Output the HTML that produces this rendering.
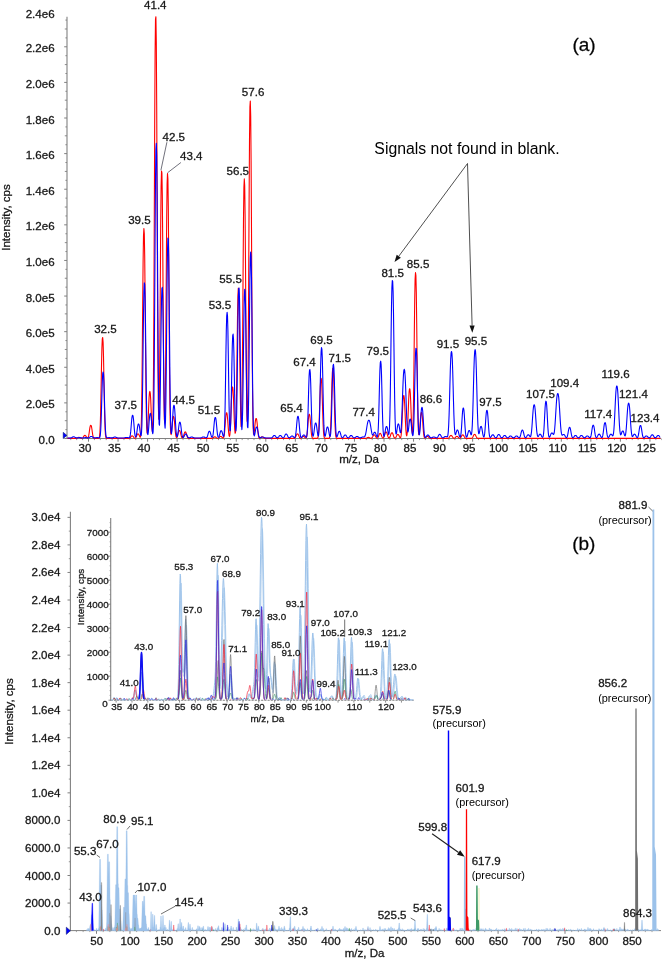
<!DOCTYPE html>
<html><head><meta charset="utf-8"><title>Mass spectra</title>
<style>
html,body{margin:0;padding:0;background:#fff}
svg{display:block;will-change:transform}
text{font-family:"Liberation Sans",sans-serif;stroke:#222;stroke-width:0.3px}
</style></head>
<body>
<svg width="662" height="960" viewBox="0 0 662 960">
<rect width="662" height="960" fill="#ffffff"/>
<line x1="67" y1="16.7" x2="67" y2="439.1" stroke="#808080" stroke-width="1.1" />
<line x1="64.2" y1="438.5" x2="67" y2="438.5" stroke="#808080" stroke-width="1" />
<text x="54.6" y="444" font-size="11.55" text-anchor="end" fill="#111" >0.0</text>
<line x1="65.4" y1="429.6" x2="67" y2="429.6" stroke="#808080" stroke-width="0.9" />
<line x1="64.8" y1="420.69" x2="67" y2="420.69" stroke="#808080" stroke-width="0.9" />
<line x1="65.4" y1="411.79" x2="67" y2="411.79" stroke="#808080" stroke-width="0.9" />
<line x1="64.2" y1="402.89" x2="67" y2="402.89" stroke="#808080" stroke-width="1" />
<text x="54.6" y="408.39" font-size="11.55" text-anchor="end" fill="#111" >2.0e5</text>
<line x1="65.4" y1="393.99" x2="67" y2="393.99" stroke="#808080" stroke-width="0.9" />
<line x1="64.8" y1="385.08" x2="67" y2="385.08" stroke="#808080" stroke-width="0.9" />
<line x1="65.4" y1="376.18" x2="67" y2="376.18" stroke="#808080" stroke-width="0.9" />
<line x1="64.2" y1="367.28" x2="67" y2="367.28" stroke="#808080" stroke-width="1" />
<text x="54.6" y="372.78" font-size="11.55" text-anchor="end" fill="#111" >4.0e5</text>
<line x1="65.4" y1="358.38" x2="67" y2="358.38" stroke="#808080" stroke-width="0.9" />
<line x1="64.8" y1="349.47" x2="67" y2="349.47" stroke="#808080" stroke-width="0.9" />
<line x1="65.4" y1="340.57" x2="67" y2="340.57" stroke="#808080" stroke-width="0.9" />
<line x1="64.2" y1="331.67" x2="67" y2="331.67" stroke="#808080" stroke-width="1" />
<text x="54.6" y="337.17" font-size="11.55" text-anchor="end" fill="#111" >6.0e5</text>
<line x1="65.4" y1="322.77" x2="67" y2="322.77" stroke="#808080" stroke-width="0.9" />
<line x1="64.8" y1="313.87" x2="67" y2="313.87" stroke="#808080" stroke-width="0.9" />
<line x1="65.4" y1="304.96" x2="67" y2="304.96" stroke="#808080" stroke-width="0.9" />
<line x1="64.2" y1="296.06" x2="67" y2="296.06" stroke="#808080" stroke-width="1" />
<text x="54.6" y="301.56" font-size="11.55" text-anchor="end" fill="#111" >8.0e5</text>
<line x1="65.4" y1="287.16" x2="67" y2="287.16" stroke="#808080" stroke-width="0.9" />
<line x1="64.8" y1="278.25" x2="67" y2="278.25" stroke="#808080" stroke-width="0.9" />
<line x1="65.4" y1="269.35" x2="67" y2="269.35" stroke="#808080" stroke-width="0.9" />
<line x1="64.2" y1="260.45" x2="67" y2="260.45" stroke="#808080" stroke-width="1" />
<text x="54.6" y="265.95" font-size="11.55" text-anchor="end" fill="#111" >1.0e6</text>
<line x1="65.4" y1="251.55" x2="67" y2="251.55" stroke="#808080" stroke-width="0.9" />
<line x1="64.8" y1="242.64" x2="67" y2="242.64" stroke="#808080" stroke-width="0.9" />
<line x1="65.4" y1="233.74" x2="67" y2="233.74" stroke="#808080" stroke-width="0.9" />
<line x1="64.2" y1="224.84" x2="67" y2="224.84" stroke="#808080" stroke-width="1" />
<text x="54.6" y="230.34" font-size="11.55" text-anchor="end" fill="#111" >1.2e6</text>
<line x1="65.4" y1="215.94" x2="67" y2="215.94" stroke="#808080" stroke-width="0.9" />
<line x1="64.8" y1="207.03" x2="67" y2="207.03" stroke="#808080" stroke-width="0.9" />
<line x1="65.4" y1="198.13" x2="67" y2="198.13" stroke="#808080" stroke-width="0.9" />
<line x1="64.2" y1="189.23" x2="67" y2="189.23" stroke="#808080" stroke-width="1" />
<text x="54.6" y="194.73" font-size="11.55" text-anchor="end" fill="#111" >1.4e6</text>
<line x1="65.4" y1="180.33" x2="67" y2="180.33" stroke="#808080" stroke-width="0.9" />
<line x1="64.8" y1="171.43" x2="67" y2="171.43" stroke="#808080" stroke-width="0.9" />
<line x1="65.4" y1="162.52" x2="67" y2="162.52" stroke="#808080" stroke-width="0.9" />
<line x1="64.2" y1="153.62" x2="67" y2="153.62" stroke="#808080" stroke-width="1" />
<text x="54.6" y="159.12" font-size="11.55" text-anchor="end" fill="#111" >1.6e6</text>
<line x1="65.4" y1="144.72" x2="67" y2="144.72" stroke="#808080" stroke-width="0.9" />
<line x1="64.8" y1="135.81" x2="67" y2="135.81" stroke="#808080" stroke-width="0.9" />
<line x1="65.4" y1="126.91" x2="67" y2="126.91" stroke="#808080" stroke-width="0.9" />
<line x1="64.2" y1="118.01" x2="67" y2="118.01" stroke="#808080" stroke-width="1" />
<text x="54.6" y="123.51" font-size="11.55" text-anchor="end" fill="#111" >1.8e6</text>
<line x1="65.4" y1="109.11" x2="67" y2="109.11" stroke="#808080" stroke-width="0.9" />
<line x1="64.8" y1="100.2" x2="67" y2="100.2" stroke="#808080" stroke-width="0.9" />
<line x1="65.4" y1="91.3" x2="67" y2="91.3" stroke="#808080" stroke-width="0.9" />
<line x1="64.2" y1="82.4" x2="67" y2="82.4" stroke="#808080" stroke-width="1" />
<text x="54.6" y="87.9" font-size="11.55" text-anchor="end" fill="#111" >2.0e6</text>
<line x1="65.4" y1="73.5" x2="67" y2="73.5" stroke="#808080" stroke-width="0.9" />
<line x1="64.8" y1="64.59" x2="67" y2="64.59" stroke="#808080" stroke-width="0.9" />
<line x1="65.4" y1="55.69" x2="67" y2="55.69" stroke="#808080" stroke-width="0.9" />
<line x1="64.2" y1="46.79" x2="67" y2="46.79" stroke="#808080" stroke-width="1" />
<text x="54.6" y="52.29" font-size="11.55" text-anchor="end" fill="#111" >2.2e6</text>
<line x1="65.4" y1="37.89" x2="67" y2="37.89" stroke="#808080" stroke-width="0.9" />
<line x1="64.8" y1="28.99" x2="67" y2="28.99" stroke="#808080" stroke-width="0.9" />
<line x1="65.4" y1="20.08" x2="67" y2="20.08" stroke="#808080" stroke-width="0.9" />
<text x="54.6" y="18.3" font-size="11.55" text-anchor="end" fill="#111" >2.4e6</text>
<line x1="67" y1="438.5" x2="661" y2="438.5" stroke="#808080" stroke-width="1.0" />
<line x1="70.77" y1="438.5" x2="70.77" y2="440.1" stroke="#808080" stroke-width="0.8" />
<line x1="76.68" y1="438.5" x2="76.68" y2="440.1" stroke="#808080" stroke-width="0.8" />
<line x1="82.59" y1="438.5" x2="82.59" y2="440.1" stroke="#808080" stroke-width="0.8" />
<line x1="88.5" y1="438.5" x2="88.5" y2="441.7" stroke="#808080" stroke-width="1" />
<text x="84.9" y="451.8" font-size="11.55" text-anchor="middle" fill="#111" >30</text>
<line x1="94.41" y1="438.5" x2="94.41" y2="440.1" stroke="#808080" stroke-width="0.8" />
<line x1="100.32" y1="438.5" x2="100.32" y2="440.1" stroke="#808080" stroke-width="0.8" />
<line x1="106.23" y1="438.5" x2="106.23" y2="440.1" stroke="#808080" stroke-width="0.8" />
<line x1="112.14" y1="438.5" x2="112.14" y2="440.1" stroke="#808080" stroke-width="0.8" />
<line x1="118.05" y1="438.5" x2="118.05" y2="441.7" stroke="#808080" stroke-width="1" />
<text x="114.45" y="451.8" font-size="11.55" text-anchor="middle" fill="#111" >35</text>
<line x1="123.96" y1="438.5" x2="123.96" y2="440.1" stroke="#808080" stroke-width="0.8" />
<line x1="129.87" y1="438.5" x2="129.87" y2="440.1" stroke="#808080" stroke-width="0.8" />
<line x1="135.78" y1="438.5" x2="135.78" y2="440.1" stroke="#808080" stroke-width="0.8" />
<line x1="141.69" y1="438.5" x2="141.69" y2="440.1" stroke="#808080" stroke-width="0.8" />
<line x1="147.6" y1="438.5" x2="147.6" y2="441.7" stroke="#808080" stroke-width="1" />
<text x="144" y="451.8" font-size="11.55" text-anchor="middle" fill="#111" >40</text>
<line x1="153.51" y1="438.5" x2="153.51" y2="440.1" stroke="#808080" stroke-width="0.8" />
<line x1="159.42" y1="438.5" x2="159.42" y2="440.1" stroke="#808080" stroke-width="0.8" />
<line x1="165.33" y1="438.5" x2="165.33" y2="440.1" stroke="#808080" stroke-width="0.8" />
<line x1="171.24" y1="438.5" x2="171.24" y2="440.1" stroke="#808080" stroke-width="0.8" />
<line x1="177.15" y1="438.5" x2="177.15" y2="441.7" stroke="#808080" stroke-width="1" />
<text x="173.55" y="451.8" font-size="11.55" text-anchor="middle" fill="#111" >45</text>
<line x1="183.06" y1="438.5" x2="183.06" y2="440.1" stroke="#808080" stroke-width="0.8" />
<line x1="188.97" y1="438.5" x2="188.97" y2="440.1" stroke="#808080" stroke-width="0.8" />
<line x1="194.88" y1="438.5" x2="194.88" y2="440.1" stroke="#808080" stroke-width="0.8" />
<line x1="200.79" y1="438.5" x2="200.79" y2="440.1" stroke="#808080" stroke-width="0.8" />
<line x1="206.7" y1="438.5" x2="206.7" y2="441.7" stroke="#808080" stroke-width="1" />
<text x="203.1" y="451.8" font-size="11.55" text-anchor="middle" fill="#111" >50</text>
<line x1="212.61" y1="438.5" x2="212.61" y2="440.1" stroke="#808080" stroke-width="0.8" />
<line x1="218.52" y1="438.5" x2="218.52" y2="440.1" stroke="#808080" stroke-width="0.8" />
<line x1="224.43" y1="438.5" x2="224.43" y2="440.1" stroke="#808080" stroke-width="0.8" />
<line x1="230.34" y1="438.5" x2="230.34" y2="440.1" stroke="#808080" stroke-width="0.8" />
<line x1="236.25" y1="438.5" x2="236.25" y2="441.7" stroke="#808080" stroke-width="1" />
<text x="232.65" y="451.8" font-size="11.55" text-anchor="middle" fill="#111" >55</text>
<line x1="242.16" y1="438.5" x2="242.16" y2="440.1" stroke="#808080" stroke-width="0.8" />
<line x1="248.07" y1="438.5" x2="248.07" y2="440.1" stroke="#808080" stroke-width="0.8" />
<line x1="253.98" y1="438.5" x2="253.98" y2="440.1" stroke="#808080" stroke-width="0.8" />
<line x1="259.89" y1="438.5" x2="259.89" y2="440.1" stroke="#808080" stroke-width="0.8" />
<line x1="265.8" y1="438.5" x2="265.8" y2="441.7" stroke="#808080" stroke-width="1" />
<text x="262.2" y="451.8" font-size="11.55" text-anchor="middle" fill="#111" >60</text>
<line x1="271.71" y1="438.5" x2="271.71" y2="440.1" stroke="#808080" stroke-width="0.8" />
<line x1="277.62" y1="438.5" x2="277.62" y2="440.1" stroke="#808080" stroke-width="0.8" />
<line x1="283.53" y1="438.5" x2="283.53" y2="440.1" stroke="#808080" stroke-width="0.8" />
<line x1="289.44" y1="438.5" x2="289.44" y2="440.1" stroke="#808080" stroke-width="0.8" />
<line x1="295.35" y1="438.5" x2="295.35" y2="441.7" stroke="#808080" stroke-width="1" />
<text x="291.75" y="451.8" font-size="11.55" text-anchor="middle" fill="#111" >65</text>
<line x1="301.26" y1="438.5" x2="301.26" y2="440.1" stroke="#808080" stroke-width="0.8" />
<line x1="307.17" y1="438.5" x2="307.17" y2="440.1" stroke="#808080" stroke-width="0.8" />
<line x1="313.08" y1="438.5" x2="313.08" y2="440.1" stroke="#808080" stroke-width="0.8" />
<line x1="318.99" y1="438.5" x2="318.99" y2="440.1" stroke="#808080" stroke-width="0.8" />
<line x1="324.9" y1="438.5" x2="324.9" y2="441.7" stroke="#808080" stroke-width="1" />
<text x="321.3" y="451.8" font-size="11.55" text-anchor="middle" fill="#111" >70</text>
<line x1="330.81" y1="438.5" x2="330.81" y2="440.1" stroke="#808080" stroke-width="0.8" />
<line x1="336.72" y1="438.5" x2="336.72" y2="440.1" stroke="#808080" stroke-width="0.8" />
<line x1="342.63" y1="438.5" x2="342.63" y2="440.1" stroke="#808080" stroke-width="0.8" />
<line x1="348.54" y1="438.5" x2="348.54" y2="440.1" stroke="#808080" stroke-width="0.8" />
<line x1="354.45" y1="438.5" x2="354.45" y2="441.7" stroke="#808080" stroke-width="1" />
<text x="350.85" y="451.8" font-size="11.55" text-anchor="middle" fill="#111" >75</text>
<line x1="360.36" y1="438.5" x2="360.36" y2="440.1" stroke="#808080" stroke-width="0.8" />
<line x1="366.27" y1="438.5" x2="366.27" y2="440.1" stroke="#808080" stroke-width="0.8" />
<line x1="372.18" y1="438.5" x2="372.18" y2="440.1" stroke="#808080" stroke-width="0.8" />
<line x1="378.09" y1="438.5" x2="378.09" y2="440.1" stroke="#808080" stroke-width="0.8" />
<line x1="384" y1="438.5" x2="384" y2="441.7" stroke="#808080" stroke-width="1" />
<text x="380.4" y="451.8" font-size="11.55" text-anchor="middle" fill="#111" >80</text>
<line x1="389.91" y1="438.5" x2="389.91" y2="440.1" stroke="#808080" stroke-width="0.8" />
<line x1="395.82" y1="438.5" x2="395.82" y2="440.1" stroke="#808080" stroke-width="0.8" />
<line x1="401.73" y1="438.5" x2="401.73" y2="440.1" stroke="#808080" stroke-width="0.8" />
<line x1="407.64" y1="438.5" x2="407.64" y2="440.1" stroke="#808080" stroke-width="0.8" />
<line x1="413.55" y1="438.5" x2="413.55" y2="441.7" stroke="#808080" stroke-width="1" />
<text x="409.95" y="451.8" font-size="11.55" text-anchor="middle" fill="#111" >85</text>
<line x1="419.46" y1="438.5" x2="419.46" y2="440.1" stroke="#808080" stroke-width="0.8" />
<line x1="425.37" y1="438.5" x2="425.37" y2="440.1" stroke="#808080" stroke-width="0.8" />
<line x1="431.28" y1="438.5" x2="431.28" y2="440.1" stroke="#808080" stroke-width="0.8" />
<line x1="437.19" y1="438.5" x2="437.19" y2="440.1" stroke="#808080" stroke-width="0.8" />
<line x1="443.1" y1="438.5" x2="443.1" y2="441.7" stroke="#808080" stroke-width="1" />
<text x="439.5" y="451.8" font-size="11.55" text-anchor="middle" fill="#111" >90</text>
<line x1="449.01" y1="438.5" x2="449.01" y2="440.1" stroke="#808080" stroke-width="0.8" />
<line x1="454.92" y1="438.5" x2="454.92" y2="440.1" stroke="#808080" stroke-width="0.8" />
<line x1="460.83" y1="438.5" x2="460.83" y2="440.1" stroke="#808080" stroke-width="0.8" />
<line x1="466.74" y1="438.5" x2="466.74" y2="440.1" stroke="#808080" stroke-width="0.8" />
<line x1="472.65" y1="438.5" x2="472.65" y2="441.7" stroke="#808080" stroke-width="1" />
<text x="469.05" y="451.8" font-size="11.55" text-anchor="middle" fill="#111" >95</text>
<line x1="478.56" y1="438.5" x2="478.56" y2="440.1" stroke="#808080" stroke-width="0.8" />
<line x1="484.47" y1="438.5" x2="484.47" y2="440.1" stroke="#808080" stroke-width="0.8" />
<line x1="490.38" y1="438.5" x2="490.38" y2="440.1" stroke="#808080" stroke-width="0.8" />
<line x1="496.29" y1="438.5" x2="496.29" y2="440.1" stroke="#808080" stroke-width="0.8" />
<line x1="502.2" y1="438.5" x2="502.2" y2="441.7" stroke="#808080" stroke-width="1" />
<text x="498.6" y="451.8" font-size="11.55" text-anchor="middle" fill="#111" >100</text>
<line x1="508.11" y1="438.5" x2="508.11" y2="440.1" stroke="#808080" stroke-width="0.8" />
<line x1="514.02" y1="438.5" x2="514.02" y2="440.1" stroke="#808080" stroke-width="0.8" />
<line x1="519.93" y1="438.5" x2="519.93" y2="440.1" stroke="#808080" stroke-width="0.8" />
<line x1="525.84" y1="438.5" x2="525.84" y2="440.1" stroke="#808080" stroke-width="0.8" />
<line x1="531.75" y1="438.5" x2="531.75" y2="441.7" stroke="#808080" stroke-width="1" />
<text x="528.15" y="451.8" font-size="11.55" text-anchor="middle" fill="#111" >105</text>
<line x1="537.66" y1="438.5" x2="537.66" y2="440.1" stroke="#808080" stroke-width="0.8" />
<line x1="543.57" y1="438.5" x2="543.57" y2="440.1" stroke="#808080" stroke-width="0.8" />
<line x1="549.48" y1="438.5" x2="549.48" y2="440.1" stroke="#808080" stroke-width="0.8" />
<line x1="555.39" y1="438.5" x2="555.39" y2="440.1" stroke="#808080" stroke-width="0.8" />
<line x1="561.3" y1="438.5" x2="561.3" y2="441.7" stroke="#808080" stroke-width="1" />
<text x="557.7" y="451.8" font-size="11.55" text-anchor="middle" fill="#111" >110</text>
<line x1="567.21" y1="438.5" x2="567.21" y2="440.1" stroke="#808080" stroke-width="0.8" />
<line x1="573.12" y1="438.5" x2="573.12" y2="440.1" stroke="#808080" stroke-width="0.8" />
<line x1="579.03" y1="438.5" x2="579.03" y2="440.1" stroke="#808080" stroke-width="0.8" />
<line x1="584.94" y1="438.5" x2="584.94" y2="440.1" stroke="#808080" stroke-width="0.8" />
<line x1="590.85" y1="438.5" x2="590.85" y2="441.7" stroke="#808080" stroke-width="1" />
<text x="587.25" y="451.8" font-size="11.55" text-anchor="middle" fill="#111" >115</text>
<line x1="596.76" y1="438.5" x2="596.76" y2="440.1" stroke="#808080" stroke-width="0.8" />
<line x1="602.67" y1="438.5" x2="602.67" y2="440.1" stroke="#808080" stroke-width="0.8" />
<line x1="608.58" y1="438.5" x2="608.58" y2="440.1" stroke="#808080" stroke-width="0.8" />
<line x1="614.49" y1="438.5" x2="614.49" y2="440.1" stroke="#808080" stroke-width="0.8" />
<line x1="620.4" y1="438.5" x2="620.4" y2="441.7" stroke="#808080" stroke-width="1" />
<text x="616.8" y="451.8" font-size="11.55" text-anchor="middle" fill="#111" >120</text>
<line x1="626.31" y1="438.5" x2="626.31" y2="440.1" stroke="#808080" stroke-width="0.8" />
<line x1="632.22" y1="438.5" x2="632.22" y2="440.1" stroke="#808080" stroke-width="0.8" />
<line x1="638.13" y1="438.5" x2="638.13" y2="440.1" stroke="#808080" stroke-width="0.8" />
<line x1="644.04" y1="438.5" x2="644.04" y2="440.1" stroke="#808080" stroke-width="0.8" />
<line x1="649.95" y1="438.5" x2="649.95" y2="441.7" stroke="#808080" stroke-width="1" />
<text x="646.35" y="451.8" font-size="11.55" text-anchor="middle" fill="#111" >125</text>
<line x1="655.86" y1="438.5" x2="655.86" y2="440.1" stroke="#808080" stroke-width="0.8" />
<line x1="661.77" y1="438.5" x2="661.77" y2="440.1" stroke="#808080" stroke-width="0.8" />
<text x="359.1" y="462.6" font-size="11.55" text-anchor="middle" fill="#111" >m/z, Da</text>
<text transform="translate(9.8,217.5) rotate(-90)" font-size="11.55" text-anchor="middle" fill="#111">Intensity, cps</text>
<polyline fill="none" stroke="#ff0000" stroke-width="1.1" stroke-linejoin="round" points="67.5,438.4 67.9,438.4 68.3,438.4 68.7,438.4 69.1,438.4 69.5,438.4 69.9,438.4 70.3,438.4 70.7,438.4 71.1,438.4 71.5,438.4 71.9,438.4 72.3,438.4 72.7,438.4 73.1,438.4 73.5,438.4 73.9,438.4 74.3,438.4 74.7,438.4 75.1,438.4 75.5,438.4 75.9,438.38 76.3,438.34 76.7,438.25 77.1,438.1 77.5,437.89 77.9,437.67 78.3,437.5 78.7,437.41 79.1,437.4 79.5,437.45 79.9,437.6 80.3,437.8 80.7,438.02 81.1,438.2 81.5,438.29 81.9,438.29 82.3,438.17 82.7,437.87 83.1,437.37 83.5,436.72 83.9,436.08 84.3,435.61 84.7,435.41 85.1,435.42 85.5,435.64 85.9,436.12 86.3,436.77 86.7,437.41 87.1,437.87 87.5,438.07 87.9,437.89 88.3,437.16 88.7,435.63 89.1,433.24 89.5,430.32 89.9,427.61 90.3,425.82 90.7,425.21 91.1,425.41 91.5,426.66 91.9,429.03 92.3,431.95 92.7,434.65 93.1,436.59 93.5,437.68 93.9,438.17 94.3,438.34 94.7,438.39 95.1,438.4 95.5,438.4 95.9,438.4 96.3,438.4 96.7,438.4 97.1,438.4 97.5,438.4 97.9,438.4 98.3,438.39 98.7,438.31 99.1,437.94 99.5,436.6 99.9,432.78 100.3,424.26 100.7,409.26 101.1,388.49 101.5,366.14 101.9,348.21 102.3,338.88 102.7,337.51 103.1,342.37 103.5,356.27 103.9,377.14 104.3,399.41 104.7,417.61 105.1,429.26 105.5,435.13 105.9,437.46 106.3,438.19 106.7,438.36 107.1,438.39 107.5,438.4 107.9,438.4 108.3,438.4 108.7,438.4 109.1,438.4 109.5,438.4 109.9,438.4 110.3,438.4 110.7,438.4 111.1,438.4 111.5,438.4 111.9,438.4 112.3,438.4 112.7,438.4 113.1,438.4 113.5,438.4 113.9,438.4 114.3,438.4 114.7,438.4 115.1,438.4 115.5,438.4 115.9,438.4 116.3,438.4 116.7,438.4 117.1,438.4 117.5,438.4 117.9,438.4 118.3,438.4 118.7,438.4 119.1,438.4 119.5,438.4 119.9,438.4 120.3,438.4 120.7,438.4 121.1,438.4 121.5,438.4 121.9,438.4 122.3,438.4 122.7,438.4 123.1,438.4 123.5,438.4 123.9,438.4 124.3,438.4 124.7,438.4 125.1,438.4 125.5,438.4 125.9,438.4 126.3,438.4 126.7,438.4 127.1,438.4 127.5,438.4 127.9,438.4 128.3,438.4 128.7,438.38 129.1,438.34 129.5,438.23 129.9,437.99 130.3,437.59 130.7,437.06 131.1,436.52 131.5,436.11 131.9,435.92 132.3,435.91 132.7,436.07 133.1,436.45 133.5,436.99 133.9,437.53 134.3,437.94 134.7,438.17 135.1,438.2 135.5,438 135.9,437.52 136.3,436.73 136.7,435.75 137.1,434.8 137.5,434.15 137.9,433.91 138.3,433.95 138.7,434.34 139.1,435.11 139.5,436.09 139.9,436.93 140.3,437.15 140.7,435.7 141.1,430.16 141.5,416.37 141.9,389.95 142.3,350.23 142.7,303.56 143.1,261.89 143.5,236.04 143.9,228.62 144.3,233.52 144.7,256.02 145.1,295.54 145.5,342.26 145.9,383.85 146.3,412.58 146.7,427.81 147.1,432.99 147.5,431.59 147.9,425.53 148.3,416.2 148.7,405.76 149.1,397.1 149.5,392.33 149.9,391.41 150.3,393.3 150.7,399.36 151.1,408.83 151.5,419.19 151.9,427.51 152.3,431.37 152.7,427.75 153.1,410.86 153.5,372.13 153.9,305.58 154.3,216.34 154.7,123.8 155.1,52.96 155.5,19.24 155.9,16.68 156.3,41.95 156.7,105.16 157.1,194.9 157.5,286.92 157.9,359.24 158.3,402.63 158.7,419.18 159.1,413.54 159.5,387.32 159.9,341.61 160.3,283.24 160.7,226.48 161.1,186.69 161.5,170.95 161.9,172.75 162.3,194.44 162.7,239.61 163.1,298.34 163.5,354.71 163.9,396.2 164.3,418.6 164.7,423.07 165.1,410.34 165.5,379 165.9,329.8 166.3,271.01 166.7,217.69 167.1,183.85 167.5,173.47 167.9,178.83 168.3,206.04 168.7,255.11 169.1,314.06 169.5,367.24 169.9,404.54 170.3,424.96 170.7,433.25 171.1,434.66 171.5,432.43 171.9,428.23 172.3,423.36 172.7,419.23 173.1,416.9 173.5,416.4 173.9,417.2 174.3,419.94 174.7,424.32 175.1,429.21 175.5,433.36 175.9,436.08 176.3,437.4 176.7,437.66 177.1,437.14 177.5,435.95 177.9,434.29 178.3,432.53 178.7,431.16 179.1,430.49 179.5,430.42 179.9,430.86 180.3,432.02 180.7,433.7 181.1,435.45 181.5,436.84 181.9,437.68 182.3,437.99 182.7,437.83 183.1,437.21 183.5,436.12 183.9,434.71 184.3,433.33 184.7,432.33 185.1,431.92 185.5,431.95 185.9,432.45 186.3,433.52 186.7,434.93 187.1,436.31 187.5,437.35 187.9,437.97 188.3,438.26 188.7,438.36 189.1,438.39 189.5,438.4 189.9,438.4 190.3,438.4 190.7,438.4 191.1,438.4 191.5,438.4 191.9,438.4 192.3,438.4 192.7,438.4 193.1,438.4 193.5,438.4 193.9,438.4 194.3,438.4 194.7,438.4 195.1,438.4 195.5,438.4 195.9,438.4 196.3,438.4 196.7,438.4 197.1,438.4 197.5,438.4 197.9,438.4 198.3,438.4 198.7,438.4 199.1,438.4 199.5,438.4 199.9,438.4 200.3,438.4 200.7,438.4 201.1,438.4 201.5,438.4 201.9,438.4 202.3,438.4 202.7,438.4 203.1,438.4 203.5,438.4 203.9,438.4 204.3,438.4 204.7,438.4 205.1,438.4 205.5,438.4 205.9,438.4 206.3,438.4 206.7,438.4 207.1,438.4 207.5,438.4 207.9,438.4 208.3,438.4 208.7,438.4 209.1,438.4 209.5,438.4 209.9,438.4 210.3,438.4 210.7,438.4 211.1,438.4 211.5,438.39 211.9,438.35 212.3,438.26 212.7,438.09 213.1,437.82 213.5,437.49 213.9,437.18 214.3,436.97 214.7,436.9 215.1,436.92 215.5,437.06 215.9,437.33 216.3,437.66 216.7,437.97 217.1,438.19 217.5,438.29 217.9,438.29 218.3,438.17 218.7,437.91 219.1,437.52 219.5,437.08 219.9,436.69 220.3,436.46 220.7,436.4 221.1,436.46 221.5,436.69 221.9,437.08 222.3,437.52 222.7,437.89 223.1,438.06 223.5,437.86 223.9,436.96 224.3,434.83 224.7,431.04 225.1,425.77 225.5,420.08 225.9,415.49 226.3,413.09 226.7,412.72 227.1,413.94 227.5,417.44 227.9,422.74 228.3,428.4 228.7,432.99 229.1,435.72 229.5,436.34 229.9,434.55 230.3,429.68 230.7,421.29 231.1,410.24 231.5,399.04 231.9,390.74 232.3,387.02 232.7,386.96 233.1,390.44 233.5,398.54 233.9,409.65 234.3,420.74 234.7,429.1 235.1,433.28 235.5,432.44 235.9,424.89 236.3,408.18 236.7,381.46 237.1,348.38 237.5,317.04 237.9,295.84 238.3,288.12 238.7,289.86 239.1,303.23 239.5,329.55 239.9,362.75 240.3,393.81 240.7,415.92 241.1,426.54 241.5,425.08 241.9,409.53 242.3,376.77 242.7,327.23 243.1,269.47 243.5,218.47 243.9,187.38 244.3,178.91 244.7,185.59 245.1,214.32 245.5,263.8 245.9,321.58 246.3,372.34 246.7,406.29 247.1,421.12 247.5,417.21 247.9,392.66 248.3,344.65 248.7,276.29 249.1,201.37 249.5,140 249.9,106.9 250.3,101.08 250.7,115.63 251.1,160.23 251.5,228.98 251.9,303.71 252.3,365.72 252.7,405.92 253.1,426.22 253.5,433.65 253.9,434.39 254.3,431.83 254.7,427.71 255.1,423.37 255.5,420.08 255.9,418.56 256.3,418.48 256.7,419.74 257.1,422.79 257.5,427.06 257.9,431.39 258.3,434.78 258.7,436.85 259.1,437.83 259.5,438.13 259.9,438.08 260.3,437.84 260.7,437.52 261.1,437.2 261.5,436.99 261.9,436.9 262.3,436.92 262.7,437.04 263.1,437.3 263.5,437.63 263.9,437.94 264.3,438.17 264.7,438.31 265.1,438.37 265.5,438.39 265.9,438.4 266.3,438.4 266.7,438.4 267.1,438.4 267.5,438.4 267.9,438.4 268.3,438.4 268.7,438.4 269.1,438.4 269.5,438.4 269.9,438.4 270.3,438.4 270.7,438.4 271.1,438.4 271.5,438.4 271.9,438.4 272.3,438.4 272.7,438.4 273.1,438.4 273.5,438.4 273.9,438.4 274.3,438.4 274.7,438.4 275.1,438.4 275.5,438.4 275.9,438.4 276.3,438.4 276.7,438.4 277.1,438.4 277.5,438.4 277.9,438.4 278.3,438.4 278.7,438.4 279.1,438.4 279.5,438.4 279.9,438.4 280.3,438.4 280.7,438.4 281.1,438.4 281.5,438.4 281.9,438.4 282.3,438.4 282.7,438.4 283.1,438.4 283.5,438.4 283.9,438.4 284.3,438.4 284.7,438.4 285.1,438.4 285.5,438.4 285.9,438.4 286.3,438.4 286.7,438.4 287.1,438.4 287.5,438.4 287.9,438.4 288.3,438.4 288.7,438.4 289.1,438.4 289.5,438.4 289.9,438.4 290.3,438.4 290.7,438.4 291.1,438.4 291.5,438.4 291.9,438.4 292.3,438.4 292.7,438.4 293.1,438.4 293.5,438.4 293.9,438.38 294.3,438.33 294.7,438.19 295.1,437.85 295.5,437.23 295.9,436.34 296.3,435.34 296.7,434.49 297.1,434.01 297.5,433.9 297.9,434.06 298.3,434.61 298.7,435.51 299.1,436.51 299.5,437.36 299.9,437.92 300.3,438.19 300.7,438.23 301.1,438.09 301.5,437.79 301.9,437.38 302.3,436.94 302.7,436.59 303.1,436.42 303.5,436.4 303.9,436.51 304.3,436.8 304.7,437.22 305.1,437.65 305.5,437.97 305.9,438.06 306.3,437.71 306.7,436.55 307.1,434.06 307.5,429.98 307.9,424.74 308.3,419.57 308.7,415.85 309.1,414.3 309.5,414.38 309.9,416.2 310.3,420.16 310.7,425.42 311.1,430.57 311.5,434.46 311.9,436.77 312.3,437.86 312.7,438.25 313.1,438.37 313.5,438.39 313.9,438.4 314.3,438.4 314.7,438.4 315.1,438.4 315.5,438.4 315.9,438.4 316.3,438.4 316.7,438.39 317.1,438.36 317.5,438.2 317.9,437.58 318.3,435.72 318.7,431.35 319.1,423.27 319.5,411.47 319.9,398.06 320.3,386.53 320.7,379.8 321.1,378.2 321.5,380.11 321.9,387.26 322.3,399.05 322.7,412.45 323.1,424.01 323.5,431.8 323.9,435.93 324.3,437.66 324.7,438.22 325.1,438.37 325.5,438.4 325.9,438.4 326.3,438.4 326.7,438.4 327.1,438.4 327.5,438.4 327.9,438.4 328.3,438.4 328.7,438.38 329.1,438.3 329.5,437.93 329.9,436.67 330.3,433.31 330.7,426.26 331.1,414.6 331.5,399.46 331.9,384.29 332.3,373.19 332.7,368.37 333.1,368.42 333.5,373.4 333.9,384.64 334.3,399.86 334.7,414.95 335.1,426.49 335.5,433.43 335.9,436.72 336.3,437.95 336.7,438.3 337.1,438.38 337.5,438.4 337.9,438.4 338.3,438.4 338.7,438.4 339.1,438.4 339.5,438.4 339.9,438.4 340.3,438.4 340.7,438.4 341.1,438.4 341.5,438.4 341.9,438.4 342.3,438.4 342.7,438.4 343.1,438.4 343.5,438.4 343.9,438.4 344.3,438.4 344.7,438.4 345.1,438.4 345.5,438.4 345.9,438.4 346.3,438.4 346.7,438.4 347.1,438.4 347.5,438.4 347.9,438.4 348.3,438.4 348.7,438.4 349.1,438.4 349.5,438.4 349.9,438.4 350.3,438.4 350.7,438.4 351.1,438.4 351.5,438.4 351.9,438.4 352.3,438.4 352.7,438.4 353.1,438.4 353.5,438.4 353.9,438.4 354.3,438.4 354.7,438.4 355.1,438.4 355.5,438.4 355.9,438.4 356.3,438.4 356.7,438.4 357.1,438.4 357.5,438.4 357.9,438.4 358.3,438.4 358.7,438.4 359.1,438.4 359.5,438.4 359.9,438.4 360.3,438.4 360.7,438.4 361.1,438.4 361.5,438.4 361.9,438.4 362.3,438.4 362.7,438.4 363.1,438.4 363.5,438.4 363.9,438.4 364.3,438.4 364.7,438.4 365.1,438.39 365.5,438.36 365.9,438.29 366.3,438.17 366.7,437.97 367.1,437.75 367.5,437.55 367.9,437.43 368.3,437.4 368.7,437.42 369.1,437.53 369.5,437.72 369.9,437.95 370.3,438.14 370.7,438.27 371.1,438.3 371.5,438.21 371.9,437.94 372.3,437.44 372.7,436.73 373.1,435.95 373.5,435.31 373.9,434.96 374.3,434.9 374.7,435.05 375.1,435.51 375.5,436.22 375.9,436.99 376.3,437.63 376.7,438.03 377.1,438.17 377.5,438.04 377.9,437.59 378.3,436.8 378.7,435.75 379.1,434.66 379.5,433.83 379.9,433.44 380.3,433.42 380.7,433.73 381.1,434.48 381.5,435.55 381.9,436.63 382.3,437.48 382.7,437.96 383.1,438.08 383.5,437.83 383.9,437.15 384.3,436.02 384.7,434.6 385.1,433.23 385.5,432.28 385.9,431.92 386.3,431.97 386.7,432.51 387.1,433.62 387.5,435.04 387.9,436.4 388.3,437.4 388.7,437.94 389.1,438.05 389.5,437.78 389.9,437.1 390.3,436.03 390.7,434.77 391.1,433.63 391.5,432.91 391.9,432.7 392.3,432.83 392.7,433.42 393.1,434.49 393.5,435.76 393.9,436.89 394.3,437.67 394.7,438.06 395.1,438.12 395.5,437.87 395.9,437.33 396.3,436.53 396.7,435.64 397.1,434.9 397.5,434.48 397.9,434.4 398.3,434.55 398.7,435.06 399.1,435.86 399.5,436.74 399.9,437.45 400.3,437.76 400.7,437.37 401.1,435.67 401.5,431.8 401.9,425.1 402.3,416.07 402.7,406.64 403.1,399.36 403.5,395.83 403.9,395.51 404.3,397.99 404.7,404.32 405.1,413.4 405.5,422.78 405.9,430.17 406.3,434.52 406.7,435.82 407.1,434.14 407.5,429.15 407.9,420.69 408.3,409.87 408.7,399.29 409.1,391.79 409.5,388.76 409.9,389.03 410.3,392.94 410.7,401.23 411.1,412.11 411.5,422.57 411.9,430.13 412.3,433.44 412.7,431.4 413.1,421.84 413.5,401.97 413.9,371.27 414.3,334.47 414.7,300.86 415.1,279.29 415.5,272.46 415.9,275.57 416.3,292.23 416.7,322.7 417.1,359.59 417.5,393.09 417.9,416.7 418.3,429.6 418.7,434.54 419.1,434.59 419.5,431.57 419.9,426.54 420.3,420.76 420.7,415.85 421.1,413.03 421.5,412.4 421.9,413.3 422.3,416.47 422.7,421.62 423.1,427.4 423.5,432.34 423.9,435.63 424.3,437.34 424.7,437.98 425.1,438.03 425.5,437.79 425.9,437.38 426.3,436.94 426.7,436.6 427.1,436.42 427.5,436.4 427.9,436.51 428.3,436.8 428.7,437.21 429.1,437.65 429.5,438.01 429.9,438.23 430.3,438.34 430.7,438.38 431.1,438.4 431.5,438.4 431.9,438.4 432.3,438.4 432.7,438.4 433.1,438.4 433.5,438.4 433.9,438.4 434.3,438.4 434.7,438.4 435.1,438.4 435.5,438.4 435.9,438.4 436.3,438.4 436.7,438.4 437.1,438.4 437.5,438.4 437.9,438.4 438.3,438.4 438.7,438.4 439.1,438.4 439.5,438.4 439.9,438.4 440.3,438.4 440.7,438.4 441.1,438.4 441.5,438.4 441.9,438.4 442.3,438.4 442.7,438.4 443.1,438.4 443.5,438.4 443.9,438.4 444.3,438.4 444.7,438.4 445.1,438.4 445.5,438.4 445.9,438.4 446.3,438.4 446.7,438.4 447.1,438.4 447.5,438.39 447.9,438.35 448.3,438.23 448.7,437.98 449.1,437.53 449.5,436.91 449.9,436.25 450.3,435.72 450.7,435.44 451.1,435.4 451.5,435.55 451.9,435.97 452.3,436.59 452.7,437.25 453.1,437.79 453.5,438.12 453.9,438.26 454.3,438.23 454.7,438.05 455.1,437.73 455.5,437.3 455.9,436.87 456.3,436.55 456.7,436.41 457.1,436.41 457.5,436.55 457.9,436.87 458.3,437.3 458.7,437.73 459.1,438.05 459.5,438.23 459.9,438.24 460.3,438.07 460.7,437.68 461.1,437.06 461.5,436.29 461.9,435.56 462.3,435.08 462.7,434.9 463.1,434.95 463.5,435.27 463.9,435.89 464.3,436.66 464.7,437.38 465.1,437.91 465.5,438.2 465.9,438.34 466.3,438.38 466.7,438.4 467.1,438.4 467.5,438.4 467.9,438.4 468.3,438.4 468.7,438.4 469.1,438.4 469.5,438.4 469.9,438.4 470.3,438.4 470.7,438.4 471.1,438.38 471.5,438.33 471.9,438.19 472.3,437.86 472.7,437.27 473.1,436.46 473.5,435.57 473.9,434.85 474.3,434.47 474.7,434.4 475.1,434.58 475.5,435.12 475.9,435.94 476.3,436.82 476.7,437.55 477.1,438.03 477.5,438.26 477.9,438.36 478.3,438.39 478.7,438.4 479.1,438.4 479.5,438.4 479.9,438.4 480.3,438.4 480.7,438.4 481.1,438.4 481.5,438.4 481.9,438.4 482.3,438.4 482.7,438.4 483.1,438.4 483.5,438.4 483.9,438.4 484.3,438.4 484.7,438.4 485.1,438.4 485.5,438.4 485.9,438.4 486.3,438.4 486.7,438.4 487.1,438.4 487.5,438.4 487.9,438.4 488.3,438.4 488.7,438.4 489.1,438.4 489.5,438.4 489.9,438.4 490.3,438.4 490.7,438.4 491.1,438.4 491.5,438.4 491.9,438.4 492.3,438.4 492.7,438.4 493.1,438.4 493.5,438.4 493.9,438.4 494.3,438.4 494.7,438.4 495.1,438.4 495.5,438.4 495.9,438.4 496.3,438.4 496.7,438.4 497.1,438.4 497.5,438.4 497.9,438.4 498.3,438.4 498.7,438.4 499.1,438.4 499.5,438.4 499.9,438.4 500.3,438.4 500.7,438.4 501.1,438.4 501.5,438.4 501.9,438.4 502.3,438.4 502.7,438.4 503.1,438.4 503.5,438.4 503.9,438.4 504.3,438.4 504.7,438.4 505.1,438.4 505.5,438.4 505.9,438.4 506.3,438.4 506.7,438.4 507.1,438.4 507.5,438.4 507.9,438.4 508.3,438.4 508.7,438.4 509.1,438.4 509.5,438.4 509.9,438.4 510.3,438.4 510.7,438.4 511.1,438.4 511.5,438.4 511.9,438.4 512.3,438.4 512.7,438.4 513.1,438.4 513.5,438.4 513.9,438.4 514.3,438.4 514.7,438.4 515.1,438.4 515.5,438.4 515.9,438.4 516.3,438.4 516.7,438.4 517.1,438.4 517.5,438.4 517.9,438.4 518.3,438.4 518.7,438.4 519.1,438.4 519.5,438.4 519.9,438.4 520.3,438.4 520.7,438.4 521.1,438.4 521.5,438.4 521.9,438.4 522.3,438.4 522.7,438.4 523.1,438.4 523.5,438.4 523.9,438.4 524.3,438.4 524.7,438.4 525.1,438.4 525.5,438.4 525.9,438.4 526.3,438.4 526.7,438.4 527.1,438.4 527.5,438.4 527.9,438.4 528.3,438.4 528.7,438.4 529.1,438.4 529.5,438.4 529.9,438.4 530.3,438.4 530.7,438.4 531.1,438.4 531.5,438.4 531.9,438.4 532.3,438.4 532.7,438.4 533.1,438.4 533.5,438.4 533.9,438.4 534.3,438.4 534.7,438.4 535.1,438.4 535.5,438.4 535.9,438.4 536.3,438.4 536.7,438.4 537.1,438.4 537.5,438.4 537.9,438.4 538.3,438.4 538.7,438.4 539.1,438.4 539.5,438.4 539.9,438.4 540.3,438.4 540.7,438.4 541.1,438.4 541.5,438.4 541.9,438.4 542.3,438.4 542.7,438.4 543.1,438.4 543.5,438.4 543.9,438.4 544.3,438.4 544.7,438.4 545.1,438.4 545.5,438.4 545.9,438.4 546.3,438.4 546.7,438.4 547.1,438.4 547.5,438.4 547.9,438.4 548.3,438.4 548.7,438.4 549.1,438.4 549.5,438.4 549.9,438.4 550.3,438.4 550.7,438.4 551.1,438.4 551.5,438.4 551.9,438.4 552.3,438.4 552.7,438.4 553.1,438.4 553.5,438.4 553.9,438.4 554.3,438.4 554.7,438.4 555.1,438.4 555.5,438.4 555.9,438.4 556.3,438.4 556.7,438.4 557.1,438.4 557.5,438.4 557.9,438.4 558.3,438.4 558.7,438.4 559.1,438.4 559.5,438.4 559.9,438.4 560.3,438.4 560.7,438.4 561.1,438.4 561.5,438.4 561.9,438.4 562.3,438.4 562.7,438.4 563.1,438.4 563.5,438.4 563.9,438.4 564.3,438.4 564.7,438.4 565.1,438.4 565.5,438.4 565.9,438.4 566.3,438.4 566.7,438.4 567.1,438.4 567.5,438.4 567.9,438.4 568.3,438.4 568.7,438.4 569.1,438.4 569.5,438.4 569.9,438.4 570.3,438.4 570.7,438.4 571.1,438.4 571.5,438.4 571.9,438.4 572.3,438.4 572.7,438.4 573.1,438.4 573.5,438.4 573.9,438.4 574.3,438.4 574.7,438.4 575.1,438.4 575.5,438.4 575.9,438.4 576.3,438.4 576.7,438.4 577.1,438.4 577.5,438.4 577.9,438.4 578.3,438.4 578.7,438.4 579.1,438.4 579.5,438.4 579.9,438.4 580.3,438.4 580.7,438.4 581.1,438.4 581.5,438.4 581.9,438.4 582.3,438.4 582.7,438.4 583.1,438.4 583.5,438.4 583.9,438.4 584.3,438.4 584.7,438.4 585.1,438.4 585.5,438.4 585.9,438.4 586.3,438.4 586.7,438.4 587.1,438.4 587.5,438.4 587.9,438.4 588.3,438.4 588.7,438.4 589.1,438.4 589.5,438.4 589.9,438.4 590.3,438.4 590.7,438.4 591.1,438.4 591.5,438.4 591.9,438.4 592.3,438.4 592.7,438.4 593.1,438.4 593.5,438.4 593.9,438.4 594.3,438.4 594.7,438.4 595.1,438.4 595.5,438.4 595.9,438.4 596.3,438.4 596.7,438.4 597.1,438.4 597.5,438.4 597.9,438.4 598.3,438.4 598.7,438.4 599.1,438.4 599.5,438.4 599.9,438.4 600.3,438.4 600.7,438.4 601.1,438.4 601.5,438.4 601.9,438.4 602.3,438.4 602.7,438.4 603.1,438.4 603.5,438.4 603.9,438.4 604.3,438.4 604.7,438.4 605.1,438.4 605.5,438.4 605.9,438.4 606.3,438.4 606.7,438.4 607.1,438.4 607.5,438.4 607.9,438.4 608.3,438.4 608.7,438.4 609.1,438.4 609.5,438.4 609.9,438.4 610.3,438.4 610.7,438.4 611.1,438.4 611.5,438.4 611.9,438.4 612.3,438.4 612.7,438.4 613.1,438.4 613.5,438.4 613.9,438.4 614.3,438.4 614.7,438.4 615.1,438.4 615.5,438.4 615.9,438.4 616.3,438.4 616.7,438.4 617.1,438.4 617.5,438.4 617.9,438.4 618.3,438.4 618.7,438.4 619.1,438.4 619.5,438.4 619.9,438.4 620.3,438.4 620.7,438.4 621.1,438.4 621.5,438.4 621.9,438.4 622.3,438.4 622.7,438.4 623.1,438.4 623.5,438.4 623.9,438.4 624.3,438.4 624.7,438.4 625.1,438.4 625.5,438.4 625.9,438.4 626.3,438.4 626.7,438.4 627.1,438.4 627.5,438.4 627.9,438.4 628.3,438.4 628.7,438.4 629.1,438.4 629.5,438.4 629.9,438.4 630.3,438.4 630.7,438.4 631.1,438.4 631.5,438.4 631.9,438.4 632.3,438.4 632.7,438.4 633.1,438.4 633.5,438.4 633.9,438.4 634.3,438.4 634.7,438.4 635.1,438.4 635.5,438.4 635.9,438.4 636.3,438.4 636.7,438.4 637.1,438.4 637.5,438.4 637.9,438.4 638.3,438.4 638.7,438.4 639.1,438.4 639.5,438.4 639.9,438.4 640.3,438.4 640.7,438.4 641.1,438.4 641.5,438.4 641.9,438.4 642.3,438.4 642.7,438.4 643.1,438.4 643.5,438.4 643.9,438.4 644.3,438.4 644.7,438.4 645.1,438.4 645.5,438.4 645.9,438.4 646.3,438.4 646.7,438.4 647.1,438.4 647.5,438.4 647.9,438.4 648.3,438.4 648.7,438.4 649.1,438.4 649.5,438.4 649.9,438.4 650.3,438.4 650.7,438.4 651.1,438.4 651.5,438.4 651.9,438.4 652.3,438.4 652.7,438.4 653.1,438.4 653.5,438.4 653.9,438.4 654.3,438.4 654.7,438.4 655.1,438.4 655.5,438.4 655.9,438.4 656.3,438.4 656.7,438.4 657.1,438.4 657.5,438.4 657.9,438.4 658.3,438.4 658.7,438.4 659.1,438.4 659.5,438.4 659.9,438.4 660.3,438.4"/>
<polyline fill="none" stroke="#0000ff" stroke-width="1.1" stroke-linejoin="round" points="67.5,437.95 67.9,437.95 68.3,437.95 68.7,437.95 69.1,437.95 69.5,437.95 69.9,437.95 70.3,437.94 70.7,437.91 71.1,437.83 71.5,437.69 71.9,437.47 72.3,437.21 72.7,436.96 73.1,436.8 73.5,436.75 73.9,436.77 74.3,436.89 74.7,437.11 75.1,437.37 75.5,437.62 75.9,437.79 76.3,437.88 76.7,437.92 77.1,437.91 77.5,437.87 77.9,437.81 78.3,437.75 78.7,437.69 79.1,437.66 79.5,437.65 79.9,437.66 80.3,437.7 80.7,437.75 81.1,437.82 81.5,437.88 81.9,437.92 82.3,437.93 82.7,437.93 83.1,437.91 83.5,437.86 83.9,437.8 84.3,437.73 84.7,437.68 85.1,437.65 85.5,437.65 85.9,437.67 86.3,437.71 86.7,437.77 87.1,437.84 87.5,437.89 87.9,437.91 88.3,437.9 88.7,437.84 89.1,437.69 89.5,437.44 89.9,437.12 90.3,436.79 90.7,436.56 91.1,436.46 91.5,436.46 91.9,436.57 92.3,436.81 92.7,437.13 93.1,437.45 93.5,437.7 93.9,437.84 94.3,437.9 94.7,437.91 95.1,437.89 95.5,437.83 95.9,437.77 96.3,437.71 96.7,437.66 97.1,437.65 97.5,437.65 97.9,437.68 98.3,437.74 98.7,437.8 99.1,437.82 99.5,437.7 99.9,437.08 100.3,435.12 100.7,430.47 101.1,421.77 101.5,408.97 101.9,394.26 102.3,381.48 102.7,373.87 103.1,371.95 103.5,373.87 103.9,381.48 104.3,394.26 104.7,408.97 105.1,421.77 105.5,430.47 105.9,435.12 106.3,437.08 106.7,437.7 107.1,437.82 107.5,437.8 107.9,437.74 108.3,437.68 108.7,437.65 109.1,437.65 109.5,437.66 109.9,437.71 110.3,437.77 110.7,437.83 111.1,437.89 111.5,437.92 111.9,437.92 112.3,437.88 112.7,437.78 113.1,437.62 113.5,437.41 113.9,437.19 114.3,437.03 114.7,436.96 115.1,436.95 115.5,437.02 115.9,437.18 116.3,437.39 116.7,437.61 117.1,437.78 117.5,437.88 117.9,437.93 118.3,437.94 118.7,437.95 119.1,437.95 119.5,437.95 119.9,437.95 120.3,437.95 120.7,437.95 121.1,437.95 121.5,437.95 121.9,437.95 122.3,437.95 122.7,437.95 123.1,437.95 123.5,437.94 123.9,437.93 124.3,437.9 124.7,437.83 125.1,437.74 125.5,437.62 125.9,437.53 126.3,437.47 126.7,437.45 127.1,437.46 127.5,437.52 127.9,437.61 128.3,437.72 128.7,437.8 129.1,437.8 129.5,437.55 129.9,436.76 130.3,434.93 130.7,431.66 131.1,427.05 131.5,422.01 131.9,417.88 132.3,415.65 132.7,415.26 133.1,416.24 133.5,419.24 133.9,423.86 134.3,428.89 134.7,433.05 135.1,435.69 135.5,436.85 135.9,436.79 136.3,435.64 136.7,433.45 137.1,430.48 137.5,427.43 137.9,425.13 138.3,424.06 138.7,424 139.1,424.88 139.5,427.02 139.9,430 140.3,432.99 140.7,435.13 141.1,435.59 141.5,433.02 141.9,424.87 142.3,407.9 142.7,380.72 143.1,346.69 143.5,313.99 143.9,291.41 144.3,282.79 144.7,284.15 145.1,297.26 145.5,323.88 145.9,358.06 146.3,390.58 146.7,414.52 147.1,428.22 147.5,433.91 147.9,434.59 148.3,432.15 148.7,427.65 149.1,422.2 149.5,417.31 149.9,414.25 150.3,413.35 150.7,413.91 151.1,416.52 151.5,421.13 151.9,426.58 152.3,431.28 152.7,433.77 153.1,432.21 153.5,423 153.9,400.3 154.3,358.81 154.7,299.67 155.1,234.12 155.5,179.54 155.9,149.29 156.3,143.32 156.7,154.88 157.1,192.51 157.5,251.81 157.9,317.21 158.3,372.06 158.7,407.56 159.1,423.97 159.5,425.22 159.9,413.82 160.3,390.76 160.7,359.09 161.1,326.03 161.5,300.6 161.9,288.39 162.3,287.37 162.7,296.23 163.1,318.64 163.5,350.6 163.9,383.47 164.3,409.25 164.7,424.24 165.1,428.17 165.5,420.81 165.9,400.39 166.3,366.14 166.7,322.53 167.1,280 167.5,250.04 167.9,238.06 168.3,239.27 168.7,255.25 169.1,288.83 169.5,332.7 169.9,374.99 170.3,406.51 170.7,424.78 171.1,432.52 171.5,433.58 171.9,430.49 172.3,424.6 172.7,417.38 173.1,410.79 173.5,406.57 173.9,405.26 174.3,405.9 174.7,409.22 175.1,415.25 175.5,422.52 175.9,429.09 176.3,433.68 176.7,436.08 177.1,436.69 177.5,435.89 177.9,433.82 178.3,430.71 178.7,427.19 179.1,424.21 179.5,422.52 179.9,422.15 180.3,422.71 180.7,424.66 181.1,427.8 181.5,431.31 181.9,434.3 182.3,436.27 182.7,437.26 183.1,437.53 183.5,437.31 183.9,436.73 184.3,435.91 184.7,435.03 185.1,434.34 185.5,434 185.9,433.96 186.3,434.18 186.7,434.75 187.1,435.59 187.5,436.47 187.9,437.17 188.3,437.61 188.7,437.8 189.1,437.84 189.5,437.76 189.9,437.6 190.3,437.39 190.7,437.17 191.1,437.02 191.5,436.95 191.9,436.96 192.3,437.03 192.7,437.2 193.1,437.41 193.5,437.63 193.9,437.79 194.3,437.88 194.7,437.93 195.1,437.94 195.5,437.95 195.9,437.95 196.3,437.95 196.7,437.95 197.1,437.95 197.5,437.95 197.9,437.95 198.3,437.95 198.7,437.95 199.1,437.95 199.5,437.95 199.9,437.95 200.3,437.94 200.7,437.91 201.1,437.83 201.5,437.7 201.9,437.5 202.3,437.28 202.7,437.09 203.1,436.98 203.5,436.95 203.9,436.98 204.3,437.1 204.7,437.3 205.1,437.52 205.5,437.7 205.9,437.81 206.3,437.79 206.7,437.56 207.1,436.99 207.5,435.99 207.9,434.6 208.3,433.12 208.7,431.94 209.1,431.34 209.5,431.26 209.9,431.6 210.3,432.53 210.7,433.92 211.1,435.39 211.5,436.57 211.9,437.22 212.3,437.23 212.7,436.4 213.1,434.38 213.5,430.98 213.9,426.56 214.3,422.12 214.7,418.87 215.1,417.46 215.5,417.47 215.9,418.93 216.3,422.22 216.7,426.67 217.1,431.08 217.5,434.45 217.9,436.43 218.3,437.22 218.7,437.16 219.1,436.42 219.5,435.13 219.9,433.52 220.3,432.01 220.7,431.01 221.1,430.66 221.5,430.76 221.9,431.43 222.3,432.73 222.7,434.33 223.1,435.77 223.5,436.54 223.9,435.94 224.3,432.52 224.7,423.83 225.1,407.39 225.5,383.09 225.9,355.09 226.3,330.65 226.7,316.02 227.1,312.25 227.5,315.8 227.9,330.15 228.3,354.4 228.7,382.4 229.1,406.78 229.5,423.09 229.9,430.7 230.3,430.65 230.7,423.29 231.1,408.34 231.5,387.12 231.9,364.09 232.3,345.44 232.7,335.6 233.1,334.04 233.5,338.83 233.9,352.92 234.3,374.28 234.7,397.23 235.1,415.95 235.5,427.38 235.9,431 236.3,426.59 236.7,412.75 237.1,388.5 237.5,356.4 237.9,323.76 238.3,299.43 238.7,288.45 239.1,288.15 239.5,298.12 239.9,321.54 240.3,353.85 240.7,386.28 241.1,411.2 241.5,425.51 241.9,429.58 242.3,424.03 242.7,408.15 243.1,381.93 243.5,349.24 243.9,318.14 244.3,296.99 244.7,289.19 245.1,290.81 245.5,303.88 245.9,329.8 246.3,362.64 246.7,393.51 247.1,415.7 247.5,427 247.9,427.69 248.3,417.27 248.7,394.11 249.1,358.76 249.5,317.38 249.9,280.69 250.3,258.2 250.7,251.96 251.1,256.6 251.5,276.97 251.9,312.3 252.3,353.74 252.7,390.4 253.1,415.66 253.5,429.27 253.9,434.76 254.3,435.86 254.7,434.8 255.1,432.68 255.5,430.25 255.9,428.24 256.3,427.15 256.7,426.95 257.1,427.42 257.5,428.86 257.9,431.09 258.3,433.53 258.7,435.56 259.1,436.88 259.5,437.54 259.9,437.77 260.3,437.76 260.7,437.63 261.1,437.42 261.5,437.2 261.9,437.04 262.3,436.96 262.7,436.95 263.1,437.02 263.5,437.17 263.9,437.38 264.3,437.6 264.7,437.77 265.1,437.87 265.5,437.92 265.9,437.94 266.3,437.95 266.7,437.95 267.1,437.95 267.5,437.95 267.9,437.95 268.3,437.95 268.7,437.95 269.1,437.95 269.5,437.95 269.9,437.95 270.3,437.95 270.7,437.94 271.1,437.92 271.5,437.86 271.9,437.69 272.3,437.38 272.7,436.91 273.1,436.36 273.5,435.86 273.9,435.54 274.3,435.45 274.7,435.5 275.1,435.77 275.5,436.23 275.9,436.79 276.3,437.29 276.7,437.63 277.1,437.79 277.5,437.79 277.9,437.63 278.3,437.28 278.7,436.78 279.1,436.23 279.5,435.76 279.9,435.5 280.3,435.45 280.7,435.55 281.1,435.86 281.5,436.36 281.9,436.92 282.3,437.38 282.7,437.67 283.1,437.77 283.5,437.67 283.9,437.33 284.3,436.71 284.7,435.87 285.1,435 285.5,434.32 285.9,433.99 286.3,433.96 286.7,434.19 287.1,434.78 287.5,435.62 287.9,436.5 288.3,437.19 288.7,437.61 289.1,437.78 289.5,437.76 289.9,437.57 290.3,437.24 290.7,436.8 291.1,436.38 291.5,436.08 291.9,435.96 292.3,435.97 292.7,436.12 293.1,436.46 293.5,436.89 293.9,437.31 294.3,437.58 294.7,437.59 295.1,437.13 295.5,435.81 295.9,433.19 296.3,429.18 296.7,424.36 297.1,419.97 297.5,417.15 297.9,416.26 298.3,416.66 298.7,418.84 299.1,422.83 299.5,427.65 299.9,432.03 300.3,435.11 300.7,436.8 301.1,437.46 301.5,437.5 301.9,437.16 302.3,436.58 302.7,435.92 303.1,435.35 303.5,435.02 303.9,434.95 304.3,435.05 304.7,435.42 305.1,436.01 305.5,436.67 305.9,437.18 306.3,437.29 306.7,436.51 307.1,433.85 307.5,427.84 307.9,417.37 308.3,403.09 308.7,387.98 309.1,376.11 309.5,370.17 309.9,369.47 310.3,373.13 310.7,382.95 311.1,397.3 311.5,412.35 311.9,424.43 312.3,431.98 312.7,435.5 313.1,436.24 313.5,435.16 313.9,432.75 314.3,429.52 314.7,426.31 315.1,423.99 315.5,423.02 315.9,423.06 316.3,424.17 316.7,426.61 317.1,429.86 317.5,433.02 317.9,435.28 318.3,436.04 318.7,434.55 319.1,429.39 319.5,418.81 319.9,402.35 320.3,382.36 320.7,363.84 321.1,351.69 321.5,347.61 321.9,349.04 322.3,357.7 322.7,373.99 323.1,394.03 323.5,412.47 323.9,425.65 324.3,432.97 324.7,435.93 325.1,436.28 325.5,435.13 325.9,433.05 326.3,430.61 326.7,428.49 327.1,427.25 327.5,426.95 327.9,427.29 328.3,428.58 328.7,430.73 329.1,433.17 329.5,435.23 329.9,436.39 330.3,436.16 330.7,433.66 331.1,427.49 331.5,416.52 331.9,401.32 332.3,385.03 332.7,372.01 333.1,365.29 333.5,364.34 333.9,367.96 334.3,378.19 334.7,393.45 335.1,409.69 335.5,422.91 335.9,431.31 336.3,435.43 336.7,436.8 337.1,436.65 337.5,435.67 337.9,434.26 338.3,432.82 338.7,431.75 339.1,431.29 339.5,431.29 339.9,431.75 340.3,432.82 340.7,434.26 341.1,435.7 341.5,436.8 341.9,437.44 342.3,437.69 342.7,437.64 343.1,437.33 343.5,436.8 343.9,436.14 344.3,435.52 344.7,435.1 345.1,434.95 345.5,434.99 345.9,435.27 346.3,435.8 346.7,436.46 347.1,437.08 347.5,437.52 347.9,437.75 348.3,437.79 348.7,437.66 349.1,437.34 349.5,436.87 349.9,436.31 350.3,435.82 350.7,435.53 351.1,435.45 351.5,435.52 351.9,435.8 352.3,436.28 352.7,436.84 353.1,437.33 353.5,437.65 353.9,437.81 354.3,437.84 354.7,437.74 355.1,437.53 355.5,437.22 355.9,436.89 356.3,436.62 356.7,436.47 357.1,436.45 357.5,436.52 357.9,436.72 358.3,437.03 358.7,437.36 359.1,437.63 359.5,437.8 359.9,437.88 360.3,437.87 360.7,437.78 361.1,437.62 361.5,437.41 361.9,437.19 362.3,437.03 362.7,436.95 363.1,436.92 363.5,436.93 363.9,436.95 364.3,436.88 364.7,436.57 365.1,435.86 365.5,434.62 365.9,432.83 366.3,430.56 366.7,428.02 367.1,425.48 367.5,423.26 367.9,421.59 368.3,420.6 368.7,420.26 369.1,420.33 369.5,420.89 369.9,422.14 370.3,424.04 370.7,426.41 371.1,428.98 371.5,431.4 371.9,433.38 372.3,434.65 372.7,435.09 373.1,434.74 373.5,433.89 373.9,432.98 374.3,432.38 374.7,432.23 375.1,432.38 375.5,433 375.9,434.08 376.3,435.34 376.7,436.42 377.1,436.95 377.5,436.46 377.9,433.97 378.3,427.93 378.7,416.99 379.1,401.49 379.5,384.42 379.9,370.33 380.3,362.62 380.7,361.18 381.1,364.34 381.5,374.32 381.9,389.87 382.3,406.9 382.7,421.11 383.1,430.35 383.5,434.96 383.9,436.4 384.3,435.94 384.7,434.26 385.1,431.85 385.5,429.33 385.9,427.41 386.3,426.5 386.7,426.44 387.1,427.14 387.5,428.87 387.9,431.27 388.3,433.53 388.7,434.62 389.1,433.21 389.5,427.44 389.9,414.95 390.3,394.07 390.7,365.64 391.1,334.07 391.5,306.09 391.9,287.6 392.3,280.56 392.7,281.46 393.1,291.53 393.5,313.04 393.9,342.7 394.3,374.02 394.7,400.66 395.1,419.15 395.5,429.5 395.9,433.69 396.3,433.95 396.7,431.97 397.1,429.03 397.5,426.25 397.9,424.49 398.3,423.95 398.7,424.23 399.1,425.65 399.5,428.12 399.9,430.84 400.3,432.68 400.7,432.55 401.1,429.71 401.5,423.79 401.9,414.9 402.3,403.85 402.7,392.13 403.1,381.66 403.5,374.07 403.9,370.14 404.3,369.36 404.7,370.71 405.1,375.47 405.5,383.81 405.9,394.73 406.3,406.45 406.7,417.11 407.1,425.29 407.5,430.3 407.9,432.03 408.3,430.87 408.7,427.68 409.1,423.82 409.5,420.69 409.9,419.14 410.3,418.99 410.7,420.07 411.1,422.85 411.5,426.85 411.9,430.98 412.3,434.17 412.7,435.71 413.1,434.98 413.5,430.8 413.9,421.48 414.3,406.18 414.7,386.65 415.1,367.47 415.5,353.84 415.9,348.27 416.3,348.69 416.7,355.66 417.1,370.56 417.5,390.2 417.9,409.25 418.3,423.52 418.7,431.74 419.1,434.91 419.5,434.46 419.9,431.19 420.3,425.64 420.7,418.88 421.1,412.66 421.5,408.65 421.9,407.36 422.3,407.91 422.7,410.95 423.1,416.54 423.5,423.34 423.9,429.53 424.3,433.91 424.7,436.33 425.1,437.32 425.5,437.47 425.9,437.16 426.3,436.59 426.7,435.92 427.1,435.35 427.5,435.02 427.9,434.95 428.3,435.05 428.7,435.41 429.1,436.01 429.5,436.67 429.9,437.24 430.3,437.62 430.7,437.81 431.1,437.86 431.5,437.8 431.9,437.65 432.3,437.44 432.7,437.22 433.1,437.05 433.5,436.96 433.9,436.95 434.3,437 434.7,437.15 435.1,437.35 435.5,437.57 435.9,437.75 436.3,437.84 436.7,437.83 437.1,437.67 437.5,437.32 437.9,436.71 438.3,435.94 438.7,435.17 439.1,434.61 439.5,434.37 439.9,434.37 440.3,434.64 440.7,435.22 441.1,436 441.5,436.77 441.9,437.35 442.3,437.69 442.7,437.82 443.1,437.79 443.5,437.63 443.9,437.36 444.3,437.03 444.7,436.72 445.1,436.52 445.5,436.45 445.9,436.47 446.3,436.6 446.7,436.8 447.1,436.91 447.5,436.56 447.9,435.1 448.3,431.63 448.7,425.08 449.1,414.75 449.5,400.94 449.9,385.29 450.3,370.46 450.7,359.16 451.1,352.94 451.5,351.45 451.9,353.03 452.3,359.38 452.7,370.8 453.1,385.68 453.5,401.31 453.9,415.03 454.3,425.17 454.7,431.39 455.1,434.25 455.5,434.7 455.9,433.7 456.3,432.15 456.7,430.79 457.1,430.06 457.5,429.96 457.9,430.34 458.3,431.44 458.7,433.1 459.1,434.85 459.5,436.26 459.9,437.03 460.3,436.97 460.7,435.76 461.1,432.86 461.5,427.95 461.9,421.53 462.3,415.04 462.7,410.25 463.1,408.13 463.5,408.11 463.9,410.16 464.3,414.89 464.7,421.36 465.1,427.81 465.5,432.76 465.9,435.71 466.3,436.98 466.7,437.09 467.1,436.39 467.5,435.09 467.9,433.44 468.3,431.89 468.7,430.84 469.1,430.46 469.5,430.55 469.9,431.21 470.3,432.47 470.7,433.91 471.1,434.82 471.5,434.31 471.9,431.4 472.3,425.12 472.7,414.86 473.1,400.94 473.5,385 473.9,369.75 474.3,357.98 474.7,351.36 475.1,349.65 475.5,351.08 475.9,357.29 476.3,368.71 476.7,383.79 477.1,399.78 477.5,413.92 477.9,424.43 478.3,430.84 478.7,433.64 479.1,433.71 479.5,432.05 479.9,429.72 480.3,427.7 480.7,426.59 481.1,426.41 481.5,426.92 481.9,428.46 482.3,430.81 482.7,433.37 483.1,435.45 483.5,436.69 483.9,436.93 484.3,435.97 484.7,433.42 485.1,428.98 485.5,423.1 485.9,417.07 486.3,412.54 486.7,410.45 487.1,410.36 487.5,412.14 487.9,416.39 488.3,422.32 488.7,428.31 489.1,432.98 489.5,435.82 489.9,437.13 490.3,437.48 490.7,437.28 491.1,436.76 491.5,436.06 491.9,435.39 492.3,434.93 492.7,434.76 493.1,434.79 493.5,435.06 493.9,435.61 494.3,436.31 494.7,436.98 495.1,437.46 495.5,437.72 495.9,437.75 496.3,437.57 496.7,437.14 497.1,436.48 497.5,435.7 497.9,435.01 498.3,434.57 498.7,434.45 499.1,434.53 499.5,434.91 499.9,435.57 500.3,436.35 500.7,437.04 501.1,437.51 501.5,437.75 501.9,437.77 502.3,437.62 502.7,437.27 503.1,436.77 503.5,436.21 503.9,435.75 504.3,435.5 504.7,435.45 505.1,435.55 505.5,435.87 505.9,436.38 506.3,436.93 506.7,437.4 507.1,437.69 507.5,437.82 507.9,437.8 508.3,437.63 508.7,437.32 509.1,436.9 509.5,436.46 509.9,436.13 510.3,435.97 510.7,435.96 511.1,436.08 511.5,436.37 511.9,436.8 512.3,437.23 512.7,437.57 513.1,437.78 513.5,437.84 513.9,437.77 514.3,437.57 514.7,437.23 515.1,436.79 515.5,436.37 515.9,436.07 516.3,435.96 516.7,435.97 517.1,436.13 517.5,436.47 517.9,436.91 518.3,437.32 518.7,437.62 519.1,437.74 519.5,437.62 519.9,437.15 520.3,436.19 520.7,434.71 521.1,432.96 521.5,431.37 521.9,430.36 522.3,430.05 522.7,430.21 523.1,431.02 523.5,432.49 523.9,434.24 524.3,435.83 524.7,436.93 525.1,437.51 525.5,437.68 525.9,437.52 526.3,437.11 526.7,436.47 527.1,435.76 527.5,435.16 527.9,434.82 528.3,434.75 528.7,434.86 529.1,435.25 529.5,435.85 529.9,436.44 530.3,436.7 530.7,436.26 531.1,434.75 531.5,431.86 531.9,427.44 532.3,421.83 532.7,415.8 533.1,410.45 533.5,406.71 533.9,404.97 534.3,404.79 534.7,405.93 535.1,409.02 535.5,413.93 535.9,419.86 536.3,425.72 536.7,430.58 537.1,433.96 537.5,435.86 537.9,436.54 538.3,436.37 538.7,435.72 539.1,434.96 539.5,434.4 539.9,434.16 540.3,434.18 540.7,434.47 541.1,435.09 541.5,435.92 541.9,436.71 542.3,437.25 542.7,437.33 543.1,436.59 543.5,434.4 543.9,430.02 544.3,423.26 544.7,415.12 545.1,407.62 545.5,402.76 545.9,401.17 546.3,401.8 546.7,405.41 547.1,412.11 547.5,420.28 547.9,427.74 548.3,433.04 548.7,435.96 549.1,437.12 549.5,437.2 549.9,436.65 550.3,435.7 550.7,434.59 551.1,433.63 551.5,433.07 551.9,432.93 552.3,433.04 552.7,433.49 553.1,434.13 553.5,434.49 553.9,434.01 554.3,432.19 554.7,428.77 555.1,423.75 555.5,417.51 555.9,410.7 556.3,404.21 556.7,398.89 557.1,395.33 557.5,393.68 557.9,393.48 558.3,394.41 558.7,397.14 559.1,401.76 559.5,407.85 559.9,414.64 560.3,421.23 560.7,426.85 561.1,431.05 561.5,433.69 561.9,434.93 562.3,435.18 562.7,434.92 563.1,434.58 563.5,434.43 563.9,434.46 564.3,434.72 564.7,435.28 565.1,436.04 565.5,436.79 565.9,437.34 566.3,437.61 566.7,437.52 567.1,436.96 567.5,435.74 567.9,433.83 568.3,431.49 568.7,429.31 569.1,427.86 569.5,427.36 569.9,427.51 570.3,428.5 570.7,430.39 571.1,432.74 571.5,434.91 571.9,436.47 572.3,437.34 572.7,437.66 573.1,437.62 573.5,437.33 573.9,436.85 574.3,436.3 574.7,435.81 575.1,435.52 575.5,435.45 575.9,435.52 576.3,435.81 576.7,436.3 577.1,436.85 577.5,437.33 577.9,437.66 578.3,437.8 578.7,437.78 579.1,437.6 579.5,437.23 579.9,436.72 580.3,436.17 580.7,435.72 581.1,435.49 581.5,435.45 581.9,435.57 582.3,435.91 582.7,436.43 583.1,436.98 583.5,437.43 583.9,437.71 584.3,437.82 584.7,437.79 585.1,437.61 585.5,437.29 585.9,436.86 586.3,436.43 586.7,436.11 587.1,435.96 587.5,435.96 587.9,436.09 588.3,436.41 588.7,436.84 589.1,437.26 589.5,437.58 589.9,437.69 590.3,437.5 590.7,436.82 591.1,435.38 591.5,433.11 591.9,430.29 592.3,427.63 592.7,425.83 593.1,425.17 593.5,425.32 593.9,426.45 594.3,428.69 594.7,431.52 595.1,434.17 595.5,436.09 595.9,437.16 596.3,437.56 596.7,437.48 597.1,437.04 597.5,436.32 597.9,435.48 598.3,434.73 598.7,434.27 599.1,434.15 599.5,434.25 599.9,434.67 600.3,435.39 600.7,436.24 601.1,436.97 601.5,437.44 601.9,437.53 602.3,437.1 602.7,435.9 603.1,433.71 603.5,430.6 603.9,427.2 604.3,424.42 604.7,422.92 605.1,422.66 605.5,423.32 605.9,425.34 606.3,428.46 606.7,431.84 607.1,434.65 607.5,436.46 607.9,437.33 608.3,437.54 608.7,437.3 609.1,436.72 609.5,435.92 609.9,435.09 610.3,434.47 610.7,434.18 611.1,434.16 611.5,434.38 611.9,434.9 612.3,435.53 612.7,435.86 613.1,435.36 613.5,433.47 613.9,429.71 614.3,423.81 614.7,416.02 615.1,407.19 615.5,398.65 615.9,391.79 616.3,387.55 616.7,386.01 617.1,386.25 617.5,388.61 617.9,393.76 618.3,401.3 618.7,410.1 619.1,418.72 619.5,425.92 619.9,431.04 620.3,433.94 620.7,434.91 621.1,434.48 621.5,433.29 621.9,432.02 622.3,431.19 622.7,430.95 623.1,431.11 623.5,431.84 623.9,433.13 624.3,434.58 624.7,435.67 625.1,435.89 625.5,434.85 625.9,432.24 626.3,427.97 626.7,422.29 627.1,415.97 627.5,410.13 627.9,405.82 628.3,403.59 628.7,403.16 629.1,403.99 629.5,406.81 629.9,411.63 630.3,417.72 630.7,423.96 631.1,429.32 631.5,433.19 631.9,435.48 632.3,436.44 632.7,436.44 633.1,435.86 633.5,435.11 633.9,434.49 634.3,434.19 634.7,434.16 635.1,434.38 635.5,434.95 635.9,435.75 636.3,436.58 636.7,437.22 637.1,437.55 637.5,437.5 637.9,436.93 638.3,435.62 638.7,433.47 639.1,430.75 639.5,428.1 639.9,426.23 640.3,425.49 640.7,425.56 641.1,426.56 641.5,428.65 641.9,431.39 642.3,434.02 642.7,435.99 643.1,437.13 643.5,437.61 643.9,437.68 644.3,437.49 644.7,437.13 645.1,436.69 645.5,436.29 645.9,436.03 646.3,435.95 646.7,435.99 647.1,436.19 647.5,436.56 647.9,437.01 648.3,437.41 648.7,437.68 649.1,437.8 649.5,437.77 649.9,437.55 650.3,437.12 650.7,436.48 651.1,435.77 651.5,435.17 651.9,434.82 652.3,434.75 652.7,434.86 653.1,435.26 653.5,435.89 653.9,436.6 654.3,437.21 654.7,437.6 655.1,437.78 655.5,437.76 655.9,437.57 656.3,437.19 656.7,436.67 657.1,436.12 657.5,435.69 657.9,435.48 658.3,435.45 658.7,435.59 659.1,435.95 659.5,436.48 659.9,437.02 660.3,437.46"/>
<path d="M63.2 432.3 L66.9 435.4 L63.2 438.6 Z" fill="#0000ff" stroke="#001060" stroke-width="0.5"/>
<text x="155.3" y="9.2" font-size="11.55" text-anchor="middle" fill="#111" >41.4</text>
<text x="173.8" y="140.6" font-size="11.55" text-anchor="middle" fill="#111" >42.5</text>
<text x="191.3" y="160" font-size="11.55" text-anchor="middle" fill="#111" >43.4</text>
<text x="253.1" y="95.6" font-size="11.55" text-anchor="middle" fill="#111" >57.6</text>
<text x="237.8" y="175" font-size="11.55" text-anchor="middle" fill="#111" >56.5</text>
<text x="139.4" y="223.8" font-size="11.55" text-anchor="middle" fill="#111" >39.5</text>
<text x="230.6" y="282.8" font-size="11.55" text-anchor="middle" fill="#111" >55.5</text>
<text x="105.4" y="333.2" font-size="11.55" text-anchor="middle" fill="#111" >32.5</text>
<text x="220" y="308.6" font-size="11.55" text-anchor="middle" fill="#111" >53.5</text>
<text x="125.8" y="409" font-size="11.55" text-anchor="middle" fill="#111" >37.5</text>
<text x="183.6" y="403.5" font-size="11.55" text-anchor="middle" fill="#111" >44.5</text>
<text x="209" y="413.5" font-size="11.55" text-anchor="middle" fill="#111" >51.5</text>
<text x="291.5" y="412" font-size="11.55" text-anchor="middle" fill="#111" >65.4</text>
<text x="304.5" y="366" font-size="11.55" text-anchor="middle" fill="#111" >67.4</text>
<text x="321.5" y="343.5" font-size="11.55" text-anchor="middle" fill="#111" >69.5</text>
<text x="339.8" y="361.7" font-size="11.55" text-anchor="middle" fill="#111" >71.5</text>
<text x="363.7" y="415.6" font-size="11.55" text-anchor="middle" fill="#111" >77.4</text>
<text x="377.8" y="355.3" font-size="11.55" text-anchor="middle" fill="#111" >79.5</text>
<text x="392.7" y="277.2" font-size="11.55" text-anchor="middle" fill="#111" >81.5</text>
<text x="418.1" y="268" font-size="11.55" text-anchor="middle" fill="#111" >85.5</text>
<text x="431" y="402.8" font-size="11.55" text-anchor="middle" fill="#111" >86.6</text>
<text x="447.9" y="347.6" font-size="11.55" text-anchor="middle" fill="#111" >91.5</text>
<text x="475.9" y="345" font-size="11.55" text-anchor="middle" fill="#111" >95.5</text>
<text x="490.4" y="406.4" font-size="11.55" text-anchor="middle" fill="#111" >97.5</text>
<text x="540.5" y="397.6" font-size="11.55" text-anchor="middle" fill="#111" >107.5</text>
<text x="564.7" y="387.4" font-size="11.55" text-anchor="middle" fill="#111" >109.4</text>
<text x="598.2" y="418.2" font-size="11.55" text-anchor="middle" fill="#111" >117.4</text>
<text x="615.6" y="378.4" font-size="11.55" text-anchor="middle" fill="#111" >119.6</text>
<text x="633.4" y="397.6" font-size="11.55" text-anchor="middle" fill="#111" >121.4</text>
<text x="645" y="422.4" font-size="11.55" text-anchor="middle" fill="#111" >123.4</text>
<line x1="166.9" y1="142.2" x2="160.9" y2="170.3" stroke="#334" stroke-width="0.7" />
<line x1="180.9" y1="162.5" x2="167.5" y2="172.8" stroke="#334" stroke-width="0.7" />
<text x="467" y="154.2" font-size="15.8" text-anchor="middle" fill="#000" style="stroke:none">Signals not found in blank.</text>
<line x1="467.5" y1="163.5" x2="398.79" y2="256.22" stroke="#222" stroke-width="0.8" />
<path d="M394.5 262 L396.7 254.67 L400.88 257.76 Z" fill="#111"/>
<line x1="467.5" y1="163.5" x2="472.1" y2="325.5" stroke="#222" stroke-width="0.8" />
<path d="M472.3 332.7 L469.5 325.58 L474.69 325.43 Z" fill="#111"/>
<text x="584" y="50.5" font-size="19" text-anchor="middle" fill="#000" >(a)</text>
<line x1="70.4" y1="511.8" x2="70.4" y2="931.2" stroke="#808080" stroke-width="1.1" />
<line x1="67.5" y1="930.6" x2="70.4" y2="930.6" stroke="#808080" stroke-width="1" />
<text x="60.4" y="934.6" font-size="11.55" text-anchor="end" fill="#111" >0.0</text>
<line x1="68.8" y1="916.83" x2="70.4" y2="916.83" stroke="#808080" stroke-width="0.8" />
<line x1="67.5" y1="903.05" x2="70.4" y2="903.05" stroke="#808080" stroke-width="1" />
<text x="60.4" y="907.05" font-size="11.55" text-anchor="end" fill="#111" >2000.0</text>
<line x1="68.8" y1="889.28" x2="70.4" y2="889.28" stroke="#808080" stroke-width="0.8" />
<line x1="67.5" y1="875.5" x2="70.4" y2="875.5" stroke="#808080" stroke-width="1" />
<text x="60.4" y="879.5" font-size="11.55" text-anchor="end" fill="#111" >4000.0</text>
<line x1="68.8" y1="861.73" x2="70.4" y2="861.73" stroke="#808080" stroke-width="0.8" />
<line x1="67.5" y1="847.95" x2="70.4" y2="847.95" stroke="#808080" stroke-width="1" />
<text x="60.4" y="851.95" font-size="11.55" text-anchor="end" fill="#111" >6000.0</text>
<line x1="68.8" y1="834.18" x2="70.4" y2="834.18" stroke="#808080" stroke-width="0.8" />
<line x1="67.5" y1="820.4" x2="70.4" y2="820.4" stroke="#808080" stroke-width="1" />
<text x="60.4" y="824.4" font-size="11.55" text-anchor="end" fill="#111" >8000.0</text>
<line x1="68.8" y1="806.62" x2="70.4" y2="806.62" stroke="#808080" stroke-width="0.8" />
<line x1="67.5" y1="792.85" x2="70.4" y2="792.85" stroke="#808080" stroke-width="1" />
<text x="60.4" y="796.85" font-size="11.55" text-anchor="end" fill="#111" >1.0e4</text>
<line x1="68.8" y1="779.08" x2="70.4" y2="779.08" stroke="#808080" stroke-width="0.8" />
<line x1="67.5" y1="765.3" x2="70.4" y2="765.3" stroke="#808080" stroke-width="1" />
<text x="60.4" y="769.3" font-size="11.55" text-anchor="end" fill="#111" >1.2e4</text>
<line x1="68.8" y1="751.52" x2="70.4" y2="751.52" stroke="#808080" stroke-width="0.8" />
<line x1="67.5" y1="737.75" x2="70.4" y2="737.75" stroke="#808080" stroke-width="1" />
<text x="60.4" y="741.75" font-size="11.55" text-anchor="end" fill="#111" >1.4e4</text>
<line x1="68.8" y1="723.98" x2="70.4" y2="723.98" stroke="#808080" stroke-width="0.8" />
<line x1="67.5" y1="710.2" x2="70.4" y2="710.2" stroke="#808080" stroke-width="1" />
<text x="60.4" y="714.2" font-size="11.55" text-anchor="end" fill="#111" >1.6e4</text>
<line x1="68.8" y1="696.43" x2="70.4" y2="696.43" stroke="#808080" stroke-width="0.8" />
<line x1="67.5" y1="682.65" x2="70.4" y2="682.65" stroke="#808080" stroke-width="1" />
<text x="60.4" y="686.65" font-size="11.55" text-anchor="end" fill="#111" >1.8e4</text>
<line x1="68.8" y1="668.88" x2="70.4" y2="668.88" stroke="#808080" stroke-width="0.8" />
<line x1="67.5" y1="655.1" x2="70.4" y2="655.1" stroke="#808080" stroke-width="1" />
<text x="60.4" y="659.1" font-size="11.55" text-anchor="end" fill="#111" >2.0e4</text>
<line x1="68.8" y1="641.33" x2="70.4" y2="641.33" stroke="#808080" stroke-width="0.8" />
<line x1="67.5" y1="627.55" x2="70.4" y2="627.55" stroke="#808080" stroke-width="1" />
<text x="60.4" y="631.55" font-size="11.55" text-anchor="end" fill="#111" >2.2e4</text>
<line x1="68.8" y1="613.77" x2="70.4" y2="613.77" stroke="#808080" stroke-width="0.8" />
<line x1="67.5" y1="600" x2="70.4" y2="600" stroke="#808080" stroke-width="1" />
<text x="60.4" y="604" font-size="11.55" text-anchor="end" fill="#111" >2.4e4</text>
<line x1="68.8" y1="586.23" x2="70.4" y2="586.23" stroke="#808080" stroke-width="0.8" />
<line x1="67.5" y1="572.45" x2="70.4" y2="572.45" stroke="#808080" stroke-width="1" />
<text x="60.4" y="576.45" font-size="11.55" text-anchor="end" fill="#111" >2.6e4</text>
<line x1="68.8" y1="558.68" x2="70.4" y2="558.68" stroke="#808080" stroke-width="0.8" />
<line x1="67.5" y1="544.9" x2="70.4" y2="544.9" stroke="#808080" stroke-width="1" />
<text x="60.4" y="548.9" font-size="11.55" text-anchor="end" fill="#111" >2.8e4</text>
<line x1="68.8" y1="531.13" x2="70.4" y2="531.13" stroke="#808080" stroke-width="0.8" />
<line x1="67.5" y1="517.35" x2="70.4" y2="517.35" stroke="#808080" stroke-width="1" />
<text x="60.4" y="521.35" font-size="11.55" text-anchor="end" fill="#111" >3.0e4</text>
<line x1="70.4" y1="930.6" x2="661" y2="930.6" stroke="#808080" stroke-width="1.0" />
<line x1="76.42" y1="930.6" x2="76.42" y2="932.1" stroke="#808080" stroke-width="0.7" />
<line x1="83.11" y1="930.6" x2="83.11" y2="932.1" stroke="#808080" stroke-width="0.7" />
<line x1="89.81" y1="930.6" x2="89.81" y2="932.1" stroke="#808080" stroke-width="0.7" />
<line x1="96.5" y1="930.6" x2="96.5" y2="933.8" stroke="#808080" stroke-width="1" />
<text x="96.7" y="944.6" font-size="11.55" text-anchor="middle" fill="#111" >50</text>
<line x1="103.19" y1="930.6" x2="103.19" y2="932.1" stroke="#808080" stroke-width="0.7" />
<line x1="109.89" y1="930.6" x2="109.89" y2="932.1" stroke="#808080" stroke-width="0.7" />
<line x1="116.58" y1="930.6" x2="116.58" y2="932.1" stroke="#808080" stroke-width="0.7" />
<line x1="123.27" y1="930.6" x2="123.27" y2="932.1" stroke="#808080" stroke-width="0.7" />
<line x1="129.97" y1="930.6" x2="129.97" y2="933.8" stroke="#808080" stroke-width="1" />
<text x="130.16" y="944.6" font-size="11.55" text-anchor="middle" fill="#111" >100</text>
<line x1="136.66" y1="930.6" x2="136.66" y2="932.1" stroke="#808080" stroke-width="0.7" />
<line x1="143.35" y1="930.6" x2="143.35" y2="932.1" stroke="#808080" stroke-width="0.7" />
<line x1="150.04" y1="930.6" x2="150.04" y2="932.1" stroke="#808080" stroke-width="0.7" />
<line x1="156.74" y1="930.6" x2="156.74" y2="932.1" stroke="#808080" stroke-width="0.7" />
<line x1="163.43" y1="930.6" x2="163.43" y2="933.8" stroke="#808080" stroke-width="1" />
<text x="163.63" y="944.6" font-size="11.55" text-anchor="middle" fill="#111" >150</text>
<line x1="170.12" y1="930.6" x2="170.12" y2="932.1" stroke="#808080" stroke-width="0.7" />
<line x1="176.82" y1="930.6" x2="176.82" y2="932.1" stroke="#808080" stroke-width="0.7" />
<line x1="183.51" y1="930.6" x2="183.51" y2="932.1" stroke="#808080" stroke-width="0.7" />
<line x1="190.2" y1="930.6" x2="190.2" y2="932.1" stroke="#808080" stroke-width="0.7" />
<line x1="196.89" y1="930.6" x2="196.89" y2="933.8" stroke="#808080" stroke-width="1" />
<text x="197.09" y="944.6" font-size="11.55" text-anchor="middle" fill="#111" >200</text>
<line x1="203.59" y1="930.6" x2="203.59" y2="932.1" stroke="#808080" stroke-width="0.7" />
<line x1="210.28" y1="930.6" x2="210.28" y2="932.1" stroke="#808080" stroke-width="0.7" />
<line x1="216.97" y1="930.6" x2="216.97" y2="932.1" stroke="#808080" stroke-width="0.7" />
<line x1="223.67" y1="930.6" x2="223.67" y2="932.1" stroke="#808080" stroke-width="0.7" />
<line x1="230.36" y1="930.6" x2="230.36" y2="933.8" stroke="#808080" stroke-width="1" />
<text x="230.56" y="944.6" font-size="11.55" text-anchor="middle" fill="#111" >250</text>
<line x1="237.05" y1="930.6" x2="237.05" y2="932.1" stroke="#808080" stroke-width="0.7" />
<line x1="243.75" y1="930.6" x2="243.75" y2="932.1" stroke="#808080" stroke-width="0.7" />
<line x1="250.44" y1="930.6" x2="250.44" y2="932.1" stroke="#808080" stroke-width="0.7" />
<line x1="257.13" y1="930.6" x2="257.13" y2="932.1" stroke="#808080" stroke-width="0.7" />
<line x1="263.82" y1="930.6" x2="263.82" y2="933.8" stroke="#808080" stroke-width="1" />
<text x="264.02" y="944.6" font-size="11.55" text-anchor="middle" fill="#111" >300</text>
<line x1="270.52" y1="930.6" x2="270.52" y2="932.1" stroke="#808080" stroke-width="0.7" />
<line x1="277.21" y1="930.6" x2="277.21" y2="932.1" stroke="#808080" stroke-width="0.7" />
<line x1="283.9" y1="930.6" x2="283.9" y2="932.1" stroke="#808080" stroke-width="0.7" />
<line x1="290.6" y1="930.6" x2="290.6" y2="932.1" stroke="#808080" stroke-width="0.7" />
<line x1="297.29" y1="930.6" x2="297.29" y2="933.8" stroke="#808080" stroke-width="1" />
<text x="297.49" y="944.6" font-size="11.55" text-anchor="middle" fill="#111" >350</text>
<line x1="303.98" y1="930.6" x2="303.98" y2="932.1" stroke="#808080" stroke-width="0.7" />
<line x1="310.68" y1="930.6" x2="310.68" y2="932.1" stroke="#808080" stroke-width="0.7" />
<line x1="317.37" y1="930.6" x2="317.37" y2="932.1" stroke="#808080" stroke-width="0.7" />
<line x1="324.06" y1="930.6" x2="324.06" y2="932.1" stroke="#808080" stroke-width="0.7" />
<line x1="330.75" y1="930.6" x2="330.75" y2="933.8" stroke="#808080" stroke-width="1" />
<text x="330.95" y="944.6" font-size="11.55" text-anchor="middle" fill="#111" >400</text>
<line x1="337.45" y1="930.6" x2="337.45" y2="932.1" stroke="#808080" stroke-width="0.7" />
<line x1="344.14" y1="930.6" x2="344.14" y2="932.1" stroke="#808080" stroke-width="0.7" />
<line x1="350.83" y1="930.6" x2="350.83" y2="932.1" stroke="#808080" stroke-width="0.7" />
<line x1="357.53" y1="930.6" x2="357.53" y2="932.1" stroke="#808080" stroke-width="0.7" />
<line x1="364.22" y1="930.6" x2="364.22" y2="933.8" stroke="#808080" stroke-width="1" />
<text x="364.42" y="944.6" font-size="11.55" text-anchor="middle" fill="#111" >450</text>
<line x1="370.91" y1="930.6" x2="370.91" y2="932.1" stroke="#808080" stroke-width="0.7" />
<line x1="377.61" y1="930.6" x2="377.61" y2="932.1" stroke="#808080" stroke-width="0.7" />
<line x1="384.3" y1="930.6" x2="384.3" y2="932.1" stroke="#808080" stroke-width="0.7" />
<line x1="390.99" y1="930.6" x2="390.99" y2="932.1" stroke="#808080" stroke-width="0.7" />
<line x1="397.69" y1="930.6" x2="397.69" y2="933.8" stroke="#808080" stroke-width="1" />
<text x="397.88" y="944.6" font-size="11.55" text-anchor="middle" fill="#111" >500</text>
<line x1="404.38" y1="930.6" x2="404.38" y2="932.1" stroke="#808080" stroke-width="0.7" />
<line x1="411.07" y1="930.6" x2="411.07" y2="932.1" stroke="#808080" stroke-width="0.7" />
<line x1="417.76" y1="930.6" x2="417.76" y2="932.1" stroke="#808080" stroke-width="0.7" />
<line x1="424.46" y1="930.6" x2="424.46" y2="932.1" stroke="#808080" stroke-width="0.7" />
<line x1="431.15" y1="930.6" x2="431.15" y2="933.8" stroke="#808080" stroke-width="1" />
<text x="431.35" y="944.6" font-size="11.55" text-anchor="middle" fill="#111" >550</text>
<line x1="437.84" y1="930.6" x2="437.84" y2="932.1" stroke="#808080" stroke-width="0.7" />
<line x1="444.54" y1="930.6" x2="444.54" y2="932.1" stroke="#808080" stroke-width="0.7" />
<line x1="451.23" y1="930.6" x2="451.23" y2="932.1" stroke="#808080" stroke-width="0.7" />
<line x1="457.92" y1="930.6" x2="457.92" y2="932.1" stroke="#808080" stroke-width="0.7" />
<line x1="464.62" y1="930.6" x2="464.62" y2="933.8" stroke="#808080" stroke-width="1" />
<text x="464.81" y="944.6" font-size="11.55" text-anchor="middle" fill="#111" >600</text>
<line x1="471.31" y1="930.6" x2="471.31" y2="932.1" stroke="#808080" stroke-width="0.7" />
<line x1="478" y1="930.6" x2="478" y2="932.1" stroke="#808080" stroke-width="0.7" />
<line x1="484.69" y1="930.6" x2="484.69" y2="932.1" stroke="#808080" stroke-width="0.7" />
<line x1="491.39" y1="930.6" x2="491.39" y2="932.1" stroke="#808080" stroke-width="0.7" />
<line x1="498.08" y1="930.6" x2="498.08" y2="933.8" stroke="#808080" stroke-width="1" />
<text x="498.28" y="944.6" font-size="11.55" text-anchor="middle" fill="#111" >650</text>
<line x1="504.77" y1="930.6" x2="504.77" y2="932.1" stroke="#808080" stroke-width="0.7" />
<line x1="511.47" y1="930.6" x2="511.47" y2="932.1" stroke="#808080" stroke-width="0.7" />
<line x1="518.16" y1="930.6" x2="518.16" y2="932.1" stroke="#808080" stroke-width="0.7" />
<line x1="524.85" y1="930.6" x2="524.85" y2="932.1" stroke="#808080" stroke-width="0.7" />
<line x1="531.55" y1="930.6" x2="531.55" y2="933.8" stroke="#808080" stroke-width="1" />
<text x="531.75" y="944.6" font-size="11.55" text-anchor="middle" fill="#111" >700</text>
<line x1="538.24" y1="930.6" x2="538.24" y2="932.1" stroke="#808080" stroke-width="0.7" />
<line x1="544.93" y1="930.6" x2="544.93" y2="932.1" stroke="#808080" stroke-width="0.7" />
<line x1="551.62" y1="930.6" x2="551.62" y2="932.1" stroke="#808080" stroke-width="0.7" />
<line x1="558.32" y1="930.6" x2="558.32" y2="932.1" stroke="#808080" stroke-width="0.7" />
<line x1="565.01" y1="930.6" x2="565.01" y2="933.8" stroke="#808080" stroke-width="1" />
<text x="565.21" y="944.6" font-size="11.55" text-anchor="middle" fill="#111" >750</text>
<line x1="571.7" y1="930.6" x2="571.7" y2="932.1" stroke="#808080" stroke-width="0.7" />
<line x1="578.4" y1="930.6" x2="578.4" y2="932.1" stroke="#808080" stroke-width="0.7" />
<line x1="585.09" y1="930.6" x2="585.09" y2="932.1" stroke="#808080" stroke-width="0.7" />
<line x1="591.78" y1="930.6" x2="591.78" y2="932.1" stroke="#808080" stroke-width="0.7" />
<line x1="598.48" y1="930.6" x2="598.48" y2="933.8" stroke="#808080" stroke-width="1" />
<text x="598.68" y="944.6" font-size="11.55" text-anchor="middle" fill="#111" >800</text>
<line x1="605.17" y1="930.6" x2="605.17" y2="932.1" stroke="#808080" stroke-width="0.7" />
<line x1="611.86" y1="930.6" x2="611.86" y2="932.1" stroke="#808080" stroke-width="0.7" />
<line x1="618.55" y1="930.6" x2="618.55" y2="932.1" stroke="#808080" stroke-width="0.7" />
<line x1="625.25" y1="930.6" x2="625.25" y2="932.1" stroke="#808080" stroke-width="0.7" />
<line x1="631.94" y1="930.6" x2="631.94" y2="933.8" stroke="#808080" stroke-width="1" />
<text x="632.14" y="944.6" font-size="11.55" text-anchor="middle" fill="#111" >850</text>
<line x1="638.63" y1="930.6" x2="638.63" y2="932.1" stroke="#808080" stroke-width="0.7" />
<line x1="645.33" y1="930.6" x2="645.33" y2="932.1" stroke="#808080" stroke-width="0.7" />
<line x1="652.02" y1="930.6" x2="652.02" y2="932.1" stroke="#808080" stroke-width="0.7" />
<text x="364.6" y="957.1" font-size="11.55" text-anchor="middle" fill="#111" >m/z, Da</text>
<text transform="translate(13.2,711.5) rotate(-90)" font-size="11.55" text-anchor="middle" fill="#111">Intensity, cps</text>
<line x1="110.7" y1="518" x2="110.7" y2="700.7" stroke="#808080" stroke-width="1.1" />
<line x1="108.5" y1="700.2" x2="110.7" y2="700.2" stroke="#808080" stroke-width="0.9" />
<line x1="109.5" y1="695.4" x2="110.7" y2="695.4" stroke="#808080" stroke-width="0.6" />
<line x1="109.5" y1="690.6" x2="110.7" y2="690.6" stroke="#808080" stroke-width="0.6" />
<line x1="109.5" y1="685.8" x2="110.7" y2="685.8" stroke="#808080" stroke-width="0.6" />
<line x1="109.5" y1="681" x2="110.7" y2="681" stroke="#808080" stroke-width="0.6" />
<line x1="108.5" y1="676.2" x2="110.7" y2="676.2" stroke="#808080" stroke-width="0.9" />
<text x="108.6" y="680.4" font-size="9.8" text-anchor="end" fill="#111" >1000</text>
<line x1="109.5" y1="671.4" x2="110.7" y2="671.4" stroke="#808080" stroke-width="0.6" />
<line x1="109.5" y1="666.6" x2="110.7" y2="666.6" stroke="#808080" stroke-width="0.6" />
<line x1="109.5" y1="661.8" x2="110.7" y2="661.8" stroke="#808080" stroke-width="0.6" />
<line x1="109.5" y1="657" x2="110.7" y2="657" stroke="#808080" stroke-width="0.6" />
<line x1="108.5" y1="652.2" x2="110.7" y2="652.2" stroke="#808080" stroke-width="0.9" />
<text x="108.6" y="656.4" font-size="9.8" text-anchor="end" fill="#111" >2000</text>
<line x1="109.5" y1="647.4" x2="110.7" y2="647.4" stroke="#808080" stroke-width="0.6" />
<line x1="109.5" y1="642.6" x2="110.7" y2="642.6" stroke="#808080" stroke-width="0.6" />
<line x1="109.5" y1="637.8" x2="110.7" y2="637.8" stroke="#808080" stroke-width="0.6" />
<line x1="109.5" y1="633" x2="110.7" y2="633" stroke="#808080" stroke-width="0.6" />
<line x1="108.5" y1="628.2" x2="110.7" y2="628.2" stroke="#808080" stroke-width="0.9" />
<text x="108.6" y="632.4" font-size="9.8" text-anchor="end" fill="#111" >3000</text>
<line x1="109.5" y1="623.4" x2="110.7" y2="623.4" stroke="#808080" stroke-width="0.6" />
<line x1="109.5" y1="618.6" x2="110.7" y2="618.6" stroke="#808080" stroke-width="0.6" />
<line x1="109.5" y1="613.8" x2="110.7" y2="613.8" stroke="#808080" stroke-width="0.6" />
<line x1="109.5" y1="609" x2="110.7" y2="609" stroke="#808080" stroke-width="0.6" />
<line x1="108.5" y1="604.2" x2="110.7" y2="604.2" stroke="#808080" stroke-width="0.9" />
<text x="108.6" y="608.4" font-size="9.8" text-anchor="end" fill="#111" >4000</text>
<line x1="109.5" y1="599.4" x2="110.7" y2="599.4" stroke="#808080" stroke-width="0.6" />
<line x1="109.5" y1="594.6" x2="110.7" y2="594.6" stroke="#808080" stroke-width="0.6" />
<line x1="109.5" y1="589.8" x2="110.7" y2="589.8" stroke="#808080" stroke-width="0.6" />
<line x1="109.5" y1="585" x2="110.7" y2="585" stroke="#808080" stroke-width="0.6" />
<line x1="108.5" y1="580.2" x2="110.7" y2="580.2" stroke="#808080" stroke-width="0.9" />
<text x="108.6" y="584.4" font-size="9.8" text-anchor="end" fill="#111" >5000</text>
<line x1="109.5" y1="575.4" x2="110.7" y2="575.4" stroke="#808080" stroke-width="0.6" />
<line x1="109.5" y1="570.6" x2="110.7" y2="570.6" stroke="#808080" stroke-width="0.6" />
<line x1="109.5" y1="565.8" x2="110.7" y2="565.8" stroke="#808080" stroke-width="0.6" />
<line x1="109.5" y1="561" x2="110.7" y2="561" stroke="#808080" stroke-width="0.6" />
<line x1="108.5" y1="556.2" x2="110.7" y2="556.2" stroke="#808080" stroke-width="0.9" />
<text x="108.6" y="560.4" font-size="9.8" text-anchor="end" fill="#111" >6000</text>
<line x1="109.5" y1="551.4" x2="110.7" y2="551.4" stroke="#808080" stroke-width="0.6" />
<line x1="109.5" y1="546.6" x2="110.7" y2="546.6" stroke="#808080" stroke-width="0.6" />
<line x1="109.5" y1="541.8" x2="110.7" y2="541.8" stroke="#808080" stroke-width="0.6" />
<line x1="109.5" y1="537" x2="110.7" y2="537" stroke="#808080" stroke-width="0.6" />
<line x1="108.5" y1="532.2" x2="110.7" y2="532.2" stroke="#808080" stroke-width="0.9" />
<text x="108.6" y="536.4" font-size="9.8" text-anchor="end" fill="#111" >7000</text>
<line x1="109.5" y1="527.4" x2="110.7" y2="527.4" stroke="#808080" stroke-width="0.6" />
<line x1="109.5" y1="522.6" x2="110.7" y2="522.6" stroke="#808080" stroke-width="0.6" />
<text x="107.8" y="706.6" font-size="9.8" text-anchor="end" fill="#111" >0</text>
<line x1="110.7" y1="700.2" x2="414" y2="700.2" stroke="#808080" stroke-width="1.1" stroke-dasharray="2.2 1"/>
<line x1="116.14" y1="700.2" x2="116.14" y2="702.6" stroke="#808080" stroke-width="0.9" />
<line x1="131.99" y1="700.2" x2="131.99" y2="702.6" stroke="#808080" stroke-width="0.9" />
<line x1="147.84" y1="700.2" x2="147.84" y2="702.6" stroke="#808080" stroke-width="0.9" />
<line x1="163.69" y1="700.2" x2="163.69" y2="702.6" stroke="#808080" stroke-width="0.9" />
<line x1="179.54" y1="700.2" x2="179.54" y2="702.6" stroke="#808080" stroke-width="0.9" />
<line x1="195.39" y1="700.2" x2="195.39" y2="702.6" stroke="#808080" stroke-width="0.9" />
<line x1="211.24" y1="700.2" x2="211.24" y2="702.6" stroke="#808080" stroke-width="0.9" />
<line x1="227.09" y1="700.2" x2="227.09" y2="702.6" stroke="#808080" stroke-width="0.9" />
<line x1="242.94" y1="700.2" x2="242.94" y2="702.6" stroke="#808080" stroke-width="0.9" />
<line x1="258.79" y1="700.2" x2="258.79" y2="702.6" stroke="#808080" stroke-width="0.9" />
<line x1="274.64" y1="700.2" x2="274.64" y2="702.6" stroke="#808080" stroke-width="0.9" />
<line x1="290.49" y1="700.2" x2="290.49" y2="702.6" stroke="#808080" stroke-width="0.9" />
<line x1="306.34" y1="700.2" x2="306.34" y2="702.6" stroke="#808080" stroke-width="0.9" />
<line x1="322.19" y1="700.2" x2="322.19" y2="702.6" stroke="#808080" stroke-width="0.9" />
<line x1="338.04" y1="700.2" x2="338.04" y2="702.6" stroke="#808080" stroke-width="0.9" />
<line x1="353.89" y1="700.2" x2="353.89" y2="702.6" stroke="#808080" stroke-width="0.9" />
<line x1="369.74" y1="700.2" x2="369.74" y2="702.6" stroke="#808080" stroke-width="0.9" />
<line x1="385.59" y1="700.2" x2="385.59" y2="702.6" stroke="#808080" stroke-width="0.9" />
<line x1="401.44" y1="700.2" x2="401.44" y2="702.6" stroke="#808080" stroke-width="0.9" />
<text x="116.74" y="710.2" font-size="9.8" text-anchor="middle" fill="#111" >35</text>
<text x="132.59" y="710.2" font-size="9.8" text-anchor="middle" fill="#111" >40</text>
<text x="148.44" y="710.2" font-size="9.8" text-anchor="middle" fill="#111" >45</text>
<text x="164.29" y="710.2" font-size="9.8" text-anchor="middle" fill="#111" >50</text>
<text x="180.14" y="710.2" font-size="9.8" text-anchor="middle" fill="#111" >55</text>
<text x="195.99" y="710.2" font-size="9.8" text-anchor="middle" fill="#111" >60</text>
<text x="211.84" y="710.2" font-size="9.8" text-anchor="middle" fill="#111" >65</text>
<text x="227.69" y="710.2" font-size="9.8" text-anchor="middle" fill="#111" >70</text>
<text x="243.54" y="710.2" font-size="9.8" text-anchor="middle" fill="#111" >75</text>
<text x="259.39" y="710.2" font-size="9.8" text-anchor="middle" fill="#111" >80</text>
<text x="275.24" y="710.2" font-size="9.8" text-anchor="middle" fill="#111" >85</text>
<text x="291.09" y="710.2" font-size="9.8" text-anchor="middle" fill="#111" >90</text>
<text x="306.94" y="710.2" font-size="9.8" text-anchor="middle" fill="#111" >95</text>
<text x="322.79" y="710.2" font-size="9.8" text-anchor="middle" fill="#111" >100</text>
<text x="354.49" y="710.2" font-size="9.8" text-anchor="middle" fill="#111" >110</text>
<text x="386.19" y="710.2" font-size="9.8" text-anchor="middle" fill="#111" >120</text>
<text x="267.3" y="721.8" font-size="9.8" text-anchor="middle" fill="#111" >m/z, Da</text>
<text transform="translate(84,597) rotate(-90)" font-size="9.8" text-anchor="middle" fill="#111">Intensity, cps</text>
<polyline fill="none" stroke="#b4d2f0" stroke-width="1.0" stroke-linejoin="round" points="111.2,699.8 111.5,699.8 111.8,699.8 112.1,699.8 112.4,699.79 112.7,699.77 113,699.68 113.3,699.42 113.6,698.93 113.9,698.33 114.2,697.95 114.5,698.07 114.8,698.59 115.1,699.11 115.4,699.32 115.7,699.07 116,698.46 116.3,697.83 116.6,697.62 116.9,698.01 117.2,698.71 117.5,699.31 117.8,699.63 118.1,699.76 118.4,699.79 118.7,699.8 119,699.8 119.3,699.8 119.6,699.8 119.9,699.8 120.2,699.8 120.5,699.8 120.8,699.8 121.1,699.8 121.4,699.8 121.7,699.8 122,699.8 122.3,699.8 122.6,699.8 122.9,699.8 123.2,699.8 123.5,699.8 123.8,699.8 124.1,699.8 124.4,699.8 124.7,699.8 125,699.8 125.3,699.8 125.6,699.8 125.9,699.8 126.2,699.8 126.5,699.8 126.8,699.8 127.1,699.79 127.4,699.75 127.7,699.63 128,699.37 128.3,698.95 128.6,698.57 128.9,698.47 129.2,698.73 129.5,699.17 129.8,699.52 130.1,699.71 130.4,699.78 130.7,699.8 131,699.8 131.3,699.8 131.6,699.8 131.9,699.8 132.2,699.79 132.5,699.77 132.8,699.71 133.1,699.59 133.4,699.32 133.7,698.81 134,697.96 134.3,696.71 134.6,695.1 134.9,693.33 135.2,691.72 135.5,690.61 135.8,690.24 136.1,690.63 136.4,691.71 136.7,693.31 137,695.12 137.3,696.62 137.6,697.38 137.9,697.37 138.2,697.06 138.5,697.09 138.8,697.66 139.1,698.39 139.4,698.75 139.7,698.41 140,697.22 140.3,695.02 140.6,691.68 140.9,687.28 141.2,682.35 141.5,677.78 141.8,674.65 142.1,673.8 142.4,675.47 142.7,679.19 143,684.01 143.3,688.84 143.6,692.92 143.9,695.89 144.2,697.79 144.5,698.86 144.8,699.41 145.1,699.65 145.4,699.75 145.7,699.78 146,699.8 146.3,699.8 146.6,699.8 146.9,699.8 147.2,699.8 147.5,699.8 147.8,699.8 148.1,699.8 148.4,699.8 148.7,699.8 149,699.8 149.3,699.8 149.6,699.8 149.9,699.79 150.2,699.75 150.5,699.61 150.8,699.3 151.1,698.81 151.4,698.34 151.7,698.22 152,698.52 152.3,699.03 152.6,699.46 152.9,699.69 153.2,699.77 153.5,699.79 153.8,699.8 154.1,699.8 154.4,699.78 154.7,699.71 155,699.54 155.3,699.19 155.6,698.76 155.9,698.48 156.2,698.56 156.5,698.93 156.8,699.35 157.1,699.62 157.4,699.73 157.7,699.71 158,699.58 158.3,699.34 158.6,699.07 158.9,698.95 159.2,699.06 159.5,699.33 159.8,699.57 160.1,699.72 160.4,699.78 160.7,699.8 161,699.8 161.3,699.8 161.6,699.8 161.9,699.8 162.2,699.8 162.5,699.8 162.8,699.8 163.1,699.78 163.4,699.73 163.7,699.58 164,699.28 164.3,698.87 164.6,698.56 164.9,698.57 165.2,698.89 165.5,699.3 165.8,699.57 166.1,699.65 166.4,699.56 166.7,699.36 167,699.18 167.3,699.13 167.6,699.27 167.9,699.49 168.2,699.66 168.5,699.76 168.8,699.79 169.1,699.8 169.4,699.8 169.7,699.8 170,699.8 170.3,699.8 170.6,699.8 170.9,699.8 171.2,699.8 171.5,699.8 171.8,699.8 172.1,699.8 172.4,699.8 172.7,699.8 173,699.79 173.3,699.76 173.6,699.65 173.9,699.43 174.2,699.11 174.5,698.84 174.8,698.81 175.1,699.04 175.4,699.36 175.7,699.62 176,699.74 176.3,699.79 176.6,699.8 176.9,699.79 177.2,699.77 177.5,699.69 177.8,699.45 178.1,698.83 178.4,697.35 178.7,694.2 179,688.2 179.3,678.05 179.6,662.89 179.9,643.1 180.2,620.98 180.5,600.6 180.8,586.77 181.1,583.13 181.4,590.56 181.7,606.7 182,626.93 182.3,646.33 182.6,661.35 182.9,670.7 183.2,675.09 183.5,676.29 183.8,676.11 184.1,675.49 184.4,674.23 184.7,671.28 185,665.43 185.3,656.28 185.6,644.92 185.9,633.92 186.2,626.47 186.5,625.13 186.8,630.64 187.1,641.71 187.4,655.6 187.7,669.35 188,680.81 188.3,689.08 188.6,694.32 188.9,697.27 189.2,698.74 189.5,699.4 189.8,699.66 190.1,699.76 190.4,699.79 190.7,699.8 191,699.8 191.3,699.8 191.6,699.8 191.9,699.8 192.2,699.8 192.5,699.8 192.8,699.8 193.1,699.8 193.4,699.8 193.7,699.8 194,699.8 194.3,699.8 194.6,699.78 194.9,699.71 195.2,699.49 195.5,699.01 195.8,698.3 196.1,697.68 196.4,697.59 196.7,698.08 197,698.81 197.3,699.37 197.6,699.66 197.9,699.77 198.2,699.79 198.5,699.79 198.8,699.75 199.1,699.59 199.4,699.21 199.7,698.53 200,697.79 200.3,697.43 200.6,697.72 200.9,698.42 201.2,699.02 201.5,699.2 201.8,698.95 202.1,698.53 202.4,698.3 202.7,698.47 203,698.93 203.3,699.38 203.6,699.65 203.9,699.76 204.2,699.79 204.5,699.8 204.8,699.8 205.1,699.79 205.4,699.74 205.7,699.61 206,699.31 206.3,698.88 206.6,698.49 206.9,698.35 207.2,698.42 207.5,698.39 207.8,698.08 208.1,697.75 208.4,697.82 208.7,698.35 209,699 209.3,699.47 209.6,699.7 209.9,699.78 210.2,699.8 210.5,699.8 210.8,699.8 211.1,699.8 211.4,699.8 211.7,699.8 212,699.79 212.3,699.77 212.6,699.71 212.9,699.57 213.2,699.26 213.5,698.65 213.8,697.57 214.1,695.87 214.4,693.44 214.7,690.4 215,687.14 215.3,684.21 215.6,681.64 215.9,678.45 216.2,672.77 216.5,662.62 216.8,646.95 217.1,626.54 217.4,604.48 217.7,585.68 218,575.24 218.3,576.33 218.6,588.84 218.9,609.39 219.2,632.92 219.5,654.63 219.8,671.43 220.1,682.29 220.4,687.63 220.7,688.47 221,685.7 221.3,679.95 221.6,671.74 221.9,661.62 222.2,650.09 222.5,637.52 222.8,624.42 223.1,611.68 223.4,600.55 223.7,592.28 224,587.85 224.3,587.81 224.6,592.16 224.9,600.39 225.2,611.6 225.5,624.61 225.8,638.2 226.1,651.26 226.4,662.92 226.7,672.62 227,680.24 227.3,686.06 227.6,690.52 227.9,693.88 228.2,696.17 228.5,697.4 228.8,697.61 229.1,696.82 229.4,694.92 229.7,691.85 230,687.78 230.3,683.22 230.6,679.06 230.9,676.3 231.2,675.69 231.5,677.41 231.8,680.99 232.1,685.49 232.4,689.95 232.7,693.66 233,696.32 233.3,697.95 233.6,698.72 233.9,698.88 234.2,698.7 234.5,698.55 234.8,698.67 235.1,699.01 235.4,699.29 235.7,699.26 236,698.82 236.3,698.14 236.6,697.63 236.9,697.68 237.2,698.27 237.5,698.97 237.8,699.47 238.1,699.7 238.4,699.78 238.7,699.8 239,699.8 239.3,699.8 239.6,699.8 239.9,699.8 240.2,699.8 240.5,699.8 240.8,699.8 241.1,699.8 241.4,699.8 241.7,699.8 242,699.8 242.3,699.8 242.6,699.78 242.9,699.7 243.2,699.47 243.5,699.01 243.8,698.38 244.1,697.91 244.4,697.93 244.7,698.42 245,699.05 245.3,699.5 245.6,699.71 245.9,699.78 246.2,699.79 246.5,699.79 246.8,699.77 247.1,699.71 247.4,699.59 247.7,699.35 248,698.93 248.3,698.27 248.6,697.39 248.9,696.34 249.2,695.32 249.5,694.55 249.8,694.22 250.1,694.44 250.4,695.13 250.7,696.1 251,697.11 251.3,697.93 251.6,698.38 251.9,698.38 252.2,697.85 252.5,696.78 252.8,695.23 253.1,693.32 253.4,691.21 253.7,689.15 254,687.44 254.3,686.26 254.6,685.11 254.9,682.6 255.2,677.11 255.5,667.81 255.8,655.38 256.1,642.01 256.4,630.84 256.7,624.92 257,625.98 257.3,633.71 257.6,645.83 257.9,659.14 258.2,670.61 258.5,678.25 258.8,681.22 259.1,679.51 259.4,673.45 259.7,663.4 260,649.73 260.3,632.92 260.6,613.7 260.9,593.23 261.2,573.01 261.5,554.82 261.8,540.42 262.1,531.35 262.4,528.73 262.7,533.05 263,543.88 263.3,559.88 263.6,579.17 263.9,599.82 264.2,620.13 264.5,638.78 264.8,654.88 265.1,668.01 265.4,678.12 265.7,685.43 266,690.19 266.3,692.56 266.6,692.46 266.9,689.51 267.2,683.19 267.5,673.25 267.8,660.34 268.1,646.45 268.4,634.73 268.7,628.22 269,628.45 269.3,634.81 269.6,645.04 269.9,656.19 270.2,665.71 270.5,672.24 270.8,675.89 271.1,677.78 271.4,679.28 271.7,681.37 272,684.29 272.3,687.65 272.6,690.69 272.9,692.63 273.2,692.85 273.5,690.97 273.8,686.95 274.1,681.19 274.4,674.67 274.7,668.8 275,665.09 275.3,664.52 275.6,667.24 275.9,672.48 276.2,679.01 276.5,685.51 276.8,690.96 277.1,694.81 277.4,697.05 277.7,698 278,698.19 278.3,698.2 278.6,698.43 278.9,698.89 279.2,699.34 279.5,699.61 279.8,699.68 280.1,699.56 280.4,699.25 280.7,698.84 281,698.55 281.3,698.6 281.6,698.94 281.9,699.34 282.2,699.62 282.5,699.75 282.8,699.79 283.1,699.8 283.4,699.8 283.7,699.8 284,699.8 284.3,699.8 284.6,699.8 284.9,699.8 285.2,699.8 285.5,699.8 285.8,699.8 286.1,699.8 286.4,699.8 286.7,699.8 287,699.8 287.3,699.8 287.6,699.8 287.9,699.8 288.2,699.8 288.5,699.8 288.8,699.8 289.1,699.8 289.4,699.8 289.7,699.8 290,699.8 290.3,699.79 290.6,699.77 290.9,699.71 291.2,699.55 291.5,699.15 291.8,698.27 292.1,696.56 292.4,693.57 292.7,688.94 293,682.56 293.3,674.91 293.6,667.22 293.9,661.36 294.2,659.17 294.5,661.36 294.8,667.1 295.1,674.56 295.4,681.96 295.7,688.04 296,692.15 296.3,694.22 296.6,694.5 296.9,693.48 297.2,691.75 297.5,689.91 297.8,688.43 298.1,687.46 298.4,686.62 298.7,684.92 299,681.02 299.3,673.62 299.6,662.25 299.9,647.83 300.2,632.87 300.5,620.89 300.8,615.23 301.1,617.62 301.4,627.47 301.7,642.16 302,658.17 302.3,672.44 302.6,683.11 302.9,689.72 303.2,692.88 303.5,693.71 303.8,693 304.1,690.66 304.4,685.84 304.7,677.62 305,665.31 305.3,648.72 305.6,628.25 305.9,605.15 306.2,581.61 306.5,560.47 306.8,544.75 307.1,536.9 307.4,538.24 307.7,548.54 308,566.11 308.3,588.24 308.6,611.92 308.9,634.43 309.2,653.85 309.5,669.19 309.8,680.31 310.1,687.57 310.4,691.54 310.7,692.78 311,691.63 311.3,688.27 311.6,682.8 311.9,675.44 312.2,666.66 312.5,657.32 312.8,648.61 313.1,641.84 313.4,638.14 313.7,638.18 314,641.95 314.3,648.78 314.6,657.53 314.9,666.9 315.2,675.73 315.5,683.21 315.8,688.89 316.1,692.65 316.4,694.74 316.7,695.77 317,696.52 317.3,697.44 317.6,698.42 317.9,699.15 318.2,699.49 318.5,699.49 318.8,699.23 319.1,698.65 319.4,697.73 319.7,696.58 320,695.5 320.3,694.81 320.6,694.61 320.9,694.82 321.2,695.35 321.5,696.12 321.8,697.01 322.1,697.87 322.4,698.6 322.7,699.12 323,699.45 323.3,699.64 323.6,699.73 323.9,699.77 324.2,699.79 324.5,699.8 324.8,699.79 325.1,699.76 325.4,699.62 325.7,699.26 326,698.59 326.3,697.78 326.6,697.31 326.9,697.51 327.2,698.24 327.5,699.01 327.8,699.5 328.1,699.68 328.4,699.64 328.7,699.38 329,698.87 329.3,698.24 329.6,697.85 329.9,697.91 330.2,698.27 330.5,698.53 330.8,698.42 331.1,697.95 331.4,697.29 331.7,696.65 332,696.21 332.3,696.09 332.6,696.32 332.9,696.86 333.2,697.54 333.5,698.23 333.8,698.82 334.1,699.24 334.4,699.51 334.7,699.67 335,699.74 335.3,699.77 335.6,699.75 335.9,699.67 336.2,699.43 336.5,698.85 336.8,697.55 337.1,695.01 337.4,690.5 337.7,683.42 338,673.61 338.3,661.95 338.6,650.62 338.9,642.47 339.2,639.73 339.5,642.93 339.8,650.93 340.1,661.64 340.4,672.75 340.7,682.4 341,689.66 341.3,694.42 341.6,697.13 341.9,698.34 342.2,698.43 342.5,697.44 342.8,695.04 343.1,690.67 343.4,683.82 343.7,674.43 344,663.33 344.3,652.44 344.6,644.29 344.9,641.05 345.2,643.58 345.5,651.07 345.8,661.52 346.1,672.56 346.4,682.24 346.7,689.55 347,694.35 347.3,697.09 347.6,698.37 347.9,698.78 348.2,698.81 348.5,698.86 348.8,699.02 349.1,699.14 349.4,698.92 349.7,698.03 350,696.01 350.3,692.27 350.6,686.24 350.9,677.69 351.2,667.18 351.5,656.22 351.8,647.11 352.1,642.14 352.4,642.7 352.7,648.61 353,658.27 353.3,669.3 353.6,679.53 353.9,687.61 354.2,693.16 354.5,696.53 354.8,698.33 355.1,699.18 355.4,699.51 355.7,699.51 356,699.24 356.3,698.6 356.6,697.37 356.9,695.3 357.2,692.23 357.5,688.27 357.8,684.07 358.1,680.61 358.4,678.85 358.7,679.16 359,681.34 359.3,684.73 359.6,688.52 359.9,691.95 360.2,694.57 360.5,696.38 360.8,697.64 361.1,698.54 361.4,699.13 361.7,699.4 362,699.39 362.3,699.16 362.6,698.73 362.9,698.11 363.2,697.26 363.5,696.23 363.8,695.34 364.1,695.03 364.4,695.53 364.7,696.6 365,697.73 365.3,698.58 365.6,699.13 365.9,699.45 366.2,699.63 366.5,699.72 366.8,699.76 367.1,699.78 367.4,699.76 367.7,699.71 368,699.6 368.3,699.39 368.6,699.04 368.9,698.52 369.2,697.87 369.5,697.13 369.8,696.39 370.1,695.69 370.4,695.04 370.7,694.59 371,694.67 371.3,695.5 371.6,696.83 371.9,698.12 372.2,699 372.5,699.46 372.8,699.67 373.1,699.75 373.4,699.77 373.7,699.75 374,699.7 374.3,699.57 374.6,699.33 374.9,698.91 375.2,698.3 375.5,697.51 375.8,696.63 376.1,695.82 376.4,695.28 376.7,695.16 377,695.49 377.3,696.17 377.6,697.04 377.9,697.9 378.2,698.61 378.5,699.12 378.8,699.42 379.1,699.51 379.4,699.42 379.7,699.2 380,698.96 380.3,698.76 380.6,698.41 380.9,697.48 381.2,695.39 381.5,691.59 381.8,685.7 382.1,677.81 382.4,668.77 382.7,660.15 383,653.95 383.3,651.82 383.6,654.35 383.9,660.83 384.2,669.56 384.5,678.56 384.8,686.3 385.1,692.03 385.4,695.73 385.7,697.81 386,698.72 386.3,698.89 386.6,698.67 386.9,698.33 387.2,697.93 387.5,697.08 387.8,695.06 388.1,691.13 388.4,684.75 388.7,675.92 389,665.46 389.3,655.09 389.6,647.11 389.9,643.59 390.2,645.53 390.5,652.36 390.8,662.18 391.1,672.6 391.4,681.62 391.7,688.32 392,692.78 392.3,695.52 392.6,696.95 392.9,697.25 393.2,696.54 393.5,694.91 393.8,692.5 394.1,689.42 394.4,685.91 394.7,682.33 395,679.16 395.3,676.87 395.6,675.82 395.9,676.11 396.2,677.64 396.5,680.19 396.8,683.51 397.1,687.24 397.4,690.87 397.7,693.92 398,696.17 398.3,697.68 398.6,698.62 398.9,699.17 399.2,699.46 399.5,699.57 399.8,699.54 400.1,699.39 400.4,699.1 400.7,698.69 401,698.18 401.3,697.66 401.6,697.24 401.9,697.02 402.2,697.08 402.5,697.38 402.8,697.86 403.1,698.39 403.4,698.87 403.7,699.25 404,699.5 404.3,699.65 404.6,699.74 404.9,699.77 405.2,699.79 405.5,699.8 405.8,699.8 406.1,699.8 406.4,699.8 406.7,699.8 407,699.8 407.3,699.78 407.6,699.71 407.9,699.51 408.2,699.12 408.5,698.6 408.8,698.22 409.1,698.26 409.4,698.69 409.7,699.2 410,699.56 410.3,699.73 410.6,699.78 410.9,699.8 411.2,699.8 411.5,699.8 411.8,699.8 412.1,699.8 412.4,699.8 412.7,699.8 413,699.8 413.3,699.8"/>
<polyline fill="none" stroke="#9cc2ea" stroke-width="1.0" stroke-linejoin="round" points="111.2,699.8 111.5,699.8 111.8,699.8 112.1,699.79 112.4,699.77 112.7,699.67 113,699.38 113.3,698.8 113.6,698.01 113.9,697.42 114.2,697.46 114.5,698.09 114.8,698.87 115.1,699.42 115.4,699.67 115.7,699.71 116,699.56 116.3,699.19 116.6,698.64 116.9,698.15 117.2,698.05 117.5,698.43 117.8,699 118.1,699.45 118.4,699.68 118.7,699.74 119,699.67 119.3,699.42 119.6,698.94 119.9,698.34 120.2,697.96 120.5,698.08 120.8,698.6 121.1,699.18 121.4,699.56 121.7,699.73 122,699.79 122.3,699.8 122.6,699.8 122.9,699.8 123.2,699.8 123.5,699.8 123.8,699.8 124.1,699.8 124.4,699.8 124.7,699.78 125,699.74 125.3,699.61 125.6,699.39 125.9,699.15 126.2,699.02 126.5,699.11 126.8,699.35 127.1,699.58 127.4,699.72 127.7,699.78 128,699.8 128.3,699.8 128.6,699.8 128.9,699.8 129.2,699.8 129.5,699.8 129.8,699.8 130.1,699.8 130.4,699.8 130.7,699.8 131,699.8 131.3,699.79 131.6,699.76 131.9,699.71 132.2,699.58 132.5,699.31 132.8,698.83 133.1,698.03 133.4,696.84 133.7,695.28 134,693.49 134.3,691.76 134.6,690.43 134.9,689.82 135.2,690.07 135.5,691.1 135.8,692.56 136.1,693.97 136.4,694.94 136.7,695.48 137,696.02 137.3,696.9 137.6,697.99 137.9,698.86 138.2,699.26 138.5,699.15 138.8,698.55 139.1,697.31 139.4,695.19 139.7,692.01 140,687.77 140.3,682.82 140.6,677.88 140.9,673.95 141.2,671.94 141.5,672.35 141.8,675.09 142.1,679.47 142.4,684.51 142.7,689.29 143,693.19 143.3,695.95 143.6,697.59 143.9,698.27 144.2,698.28 144.5,698.08 144.8,698.11 145.1,698.51 145.4,699.06 145.7,699.48 146,699.7 146.3,699.77 146.6,699.78 146.9,699.73 147.2,699.59 147.5,699.32 147.8,698.97 148.1,698.73 148.4,698.78 148.7,699.08 149,699.42 149.3,699.65 149.6,699.76 149.9,699.79 150.2,699.79 150.5,699.74 150.8,699.59 151.1,699.28 151.4,698.81 151.7,698.41 152,698.35 152.3,698.67 152.6,699.15 152.9,699.52 153.2,699.71 153.5,699.78 153.8,699.8 154.1,699.8 154.4,699.8 154.7,699.8 155,699.8 155.3,699.8 155.6,699.8 155.9,699.8 156.2,699.8 156.5,699.8 156.8,699.8 157.1,699.8 157.4,699.8 157.7,699.8 158,699.8 158.3,699.8 158.6,699.8 158.9,699.8 159.2,699.8 159.5,699.8 159.8,699.8 160.1,699.8 160.4,699.8 160.7,699.8 161,699.8 161.3,699.8 161.6,699.8 161.9,699.8 162.2,699.8 162.5,699.8 162.8,699.8 163.1,699.79 163.4,699.77 163.7,699.69 164,699.46 164.3,699.05 164.6,698.56 164.9,698.29 165.2,698.43 165.5,698.88 165.8,699.34 166.1,699.63 166.4,699.75 166.7,699.79 167,699.78 167.3,699.72 167.6,699.52 167.9,699.03 168.2,698.25 168.5,697.48 168.8,697.22 169.1,697.67 169.4,698.49 169.7,699.2 170,699.6 170.3,699.75 170.6,699.79 170.9,699.8 171.2,699.8 171.5,699.8 171.8,699.8 172.1,699.8 172.4,699.8 172.7,699.8 173,699.8 173.3,699.8 173.6,699.8 173.9,699.8 174.2,699.8 174.5,699.8 174.8,699.8 175.1,699.79 175.4,699.75 175.7,699.64 176,699.39 176.3,698.99 176.6,698.56 176.9,698.24 177.2,697.83 177.5,696.72 177.8,693.93 178.1,688.35 178.4,678.8 178.7,664.43 179,645.3 179.3,623.03 179.6,600.94 179.9,583.32 180.2,574.14 180.5,575.51 180.8,586.91 181.1,605.3 181.4,626.11 181.7,644.92 182,658.89 182.3,667.38 182.6,671.39 182.9,672.59 183.2,672.32 183.5,670.99 183.8,668.13 184.1,662.82 184.4,654.51 184.7,643.74 185,632.38 185.3,623.22 185.6,618.98 185.9,621.21 186.2,629.66 186.5,642.35 186.8,656.45 187.1,669.34 187.4,679.6 187.7,687.09 188,692.32 188.3,695.67 188.6,697.33 188.9,697.67 189.2,697.4 189.5,697.32 189.8,697.81 190.1,698.59 190.4,699.26 190.7,699.62 191,699.75 191.3,699.79 191.6,699.8 191.9,699.8 192.2,699.8 192.5,699.78 192.8,699.71 193.1,699.52 193.4,699.16 193.7,698.71 194,698.42 194.3,698.51 194.6,698.9 194.9,699.32 195.2,699.53 195.5,699.44 195.8,699.01 196.1,698.34 196.4,697.76 196.7,697.69 197,698.16 197.3,698.82 197.6,699.25 197.9,699.27 198.2,698.97 198.5,698.63 198.8,698.55 199.1,698.8 199.4,699.2 199.7,699.54 200,699.71 200.3,699.78 200.6,699.8 200.9,699.8 201.2,699.8 201.5,699.8 201.8,699.8 202.1,699.8 202.4,699.8 202.7,699.8 203,699.8 203.3,699.8 203.6,699.8 203.9,699.8 204.2,699.8 204.5,699.8 204.8,699.8 205.1,699.8 205.4,699.8 205.7,699.8 206,699.8 206.3,699.8 206.6,699.8 206.9,699.79 207.2,699.76 207.5,699.67 207.8,699.47 208.1,699.22 208.4,699.02 208.7,699.03 209,699.24 209.3,699.49 209.6,699.68 209.9,699.76 210.2,699.79 210.5,699.8 210.8,699.79 211.1,699.78 211.4,699.72 211.7,699.55 212,699.18 212.3,698.57 212.6,697.75 212.9,696.76 213.2,695.46 213.5,693.67 213.8,691.3 214.1,688.52 214.4,685.52 214.7,682.23 215,678.04 215.3,671.71 215.6,661.67 215.9,646.76 216.2,627.11 216.5,604.79 216.8,583.73 217.1,568.62 217.4,563.38 217.7,569.72 218,586.4 218.3,609.57 218.6,634.11 218.9,655.61 219.2,671.57 219.5,681.44 219.8,685.83 220.1,685.75 220.4,682.07 220.7,675.34 221,665.9 221.3,654.06 221.6,640.37 221.9,625.73 222.2,611.31 222.5,598.32 222.8,587.9 223.1,581.05 223.4,578.49 223.7,580.55 224,587.06 224.3,597.47 224.6,610.79 224.9,625.6 225.2,640.44 225.5,654.14 225.8,666.02 226.1,675.76 226.4,683.35 226.7,688.96 227,692.89 227.3,695.43 227.6,696.84 227.9,697.24 228.2,696.64 228.5,694.96 228.8,692.12 229.1,688.21 229.4,683.63 229.7,679.11 230,675.58 230.3,673.87 230.6,674.44 230.9,677.12 231.2,681.27 231.5,685.96 231.8,690.35 232.1,693.91 232.4,696.44 232.7,698.05 233,698.97 233.3,699.43 233.6,699.63 233.9,699.66 234.2,699.53 234.5,699.25 234.8,698.93 235.1,698.78 235.4,698.91 235.7,699.22 236,699.52 236.3,699.7 236.6,699.75 236.9,699.69 237.2,699.47 237.5,699.01 237.8,698.4 238.1,697.96 238.4,698.01 238.7,698.5 239,699.1 239.3,699.52 239.6,699.72 239.9,699.78 240.2,699.77 240.5,699.69 240.8,699.49 241.1,699.18 241.4,698.88 241.7,698.78 242,698.96 242.3,699.29 242.6,699.56 242.9,699.69 243.2,699.67 243.5,699.48 243.8,699.12 244.1,698.73 244.4,698.54 244.7,698.69 245,699.03 245.3,699.28 245.6,699.28 245.9,699.09 246.2,698.92 246.5,698.88 246.8,698.88 247.1,698.72 247.4,698.25 247.7,697.46 248,696.45 248.3,695.37 248.6,694.45 248.9,693.9 249.2,693.84 249.5,694.3 249.8,695.14 250.1,696.15 250.4,697.09 250.7,697.75 251,697.96 251.3,697.65 251.6,696.77 251.9,695.37 252.2,693.59 252.5,691.63 252.8,689.69 253.1,687.92 253.4,686.35 253.7,684.6 254,681.72 254.3,676.41 254.6,667.74 254.9,655.88 255.2,642.36 255.5,629.82 255.8,621.2 256.1,618.74 256.4,623.02 256.7,632.77 257,645.42 257.3,658.15 257.6,668.65 257.9,675.29 258.2,677.13 258.5,673.92 258.8,665.88 259.1,653.45 259.4,637.17 259.7,617.75 260,596.27 260.3,574.2 260.6,553.36 260.9,535.76 261.2,523.24 261.5,517.22 261.8,518.4 262.1,526.63 262.4,540.98 262.7,559.84 263,581.31 263.3,603.41 263.6,624.45 263.9,643.17 264.2,658.75 264.5,670.8 264.8,679.36 265.1,684.87 265.4,688 265.7,689.06 266,687.61 266.3,682.84 266.6,674.36 266.9,662.66 267.2,649.27 267.5,636.59 267.8,627.32 268.1,623.58 268.4,626.07 268.7,633.75 269,644.26 269.3,654.91 269.6,663.63 269.9,669.62 270.2,673.27 270.5,675.62 270.8,677.69 271.1,680 271.4,682.63 271.7,685.42 272,687.95 272.3,689.49 272.6,689.12 272.9,686.33 273.2,681.34 273.5,675.02 273.8,668.7 274.1,663.88 274.4,661.81 274.7,663.06 275,667.31 275.3,673.55 275.6,680.41 275.9,686.71 276.2,691.72 276.5,695.25 276.8,697.45 277.1,698.69 277.4,699.32 277.7,699.61 278,699.7 278.3,699.64 278.6,699.37 278.9,698.79 279.2,698.03 279.5,697.49 279.8,697.56 280.1,698.19 280.4,698.94 280.7,699.46 281,699.7 281.3,699.78 281.6,699.8 281.9,699.8 282.2,699.8 282.5,699.8 282.8,699.79 283.1,699.75 283.4,699.65 283.7,699.46 284,699.25 284.3,699.13 284.6,699.19 284.9,699.39 285.2,699.6 285.5,699.72 285.8,699.78 286.1,699.8 286.4,699.8 286.7,699.8 287,699.8 287.3,699.8 287.6,699.8 287.9,699.8 288.2,699.8 288.5,699.8 288.8,699.8 289.1,699.8 289.4,699.79 289.7,699.76 290,699.69 290.3,699.5 290.6,699.02 290.9,697.99 291.2,696.03 291.5,692.86 291.8,688.35 292.1,682.55 292.4,675.77 292.7,668.77 293,662.8 293.3,659.29 293.6,659.18 293.9,662.54 294.2,668.51 294.5,675.66 294.8,682.52 295.1,687.96 295.4,691.44 295.7,692.93 296,692.75 296.3,691.47 296.6,689.69 296.9,687.94 297.2,686.49 297.5,685.15 297.8,683.19 298.1,679.44 298.4,672.66 298.7,662.15 299,648.27 299.3,632.76 299.6,618.56 299.9,609.05 300.2,606.97 300.5,613.22 300.8,626.28 301.1,642.87 301.4,659.48 301.7,673.58 302,683.99 302.3,690.6 302.6,693.8 302.9,694.08 303.2,691.8 303.5,687.1 303.8,679.72 304.1,668.91 304.4,653.79 304.7,634.1 305,610.61 305.3,585.24 305.6,560.82 305.9,540.61 306.2,527.68 306.5,524.1 306.8,530.5 307.1,545.79 307.4,567.53 307.7,592.57 308,617.72 308.3,640.45 308.6,659.21 308.9,673.42 309.2,683.23 309.5,689.19 309.8,691.93 310.1,691.94 310.4,689.5 310.7,684.74 311,677.79 311.3,669.02 311.6,659.15 311.9,649.27 312.2,640.77 312.5,635.01 312.8,632.99 313.1,635.04 313.4,640.75 313.7,649.05 314,658.64 314.3,668.33 314.6,677.23 314.9,684.68 315.2,690.27 315.5,693.93 315.8,695.95 316.1,696.94 316.4,697.57 316.7,698.21 317,698.85 317.3,699.29 317.6,699.42 317.9,699.27 318.2,698.8 318.5,697.98 318.8,696.81 319.1,695.53 319.4,694.52 319.7,694.06 320,694.15 320.3,694.61 320.6,695.31 320.9,696.18 321.2,697.1 321.5,697.95 321.8,698.65 322.1,699.14 322.4,699.45 322.7,699.64 323,699.73 323.3,699.77 323.6,699.79 323.9,699.8 324.2,699.79 324.5,699.75 324.8,699.62 325.1,699.26 325.4,698.61 325.7,697.85 326,697.43 326.3,697.65 326.6,698.36 326.9,699.08 327.2,699.53 327.5,699.73 327.8,699.78 328.1,699.79 328.4,699.77 328.7,699.72 329,699.62 329.3,699.44 329.6,699.14 329.9,698.69 330.2,698.08 330.5,697.37 330.8,696.67 331.1,696.11 331.4,695.82 331.7,695.88 332,696.27 332.3,696.9 332.6,697.62 332.9,698.3 333.2,698.86 333.5,699.26 333.8,699.51 334.1,699.66 334.4,699.72 334.7,699.73 335,699.64 335.3,699.39 335.6,698.79 335.9,697.52 336.2,695.09 336.5,690.89 336.8,684.41 337.1,675.48 337.4,664.69 337.7,653.48 338,643.94 338.3,638.24 338.6,637.79 338.9,642.72 339.2,651.78 339.5,662.87 339.8,673.83 340.1,683.06 340.4,689.79 340.7,694.04 341,696.27 341.3,697.02 341.6,696.55 341.9,694.64 342.2,690.78 342.5,684.49 342.8,675.66 343.1,664.91 343.4,653.69 343.7,644.1 344,638.3 344.3,637.75 344.6,642.58 344.9,651.57 345.2,662.65 345.5,673.65 345.8,682.97 346.1,689.91 346.4,694.48 346.7,697.19 347,698.62 347.3,699.31 347.6,699.58 347.9,699.63 348.2,699.48 348.5,699.04 348.8,698.03 349.1,696.04 349.4,692.48 349.7,686.77 350,678.62 350.3,668.31 350.6,657.03 350.9,646.7 351.2,639.55 351.5,637.33 351.8,640.59 352.1,648.52 352.4,659.2 352.7,670.43 353,680.38 353.3,688.06 353.6,693.28 353.9,696.37 354.2,697.85 354.5,698.21 354.8,697.97 355.1,697.6 355.4,697.24 355.7,696.59 356,695.18 356.3,692.73 356.6,689.34 356.9,685.46 357.2,681.79 357.5,679.12 357.8,678.1 358.1,678.99 358.4,681.56 358.7,685.18 359,689.1 359.3,692.64 359.6,695.42 359.9,697.34 360.2,698.51 360.5,699.13 360.8,699.34 361.1,699.24 361.4,698.86 361.7,698.26 362,697.61 362.3,697.08 362.6,696.77 362.9,696.65 363.2,696.69 363.5,696.9 363.8,697.29 364.1,697.8 364.4,698.34 364.7,698.83 365,699.21 365.3,699.47 365.6,699.63 365.9,699.72 366.2,699.75 366.5,699.75 366.8,699.7 367.1,699.59 367.4,699.39 367.7,699.06 368,698.58 368.3,697.95 368.6,697.23 368.9,696.54 369.2,696.02 369.5,695.8 369.8,695.93 370.1,696.38 370.4,697.04 370.7,697.76 371,698.42 371.3,698.95 371.6,699.32 371.9,699.55 372.2,699.68 372.5,699.73 372.8,699.74 373.1,699.69 373.4,699.57 373.7,699.33 374,698.95 374.3,698.36 374.6,697.6 374.9,696.71 375.2,695.83 375.5,695.15 375.8,694.82 376.1,694.92 376.4,695.43 376.7,696.23 377,697.13 377.3,697.98 377.6,698.66 377.9,699.15 378.2,699.46 378.5,699.62 378.8,699.68 379.1,699.63 379.4,699.41 379.7,698.87 380,697.73 380.3,695.57 380.6,691.89 380.9,686.29 381.2,678.69 381.5,669.66 381.8,660.47 382.1,652.9 382.4,648.68 382.7,648.88 383,653.44 383.3,661.23 383.6,670.47 383.9,679.42 384.2,686.85 384.5,692.28 384.8,695.81 385.1,697.84 385.4,698.84 385.7,699.09 386,698.66 386.3,697.5 386.6,695.61 386.9,693.04 387.2,689.46 387.5,684.08 387.8,676.29 388.1,666.33 388.4,655.6 388.7,646.24 389,640.43 389.3,639.64 389.6,644.08 389.9,652.64 390.2,663.31 390.5,673.98 390.8,683.06 391.1,689.79 391.4,694.12 391.7,696.43 392,697.16 392.3,696.58 392.6,694.78 392.9,691.88 393.2,688.23 393.5,684.47 393.8,681.05 394.1,678.1 394.4,675.74 394.7,674.29 395,674.15 395.3,675.48 395.6,678.12 395.9,681.64 396.2,685.51 396.5,689.23 396.8,692.46 397.1,695.01 397.4,696.86 397.7,698.11 398,698.87 398.3,699.3 398.6,699.49 398.9,699.51 399.2,699.38 399.5,699.12 399.8,698.73 400.1,698.23 400.4,697.69 400.7,697.2 401,696.85 401.3,696.67 401.6,696.58 401.9,696.48 402.2,696.42 402.5,696.63 402.8,697.27 403.1,698.17 403.4,698.96 403.7,699.45 404,699.67 404.3,699.71 404.6,699.57 404.9,699.17 405.2,698.45 405.5,697.63 405.8,697.22 406.1,697.51 406.4,698.3 406.7,699.07 407,699.53 407.3,699.73 407.6,699.79 407.9,699.8 408.2,699.8 408.5,699.8 408.8,699.8 409.1,699.8 409.4,699.8 409.7,699.8 410,699.8 410.3,699.8 410.6,699.8 410.9,699.8 411.2,699.8 411.5,699.8 411.8,699.8 412.1,699.8 412.4,699.8 412.7,699.8 413,699.8 413.3,699.8"/>
<polyline fill="none" stroke="#6a6a6a" stroke-width="0.65" stroke-linejoin="round" points="113.6,699.18 113.9,698.57 114.2,698.27 114.5,698.49 114.8,699.03 115.1,699.45 115.4,699.49 115.7,699.2 116,698.9 116.3,698.89 116.6,699.22 116.9,699.65"/>
<polyline fill="none" stroke="#6a6a6a" stroke-width="0.65" stroke-linejoin="round" points="120.2,699.22 120.5,698.58 120.8,698.23 121.1,698.41 121.4,699 121.7,699.6"/>
<polyline fill="none" stroke="#6a6a6a" stroke-width="0.65" stroke-linejoin="round" points="132.5,699.43 132.8,699.28 133.1,699.38 133.4,699.66"/>
<polyline fill="none" stroke="#6a6a6a" stroke-width="0.65" stroke-linejoin="round" points="139.4,699.69 139.7,699.49 140,699.47 140.3,699.63"/>
<polyline fill="none" stroke="#6a6a6a" stroke-width="0.65" stroke-linejoin="round" points="144.5,699.67 144.8,699.04 145.1,698.31 145.4,697.92 145.7,698.16 146,698.84 146.3,699.5"/>
<polyline fill="none" stroke="#6a6a6a" stroke-width="0.65" stroke-linejoin="round" points="147.2,699.24 147.5,698.47 147.8,697.87 148.1,697.85 148.4,698.45 148.7,699.23"/>
<polyline fill="none" stroke="#6a6a6a" stroke-width="0.65" stroke-linejoin="round" points="155.3,699.23 155.6,698.44 155.9,697.81 156.2,697.79 156.5,698.39 156.8,699.16 157.1,699.65"/>
<polyline fill="none" stroke="#6a6a6a" stroke-width="0.65" stroke-linejoin="round" points="157.7,699.55 158,699.36 158.3,699.36 158.6,699.57"/>
<polyline fill="none" stroke="#6a6a6a" stroke-width="0.65" stroke-linejoin="round" points="161.3,699.49 161.6,699.29 161.9,699.33 162.2,699.58"/>
<polyline fill="none" stroke="#6a6a6a" stroke-width="0.65" stroke-linejoin="round" points="166.4,699.4 166.7,698.69 167,698.09 167.3,698.02 167.6,698.52 167.9,699.24"/>
<polyline fill="none" stroke="#6a6a6a" stroke-width="0.65" stroke-linejoin="round" points="170,699.62 170.3,699.07 170.6,698.55 170.9,698.42 171.2,698.78 171.5,699.35"/>
<polyline fill="none" stroke="#6a6a6a" stroke-width="0.65" stroke-linejoin="round" points="173.6,699.65 173.9,699.54 174.2,699.61"/>
<polyline fill="none" stroke="#6a6a6a" stroke-width="0.65" stroke-linejoin="round" points="177.8,699.59 178.1,698.67 178.4,696.8 178.7,693.53 179,688.64 179.3,682.52 179.6,676.32 179.9,671.72 180.2,670.21 180.5,672.33 180.8,677.33 181.1,683.63 181.4,689.6 181.7,694.21 182,697.21 182.3,698.87 182.6,699.64"/>
<polyline fill="none" stroke="#6a6a6a" stroke-width="0.65" stroke-linejoin="round" points="183.2,699.56 183.5,698.51 183.8,695.96 184.1,690.76 184.4,681.62 184.7,667.92 185,650.7 185.3,633.17 185.6,620.07 185.9,615.62 186.2,621.39 186.5,635.36 186.8,653.1 187.1,670 187.4,683.1 187.7,691.65 188,696.41 188.3,698.67 188.6,699.46 188.9,699.43 189.2,698.94 189.5,698.39 189.8,698.23 190.1,698.6 190.4,699.23"/>
<polyline fill="none" stroke="#6a6a6a" stroke-width="0.65" stroke-linejoin="round" points="195.2,699.52 195.5,699.1 195.8,698.88 196.1,699.02 196.4,699.41"/>
<polyline fill="none" stroke="#6a6a6a" stroke-width="0.65" stroke-linejoin="round" points="209,699.45 209.3,698.99 209.6,698.74 209.9,698.9 210.2,699.34"/>
<polyline fill="none" stroke="#6a6a6a" stroke-width="0.65" stroke-linejoin="round" points="214.7,699.32 215,698.9 215.3,698.72 215.6,698.76 215.9,698.57 216.2,697.5 216.5,694.87 216.8,690.15 217.1,683.25 217.4,674.91 217.7,666.88 218,661.45 218.3,660.4 218.6,664.12 218.9,671.32 219.2,679.79 219.5,687.46 219.8,693.18 220.1,696.78 220.4,698.69 220.7,699.47 221,699.51 221.3,698.98 221.6,697.82 221.9,695.64 222.2,691.6 222.5,684.67 222.8,674.41 223.1,661.84 223.4,649.6 223.7,641.21 224,639.47 224.3,645 224.6,655.9 224.9,668.82 225.2,680.57 225.5,689.36 225.8,694.91 226.1,697.9 226.4,699.22 226.7,699.59 227,699.42 227.3,699.06 227.6,698.81 227.9,698.75 228.2,698.55 228.5,697.54 228.8,694.93 229.1,690.07 229.4,682.67 229.7,673.36 230,663.9 230.3,656.86 230.6,654.52 230.9,657.68 231.2,665.26 231.5,674.86 231.8,683.97 232.1,691.02 232.4,695.62 232.7,698.17 233,699.35"/>
<polyline fill="none" stroke="#6a6a6a" stroke-width="0.65" stroke-linejoin="round" points="233.6,699.67 233.9,699.4 234.2,699.2 234.5,699.24 234.8,699.52"/>
<polyline fill="none" stroke="#6a6a6a" stroke-width="0.65" stroke-linejoin="round" points="236.6,699.55 236.9,698.83 237.2,698.04 237.5,697.68 237.8,698.02 238.1,698.8 238.4,699.53"/>
<polyline fill="none" stroke="#6a6a6a" stroke-width="0.65" stroke-linejoin="round" points="241.1,699.57 241.4,699.32 241.7,699.28 242,699.49"/>
<polyline fill="none" stroke="#6a6a6a" stroke-width="0.65" stroke-linejoin="round" points="245.6,699.6 245.9,698.97 246.2,698.34 246.5,698.11 246.8,698.45 247.1,699.11 247.4,699.7"/>
<polyline fill="none" stroke="#6a6a6a" stroke-width="0.65" stroke-linejoin="round" points="252.2,699.38 252.5,698.69 252.8,698.15 253.1,698.13 253.4,698.64 253.7,699.33"/>
<polyline fill="none" stroke="#6a6a6a" stroke-width="0.65" stroke-linejoin="round" points="255.8,699.66 256.1,699.58 256.4,699.68"/>
<polyline fill="none" stroke="#6a6a6a" stroke-width="0.65" stroke-linejoin="round" points="259.1,699.29 259.4,698.16 259.7,696.46 260,694.13 260.3,690.63 260.6,684.97 260.9,676.61 261.2,666.47 261.5,656.96 261.8,651.07 262.1,650.87 262.4,656.47 262.7,665.97 263,676.55 263.3,685.77 263.6,692.43 263.9,696.5 264.2,698.65 264.5,699.62"/>
<polyline fill="none" stroke="#6a6a6a" stroke-width="0.65" stroke-linejoin="round" points="266.9,699.06 267.2,697.69 267.5,695.3 267.8,691.71 268.1,687.11 268.4,682.37 268.7,678.93 269,678.11 269.3,680.27 269.6,684.49 269.9,689.28 270.2,693.46 270.5,696.5 270.8,698.4 271.1,699.41"/>
<polyline fill="none" stroke="#6a6a6a" stroke-width="0.65" stroke-linejoin="round" points="272.3,699.19 272.6,697.71 272.9,694.74 273.2,689.63 273.5,682.14 273.8,672.95 274.1,663.91 274.4,657.54 274.7,655.91 275,659.61 275.3,667.36 275.6,676.74 275.9,685.4 276.2,691.96 276.5,696.15 276.8,698.44 277.1,699.51"/>
<polyline fill="none" stroke="#6a6a6a" stroke-width="0.65" stroke-linejoin="round" points="278,699.66 278.3,699.19 278.6,698.76 278.9,698.66 279.2,698.99 279.5,699.49"/>
<polyline fill="none" stroke="#6a6a6a" stroke-width="0.65" stroke-linejoin="round" points="285.2,699.26 285.5,698.49 285.8,697.9 286.1,697.88 286.4,698.42 286.7,699.02 287,699.15 287.3,698.72 287.6,698.1 287.9,697.85 288.2,698.23 288.5,698.97 288.8,699.63"/>
<polyline fill="none" stroke="#6a6a6a" stroke-width="0.65" stroke-linejoin="round" points="291.5,699.61 291.8,699.1 292.1,698.66 292.4,698.6 292.7,698.97 293,699.5"/>
<polyline fill="none" stroke="#6a6a6a" stroke-width="0.65" stroke-linejoin="round" points="297.8,699.4 298.1,698.07 298.4,695.17 298.7,689.72 299,680.91 299.3,668.83 299.6,655.1 299.9,642.89 300.2,635.89 300.5,636.56 300.8,644.75 301.1,657.67 301.4,671.45 301.7,683.04 302,691.15 302.3,695.98 302.6,698.46 302.9,699.56"/>
<polyline fill="none" stroke="#6a6a6a" stroke-width="0.65" stroke-linejoin="round" points="304.1,699.27 304.4,697.98 304.7,695.54 305,691.54 305.3,686.01 305.6,679.66 305.9,673.96 306.2,670.6 306.5,670.73 306.8,674.29 307.1,680.08 307.4,686.41 307.7,691.86 308,695.74 308.3,698.1 308.6,699.32"/>
<polyline fill="none" stroke="#6a6a6a" stroke-width="0.65" stroke-linejoin="round" points="310.4,699.69 310.7,699.24 311,698.85 311.3,698.78 311.6,699.09 311.9,699.53"/>
<polyline fill="none" stroke="#6a6a6a" stroke-width="0.65" stroke-linejoin="round" points="312.5,699.64 312.8,699.06 313.1,698.25 313.4,697.69 313.7,697.79 314,698.49 314.3,699.29"/>
<polyline fill="none" stroke="#6a6a6a" stroke-width="0.65" stroke-linejoin="round" points="332,699.41 332.3,698.66 332.6,697.98 332.9,697.82 333.2,698.31 333.5,699.08"/>
<polyline fill="none" stroke="#6a6a6a" stroke-width="0.65" stroke-linejoin="round" points="335.9,699.36 336.2,698.28 336.5,696.33 336.8,693.3 337.1,689.35 337.4,685.14 337.7,681.74 338,680.22 338.3,681.11 338.6,684.1 338.9,688.21 339.2,692.32 339.5,695.62 339.8,697.85 340.1,699.13"/>
<polyline fill="none" stroke="#6a6a6a" stroke-width="0.65" stroke-linejoin="round" points="341,699.61 341.3,699.01 341.6,698.22 341.9,697.5 342.2,696.75 342.5,695.22 342.8,691.82 343.1,685.84 343.4,677.51 343.7,668.24 344,660.38 344.3,656.39 344.6,657.65 344.9,663.71 345.2,672.57 345.5,681.73 345.8,689.3 346.1,694.52 346.4,697.59 346.7,699.14"/>
<polyline fill="none" stroke="#6a6a6a" stroke-width="0.65" stroke-linejoin="round" points="348.2,699.13 348.5,698.35 348.8,697.83 349.1,697.95 349.4,698.61 349.7,699.36"/>
<polyline fill="none" stroke="#6a6a6a" stroke-width="0.65" stroke-linejoin="round" points="366.2,699.42 366.5,699.03 366.8,698.9 367.1,699.12 367.4,699.54"/>
<polyline fill="none" stroke="#6a6a6a" stroke-width="0.65" stroke-linejoin="round" points="370.7,699.54 371,698.93 371.3,698.37 371.6,698.24 371.9,698.65 372.2,699.29"/>
<polyline fill="none" stroke="#6a6a6a" stroke-width="0.65" stroke-linejoin="round" points="374,699.45 374.3,698.53 374.6,696.91 374.9,694.48 375.2,691.42 375.5,688.32 375.8,685.99 376.1,685.2 376.4,686.23 376.7,688.7 377,691.85 377.3,694.85 377.6,697.17 377.9,698.68 378.2,699.53"/>
<polyline fill="none" stroke="#6a6a6a" stroke-width="0.65" stroke-linejoin="round" points="379.4,699.61 379.7,699.02 380,698.42 380.3,698.2 380.6,698.54 380.9,699.17"/>
<polyline fill="none" stroke="#6a6a6a" stroke-width="0.65" stroke-linejoin="round" points="382.1,699.68 382.4,699.24 382.7,698.87 383,698.82 383.3,699.13 383.6,699.59"/>
<polyline fill="none" stroke="#6a6a6a" stroke-width="0.65" stroke-linejoin="round" points="386.3,699.68 386.6,699.34 386.9,699.03 387.2,698.69 387.5,697.96 387.8,696.32 388.1,693.38 388.4,689.14 388.7,684.17 389,679.72 389.3,677.35 389.6,678.01 389.9,681.39 390.2,686.19 390.5,690.97 390.8,694.79 391.1,697.38 391.4,698.9 391.7,699.67"/>
<polyline fill="none" stroke="#6a6a6a" stroke-width="0.65" stroke-linejoin="round" points="400.7,699.65 401,699.15 401.3,698.72 401.6,698.65 401.9,699 402.2,699.5"/>
<polyline fill="none" stroke="#6a6a6a" stroke-width="0.65" stroke-linejoin="round" points="404.3,699.24 404.6,698.62 404.9,698.27 405.2,698.45 405.5,699.02 405.8,699.61"/>
<polyline fill="none" stroke="#6a6a6a" stroke-width="0.65" stroke-linejoin="round" points="407.6,699.55 407.9,699.16 408.2,698.95 408.5,699.08 408.8,699.46"/>
<polyline fill="none" stroke="#3a9468" stroke-width="0.65" stroke-linejoin="round" points="113.6,699.27 113.9,698.64 114.2,698.25 114.5,698.39 114.8,698.96 115.1,699.56"/>
<polyline fill="none" stroke="#3a9468" stroke-width="0.65" stroke-linejoin="round" points="119.3,699.56 119.6,699.34 119.9,699.34 120.2,699.56"/>
<polyline fill="none" stroke="#3a9468" stroke-width="0.65" stroke-linejoin="round" points="123.5,699.52 123.8,699.35 124.1,699.41 124.4,699.65"/>
<polyline fill="none" stroke="#3a9468" stroke-width="0.65" stroke-linejoin="round" points="128.6,699.67 128.9,699.2 129.2,698.81 129.5,698.77 129.8,699.11 130.1,699.58"/>
<polyline fill="none" stroke="#3a9468" stroke-width="0.65" stroke-linejoin="round" points="135.2,699.43 135.5,698.83 135.8,698.04 136.1,697.2 136.4,696.52 136.7,696.21 137,696.37 137.3,696.95 137.6,697.72 137.9,698.41 138.2,698.84 138.5,699 138.8,699.09 139.1,699.29 139.4,699.59"/>
<polyline fill="none" stroke="#3a9468" stroke-width="0.65" stroke-linejoin="round" points="140.3,699.59 140.6,699.02 140.9,698.11 141.2,696.92 141.5,695.66 141.8,694.65 142.1,694.2 142.4,694.49 142.7,695.39 143,696.63 143.3,697.86 143.6,698.84 143.9,699.51"/>
<polyline fill="none" stroke="#3a9468" stroke-width="0.65" stroke-linejoin="round" points="164.6,699.51 164.9,699 165.2,698.66 165.5,698.72 165.8,699.15 166.1,699.64"/>
<polyline fill="none" stroke="#3a9468" stroke-width="0.65" stroke-linejoin="round" points="173.3,699.38 173.6,698.93 173.9,698.74 174.2,698.95 174.5,699.4"/>
<polyline fill="none" stroke="#3a9468" stroke-width="0.65" stroke-linejoin="round" points="175.7,699.59 176,698.95 176.3,698.26 176.6,697.96 176.9,698.28 177.2,698.97 177.5,699.58"/>
<polyline fill="none" stroke="#3a9468" stroke-width="0.65" stroke-linejoin="round" points="178.4,699.12 178.7,697.81 179,695.48 179.3,691.96 179.6,687.5 179.9,682.92 180.2,679.45 180.5,678.2 180.8,679.61 181.1,683.18 181.4,687.78 181.7,692.2 182,695.65 182.3,697.91 182.6,699.18"/>
<polyline fill="none" stroke="#3a9468" stroke-width="0.65" stroke-linejoin="round" points="183.8,699.69 184.1,699.08 184.4,698 184.7,696.38 185,694.35 185.3,692.28 185.6,690.73 185.9,690.2 186.2,690.88 186.5,692.54 186.8,694.63 187.1,696.63 187.4,698.18 187.7,699.19"/>
<polyline fill="none" stroke="#3a9468" stroke-width="0.65" stroke-linejoin="round" points="196.1,699.34 196.4,698.89 196.7,698.71 197,698.95 197.3,699.4"/>
<polyline fill="none" stroke="#3a9468" stroke-width="0.65" stroke-linejoin="round" points="198.2,699.51 198.5,699.01 198.8,698.61 199.1,698.62 199.4,699.03 199.7,699.56"/>
<polyline fill="none" stroke="#3a9468" stroke-width="0.65" stroke-linejoin="round" points="201.8,699.58 202.1,699.01 202.4,698.51 202.7,698.42 203,698.8 203.3,699.38"/>
<polyline fill="none" stroke="#3a9468" stroke-width="0.65" stroke-linejoin="round" points="204.5,699.41 204.8,698.91 205.1,698.62 205.4,698.78 205.7,699.24"/>
<polyline fill="none" stroke="#3a9468" stroke-width="0.65" stroke-linejoin="round" points="208.1,699.46 208.4,699.23 208.7,699.26 209,699.53"/>
<polyline fill="none" stroke="#3a9468" stroke-width="0.65" stroke-linejoin="round" points="210.5,699.67 210.8,699.11 211.1,698.53 211.4,698.3 211.7,698.59 212,699.19"/>
<polyline fill="none" stroke="#3a9468" stroke-width="0.65" stroke-linejoin="round" points="215.3,699.56 215.6,698.65 215.9,696.88 216.2,693.94 216.5,689.76 216.8,684.84 217.1,680.24 217.4,677.27 217.7,676.84 218,678.93 218.3,682.62 218.6,686.79 218.9,690.73 219.2,694.17 219.5,696.84 219.8,698.5 220.1,699.09 220.4,698.85 220.7,698.27 221,697.92 221.3,698.07 221.6,698.43 221.9,698.34 222.2,697.27 222.5,694.94 222.8,691.37 223.1,687.01 223.4,682.78 223.7,679.89 224,679.29 224.3,681.2 224.6,684.95 224.9,689.4 225.2,693.44 225.5,696.47 225.8,698.38 226.1,699.42"/>
<polyline fill="none" stroke="#3a9468" stroke-width="0.65" stroke-linejoin="round" points="228.5,699.5 228.8,698.83 229.1,697.83 229.4,696.58 229.7,695.25 230,694.09 230.3,693.28 230.6,692.98 230.9,693.43 231.2,694.7 231.5,696.47 231.8,698.12 232.1,699.25"/>
<polyline fill="none" stroke="#3a9468" stroke-width="0.65" stroke-linejoin="round" points="240.8,699.45 241.1,699.03 241.4,698.85 241.7,699.04 242,699.47"/>
<polyline fill="none" stroke="#3a9468" stroke-width="0.65" stroke-linejoin="round" points="247.1,699.66 247.4,699.12 247.7,698.58 248,698.4 248.3,698.71 248.6,699.29"/>
<polyline fill="none" stroke="#3a9468" stroke-width="0.65" stroke-linejoin="round" points="252.8,699.62 253.1,699.06 253.4,698.5 253.7,698.22 254,698.18 254.3,697.88 254.6,696.67 254.9,694.18 255.2,690.44 255.5,686.03 255.8,681.99 256.1,679.54 256.4,679.51 256.7,681.9 257,685.91 257.3,690.35 257.6,694.21 257.9,696.98 258.2,698.66 258.5,699.5"/>
<polyline fill="none" stroke="#3a9468" stroke-width="0.65" stroke-linejoin="round" points="259.1,699.42 259.4,698.32 259.7,696.01 260,692.03 260.3,686.03 260.6,678.02 260.9,668.8 261.2,660.17 261.5,654.4 261.8,653 262.1,655.88 262.4,661.18 262.7,666.19 263,668.86 263.3,669.02 263.6,668.31 263.9,668.87 264.2,671.95 264.5,677.29 264.8,683.55 265.1,689.27 265.4,693.62 265.7,696.48 266,698.09 266.3,698.66 266.6,698.29 266.9,697.02 267.2,694.98 267.5,692.49 267.8,690.11 268.1,688.53 268.4,688.28 268.7,689.46 269,691.65 269.3,694.19 269.6,696.47 269.9,698.16 270.2,699.21"/>
<polyline fill="none" stroke="#3a9468" stroke-width="0.65" stroke-linejoin="round" points="272.9,699.46 273.2,698.77 273.5,697.76 273.8,696.52 274.1,695.3 274.4,694.43 274.7,694.21 275,694.71 275.3,695.76 275.6,697.03 275.9,698.2 276.2,699.09 276.5,699.65"/>
<polyline fill="none" stroke="#3a9468" stroke-width="0.65" stroke-linejoin="round" points="278,699.55 278.3,699.14 278.6,698.92 278.9,699.04 279.2,699.41"/>
<polyline fill="none" stroke="#3a9468" stroke-width="0.65" stroke-linejoin="round" points="280.1,699.45 280.4,698.72 280.7,697.93 281,697.6 281.3,698 281.6,698.81 281.9,699.55"/>
<polyline fill="none" stroke="#3a9468" stroke-width="0.65" stroke-linejoin="round" points="284.3,699.35 284.6,699.09 284.9,699.12 285.2,699.42"/>
<polyline fill="none" stroke="#3a9468" stroke-width="0.65" stroke-linejoin="round" points="290.9,699.25 291.2,698.82 291.5,698.58 291.8,698.47 292.1,698.14 292.4,697.29 292.7,695.9 293,694.26 293.3,692.88 293.6,692.22 293.9,692.51 294.2,693.66 294.5,695.29 294.8,696.95 295.1,698.29 295.4,699.21"/>
<polyline fill="none" stroke="#3a9468" stroke-width="0.65" stroke-linejoin="round" points="296.9,699.23 297.2,698.7 297.5,698.37 297.8,698.24 298.1,697.9 298.4,696.76 298.7,694.48 299,691.16 299.3,687.37 299.6,684.09 299.9,682.32 300.2,682.69 300.5,685.06 300.8,688.64 301.1,692.41 301.4,695.56 301.7,697.76 302,699.07"/>
<polyline fill="none" stroke="#3a9468" stroke-width="0.65" stroke-linejoin="round" points="304.4,699.5 304.7,698.53 305,696.66 305.3,693.57 305.6,689.26 305.9,684.25 306.2,679.65 306.5,676.75 306.8,676.43 307.1,678.74 307.4,682.92 307.7,687.86 308,692.47 308.3,695.99 308.6,698.22 308.9,699.35"/>
<polyline fill="none" stroke="#3a9468" stroke-width="0.65" stroke-linejoin="round" points="309.5,699.58 309.8,698.97 310.1,698.15 310.4,697.52 310.7,697.33 311,697.28 311.3,696.76 311.6,695.45 311.9,693.56 312.2,691.66 312.5,690.42 312.8,690.3 313.1,691.35 313.4,693.21 313.7,695.33 314,697.21 314.3,698.57 314.6,699.42"/>
<polyline fill="none" stroke="#3a9468" stroke-width="0.65" stroke-linejoin="round" points="316.4,699.29 316.7,698.56 317,697.99 317.3,697.98 317.6,698.55 317.9,699.29"/>
<polyline fill="none" stroke="#3a9468" stroke-width="0.65" stroke-linejoin="round" points="319.4,699.67 319.7,699.25 320,698.93 320.3,698.94 320.6,699.28 320.9,699.69"/>
<polyline fill="none" stroke="#3a9468" stroke-width="0.65" stroke-linejoin="round" points="322.1,699.68 322.4,699.36 322.7,699.19 323,699.3 323.3,699.6"/>
<polyline fill="none" stroke="#3a9468" stroke-width="0.65" stroke-linejoin="round" points="324.8,699.48 325.1,699.04 325.4,698.81 325.7,698.96 326,699.38"/>
<polyline fill="none" stroke="#3a9468" stroke-width="0.65" stroke-linejoin="round" points="329.3,699.35 329.6,698.77 329.9,698.42 330.2,698.55 330.5,699.06 330.8,699.62"/>
<polyline fill="none" stroke="#3a9468" stroke-width="0.65" stroke-linejoin="round" points="332.6,699.63 332.9,699.33 333.2,699.22 333.5,699.38 333.8,699.69"/>
<polyline fill="none" stroke="#3a9468" stroke-width="0.65" stroke-linejoin="round" points="335.3,699.53 335.6,699.12 335.9,698.86 336.2,698.87 336.5,698.9 336.8,698.52 337.1,697.37 337.4,695.26 337.7,692.32 338,688.99 338.3,686.07 338.6,684.48 338.9,684.85 339.2,687.09 339.5,690.39 339.8,693.75 340.1,696.46 340.4,698.27 340.7,699.32"/>
<polyline fill="none" stroke="#3a9468" stroke-width="0.65" stroke-linejoin="round" points="342.2,699.41 342.5,698.38 342.8,696.47 343.1,693.44 343.4,689.4 343.7,684.95 344,681.2 344.3,679.28 344.6,679.84 344.9,682.61 345.2,686.6 345.5,690.64 345.8,694 346.1,696.49 346.4,698.21 346.7,699.28"/>
<polyline fill="none" stroke="#3a9468" stroke-width="0.65" stroke-linejoin="round" points="347.9,699.63 348.2,699.42 348.5,699.25 348.8,698.99 349.1,698.35 349.4,697.12 349.7,695.3 350,693.15 350.3,691.15 350.6,689.79 350.9,689.45 351.2,690.29 351.5,692.17 351.8,694.59 352.1,696.85 352.4,698.49 352.7,699.44"/>
<polyline fill="none" stroke="#3a9468" stroke-width="0.65" stroke-linejoin="round" points="360.8,699.58 361.1,699.37 361.4,699.37 361.7,699.59"/>
<polyline fill="none" stroke="#3a9468" stroke-width="0.65" stroke-linejoin="round" points="367.7,699.21 368,698.69 368.3,698.48 368.6,698.67 368.9,698.99 369.2,699.13 369.5,699.07 369.8,699.07 370.1,699.3 370.4,699.65"/>
<polyline fill="none" stroke="#3a9468" stroke-width="0.65" stroke-linejoin="round" points="374.6,699.32 374.9,698.67 375.2,697.85 375.5,697 375.8,696.28 376.1,695.84 376.4,695.72 376.7,695.97 377,696.63 377.3,697.62 377.6,698.66 377.9,699.45"/>
<polyline fill="none" stroke="#3a9468" stroke-width="0.65" stroke-linejoin="round" points="380.3,699.22 380.6,698.62 380.9,697.99 381.2,697.3 381.5,696.43 381.8,695.42 382.1,694.55 382.4,694.19 382.7,694.51 383,695.45 383.3,696.69 383.6,697.91 383.9,698.88 384.2,699.53"/>
<polyline fill="none" stroke="#3a9468" stroke-width="0.65" stroke-linejoin="round" points="386.9,699.29 387.2,698.34 387.5,696.87 387.8,694.92 388.1,692.8 388.4,691.06 388.7,690.22 389,690.59 389.3,692.03 389.6,694.06 389.9,696.13 390.2,697.82 390.5,698.97 390.8,699.64"/>
<polyline fill="none" stroke="#3a9468" stroke-width="0.65" stroke-linejoin="round" points="393.2,699.46 393.5,698.67 393.8,697.41 394.1,695.7 394.4,693.79 394.7,692.14 395,691.26 395.3,691.45 395.6,692.63 395.9,694.42 396.2,696.3 396.5,697.88 396.8,698.98 397.1,699.63"/>
<polyline fill="none" stroke="#3a9468" stroke-width="0.65" stroke-linejoin="round" points="398.6,699.49 398.9,698.9 399.2,698.44 399.5,698.42 399.8,698.86 400.1,699.45"/>
<polyline fill="none" stroke="#3a9468" stroke-width="0.65" stroke-linejoin="round" points="407.3,699.53 407.6,698.99 407.9,698.59 408.2,698.6 408.5,699.02 408.8,699.56"/>
<polyline fill="none" stroke="#f02840" stroke-width="0.7" stroke-linejoin="round" points="113.6,699.37 113.9,698.75 114.2,698.33 114.5,698.41 114.8,698.93 115.1,699.53"/>
<polyline fill="none" stroke="#f02840" stroke-width="0.7" stroke-linejoin="round" points="119,699.48 119.3,698.82 119.6,698.26 119.9,698.17 120.2,698.62 120.5,699.29"/>
<polyline fill="none" stroke="#f02840" stroke-width="0.7" stroke-linejoin="round" points="126.2,699.65 126.5,699.21 126.8,698.86 127.1,698.86 127.4,699.2 127.7,699.65"/>
<polyline fill="none" stroke="#f02840" stroke-width="0.7" stroke-linejoin="round" points="131.6,699.4 131.9,698.64 132.2,697.94 132.5,697.73 132.8,698.05 133.1,698.43 133.4,698.24 133.7,697.16 134,695.17 134.3,692.53 134.6,689.71 134.9,687.32 135.2,686.05 135.5,686.45 135.8,688.58 136.1,691.77 136.4,694.97 136.7,697.4 137,698.88 137.3,699.65"/>
<polyline fill="none" stroke="#f02840" stroke-width="0.7" stroke-linejoin="round" points="141.5,699.07 141.8,697.74 142.1,695.72 142.4,693.35 142.7,691.23 143,689.88 143.3,689.51 143.6,690.16 143.9,691.68 144.2,693.74 144.5,695.82 144.8,697.5 145.1,698.55 145.4,699.02 145.7,699.15 146,699.27 146.3,699.5"/>
<polyline fill="none" stroke="#f02840" stroke-width="0.7" stroke-linejoin="round" points="147.5,699.52 147.8,699.25 148.1,699.21 148.4,699.43"/>
<polyline fill="none" stroke="#f02840" stroke-width="0.7" stroke-linejoin="round" points="155.3,699.64 155.6,699.16 155.9,698.79 156.2,698.77 156.5,699.12 156.8,699.6"/>
<polyline fill="none" stroke="#f02840" stroke-width="0.7" stroke-linejoin="round" points="167.3,699.33 167.6,698.73 167.9,698.35 168.2,698.47 168.5,698.99 168.8,699.5 169.1,699.66 169.4,699.34 169.7,698.66 170,698.01 170.3,697.88 170.6,698.37 170.9,699.13"/>
<polyline fill="none" stroke="#f02840" stroke-width="0.7" stroke-linejoin="round" points="176.6,699.66 176.9,699.33 177.2,699.12 177.5,699.13 177.8,699.1 178.1,698.49 178.4,696.5 178.7,692.13 179,684.31 179.3,672.47 179.6,657.48 179.9,642.09 180.2,630.41 180.5,626.2 180.8,630.93 181.1,642.95 181.4,658.43 181.7,673.29 182,684.89 182.3,692.51 182.6,696.78 182.9,698.82 183.2,699.59 183.5,699.64 183.8,699.11 184.1,697.85 184.4,695.59 184.7,692.19 185,687.91 185.3,683.56 185.6,680.31 185.9,679.19 186.2,680.57 186.5,683.92 186.8,688.11 187.1,692.05 187.4,695.16 187.7,697.3 188,698.52 188.3,698.89 188.6,698.62 188.9,698.2 189.2,698.14 189.5,698.59 189.8,699.27"/>
<polyline fill="none" stroke="#f02840" stroke-width="0.7" stroke-linejoin="round" points="192.8,699.61 193.1,699.43 193.4,699.46 193.7,699.66"/>
<polyline fill="none" stroke="#f02840" stroke-width="0.7" stroke-linejoin="round" points="196.1,699.27 196.4,698.75 196.7,698.53 197,698.77 197.3,699.29"/>
<polyline fill="none" stroke="#f02840" stroke-width="0.7" stroke-linejoin="round" points="198.8,699.52 199.1,699.04 199.4,698.74 199.7,698.84 200,699.25"/>
<polyline fill="none" stroke="#f02840" stroke-width="0.7" stroke-linejoin="round" points="205.4,699.38 205.7,699.15 206,699.19 206.3,699.49"/>
<polyline fill="none" stroke="#f02840" stroke-width="0.7" stroke-linejoin="round" points="211.1,699.69 211.4,699.22 211.7,698.53 212,697.7 212.3,696.89 212.6,696.34 212.9,696.21 213.2,696.52 213.5,697.08 213.8,697.57 214.1,697.73 214.4,697.62 214.7,697.49 215,697.25 215.3,696.06 215.6,692.38 215.9,684.42 216.2,670.71 216.5,651.12 216.8,628 217.1,606.41 217.4,592.64 217.7,591.29 218,602.84 218.3,623.36 218.6,646.66 218.9,667.26 219.2,682.31 219.5,691.62 219.8,696.57 220.1,698.84"/>
<polyline fill="none" stroke="#f02840" stroke-width="0.7" stroke-linejoin="round" points="221,699.67 221.3,698.83 221.6,697.2 221.9,694.59 222.2,690.66 222.5,684.69 222.8,676.02 223.1,665.16 223.4,654.27 223.7,646.5 224,644.44 224.3,648.9 224.6,658.52 224.9,670.44 225.2,681.58 225.5,690 225.8,695.29 226.1,698.11 226.4,699.41"/>
<polyline fill="none" stroke="#f02840" stroke-width="0.7" stroke-linejoin="round" points="230.3,699.59 230.6,699.31 230.9,699.23 231.2,699.42"/>
<polyline fill="none" stroke="#f02840" stroke-width="0.7" stroke-linejoin="round" points="236.6,699.27 236.9,698.9 237.2,698.85 237.5,699.16 237.8,699.61"/>
<polyline fill="none" stroke="#f02840" stroke-width="0.7" stroke-linejoin="round" points="239.6,699.22 239.9,698.4 240.2,697.75 240.5,697.71 240.8,698.33 241.1,699.15"/>
<polyline fill="none" stroke="#f02840" stroke-width="0.7" stroke-linejoin="round" points="245.9,699.45 246.2,698.7 246.5,697.54 246.8,695.98 247.1,694.19 247.4,692.55 247.7,691.48 248,691.19 248.3,691.31 248.6,691.06 248.9,689.88 249.2,687.96 249.5,686.15 249.8,685.36 250.1,686.05 250.4,688.12 250.7,691.01 251,693.99 251.3,696.46 251.6,698.09 251.9,698.82 252.2,698.75 252.5,698.23 252.8,697.83 253.1,697.96 253.4,698.52 253.7,698.92 254,698.56 254.3,696.9 254.6,693.36 254.9,687.37 255.2,678.85 255.5,668.83 255.8,659.61 256.1,654.12 256.4,654.31 256.7,660 257,669.12 257.3,678.93 257.6,687.31 257.9,693.28 258.2,696.9 258.5,698.73 258.8,699.35 259.1,698.99 259.4,697.32 259.7,693.44 260,685.99 260.3,673.79 260.6,656.87 260.9,637.41 261.2,619.88 261.5,609.49 261.8,609.74 262.1,620.5 262.4,638.07 262.7,657.15 263,673.46 263.3,685.13 263.6,692.44 263.9,696.59 264.2,698.73 264.5,699.69"/>
<polyline fill="none" stroke="#f02840" stroke-width="0.7" stroke-linejoin="round" points="266.3,699.26 266.6,698.17 266.9,696.34 267.2,693.71 267.5,690.57 267.8,687.58 268.1,685.61 268.4,685.3 268.7,686.77 269,689.51 269.3,692.69 269.6,695.54 269.9,697.65 270.2,698.97 270.5,699.67"/>
<polyline fill="none" stroke="#f02840" stroke-width="0.7" stroke-linejoin="round" points="284,699.5 284.3,698.76 284.6,697.99 284.9,697.68 285.2,698.07 285.5,698.86 285.8,699.58"/>
<polyline fill="none" stroke="#f02840" stroke-width="0.7" stroke-linejoin="round" points="291.5,699.03 291.8,697.51 292.1,694.72 292.4,690.37 292.7,684.61 293,678.38 293.3,673.23 293.6,670.76 293.9,671.81 294.2,675.92 294.5,681.62 294.8,687.19 295.1,691.6 295.4,694.74 295.7,696.97 296,698.52 296.3,699.48"/>
<polyline fill="none" stroke="#f02840" stroke-width="0.7" stroke-linejoin="round" points="297.8,699.09 298.1,697.64 298.4,695.09 298.7,691.03 299,684.93 299.3,676.6 299.6,666.97 299.9,658.25 300.2,653.22 300.5,653.76 300.8,659.77 301.1,669.2 301.4,679.25 301.7,687.7 302,693.6 302.3,697.12 302.6,698.93"/>
<polyline fill="none" stroke="#f02840" stroke-width="0.7" stroke-linejoin="round" points="303.8,699.4 304.1,698.33 304.4,696.14 304.7,691.73 305,683.42 305.3,669.59 305.6,650.03 305.9,627.15 306.2,606.05 306.5,592.86 306.8,592.01 307.1,603.9 307.4,624.65 307.7,648.04 308,668.51 308.3,683.24 308.6,692.19 308.9,696.85 309.2,698.95"/>
<polyline fill="none" stroke="#f02840" stroke-width="0.7" stroke-linejoin="round" points="310.1,699.67 310.4,699.01 310.7,697.85 311,696.11 311.3,693.62 311.6,690.21 311.9,686.11 312.2,682.14 312.5,679.47 312.8,679.01 313.1,680.94 313.4,684.68 313.7,689.18 314,693.35 314.3,696.49 314.6,698.41 314.9,699.31 315.2,699.44 315.5,699.05 315.8,698.46 316.1,698.15 316.4,698.38 316.7,699 317,699.62"/>
<polyline fill="none" stroke="#f02840" stroke-width="0.7" stroke-linejoin="round" points="319.7,699.61 320,699.29 320.3,699.16 320.6,699.31 320.9,699.63"/>
<polyline fill="none" stroke="#f02840" stroke-width="0.7" stroke-linejoin="round" points="329.6,699.36 329.9,698.74 330.2,698.32 330.5,698.4 330.8,698.92 331.1,699.53"/>
<polyline fill="none" stroke="#f02840" stroke-width="0.7" stroke-linejoin="round" points="335,699.63 335.3,699.26 335.6,699.05 335.9,699.12 336.2,699.32 336.5,699.34 336.8,698.87 337.1,697.7 337.4,695.74 337.7,693.09 338,690.19 338.3,687.71 338.6,686.35 338.9,686.39 339.2,687.64 339.5,689.68 339.8,692.18 340.1,694.81 340.4,697.13 340.7,698.75 341,699.58"/>
<polyline fill="none" stroke="#f02840" stroke-width="0.7" stroke-linejoin="round" points="341.6,699.46 341.9,698.69 342.2,697.7 342.5,696.86 342.8,696.29 343.1,695.61 343.4,694.4 343.7,692.71 344,691.09 344.3,690.23 344.6,690.53 344.9,691.91 345.2,693.92 345.5,696 345.8,697.72 346.1,698.91 346.4,699.61"/>
<polyline fill="none" stroke="#f02840" stroke-width="0.7" stroke-linejoin="round" points="348.5,699.52 348.8,698.96 349.1,698.39 349.4,697.81 349.7,696.75 350,694.4 350.3,690.04 350.6,683.6 350.9,675.93 351.2,668.81 351.5,664.33 351.8,664.02 352.1,667.98 352.4,674.86 352.7,682.61 353,689.42 353.3,694.37 353.6,697.41 353.9,699.02"/>
<polyline fill="none" stroke="#f02840" stroke-width="0.7" stroke-linejoin="round" points="364.4,699.41 364.7,699.07 365,699.01 365.3,699.26 365.6,699.63"/>
<polyline fill="none" stroke="#f02840" stroke-width="0.7" stroke-linejoin="round" points="366.5,699.55 366.8,699 367.1,698.53 367.4,698.46 367.7,698.85 368,699.43"/>
<polyline fill="none" stroke="#f02840" stroke-width="0.7" stroke-linejoin="round" points="369.8,699.44 370.1,698.75 370.4,698.16 370.7,698.07 371,698.55 371.3,699.25"/>
<polyline fill="none" stroke="#f02840" stroke-width="0.7" stroke-linejoin="round" points="373.4,699.43 373.7,699.09 374,699.02 374.3,699.27 374.6,699.65"/>
<polyline fill="none" stroke="#f02840" stroke-width="0.7" stroke-linejoin="round" points="379.7,699.6 380,698.99 380.3,698.34 380.6,697.94 380.9,697.79 381.2,697.51 381.5,696.66 381.8,695.16 382.1,693.37 382.4,691.87 382.7,691.19 383,691.56 383.3,692.78 383.6,694.37 383.9,695.87 384.2,697.11 384.5,698.14 384.8,699 385.1,699.62"/>
<polyline fill="none" stroke="#f02840" stroke-width="0.7" stroke-linejoin="round" points="387.2,699.56 387.5,698.7 387.8,697.1 388.1,694.55 388.4,691.12 388.7,687.3 389,684.03 389.3,682.31 389.6,682.72 389.9,685.12 390.2,688.72 390.5,692.48 390.8,695.62 391.1,697.8 391.4,699.09"/>
<polyline fill="none" stroke="#f02840" stroke-width="0.7" stroke-linejoin="round" points="393.5,699.18 393.8,698.34 394.1,697.2 394.4,695.93 394.7,694.83 395,694.24 395.3,694.36 395.6,695.15 395.9,696.35 396.2,697.6 396.5,698.65 396.8,699.39"/>
<polyline fill="none" stroke="#f02840" stroke-width="0.7" stroke-linejoin="round" points="398.6,699.37 398.9,699.01 399.2,698.92 399.5,699.19 399.8,699.6"/>
<polyline fill="none" stroke="#f02840" stroke-width="0.7" stroke-linejoin="round" points="404,699.48 404.3,698.73 404.6,697.97 404.9,697.69 405.2,698.1 405.5,698.9 405.8,699.6"/>
<polyline fill="none" stroke="#2a2ae4" stroke-width="0.7" stroke-linejoin="round" points="117.2,699.44 117.5,699.29 117.8,699.38 118.1,699.65"/>
<polyline fill="none" stroke="#2a2ae4" stroke-width="0.7" stroke-linejoin="round" points="123.5,699.23 123.8,698.6 124.1,698.25 124.4,698.43 124.7,699 125,699.6"/>
<polyline fill="none" stroke="#2a2ae4" stroke-width="0.7" stroke-linejoin="round" points="131.9,699.37 132.2,698.72 132.5,698.24 132.8,698.27 133.1,698.79 133.4,699.44"/>
<polyline fill="none" stroke="#2a2ae4" stroke-width="0.7" stroke-linejoin="round" points="135.2,699.46 135.5,699.19 135.8,699.18 136.1,699.43"/>
<polyline fill="none" stroke="#2a2ae4" stroke-width="0.7" stroke-linejoin="round" points="138.5,699.67 138.8,698.96 139.1,697.53 139.4,694.95 139.7,690.78 140,684.75 140.3,677.03 140.6,668.45 140.9,660.44 141.2,654.69 141.5,652.6 141.8,654.69 142.1,660.44 142.4,668.45 142.7,677.03 143,684.75 143.3,690.78 143.6,694.95 143.9,697.53 144.2,698.96 144.5,699.67"/>
<polyline fill="none" stroke="#2a2ae4" stroke-width="0.7" stroke-linejoin="round" points="149,699.3 149.3,698.8 149.6,698.58 149.9,698.8 150.2,699.29"/>
<polyline fill="none" stroke="#2a2ae4" stroke-width="0.7" stroke-linejoin="round" points="151.1,699.63 151.4,699.2 151.7,698.83 152,698.8 152.3,699.13 152.6,699.59"/>
<polyline fill="none" stroke="#2a2ae4" stroke-width="0.7" stroke-linejoin="round" points="154.7,699.41 155,699.01 155.3,698.88 155.6,699.12 155.9,699.54"/>
<polyline fill="none" stroke="#2a2ae4" stroke-width="0.7" stroke-linejoin="round" points="167.6,699.53 167.9,698.78 168.2,697.97 168.5,697.61 168.8,697.96 169.1,698.76 169.4,699.52"/>
<polyline fill="none" stroke="#2a2ae4" stroke-width="0.7" stroke-linejoin="round" points="171.5,699.66 171.8,699.55 172.1,699.55 172.4,699.53 172.7,699.22 173,698.57 173.3,697.91 173.6,697.74 173.9,698.23 174.2,699.03 174.5,699.68"/>
<polyline fill="none" stroke="#2a2ae4" stroke-width="0.7" stroke-linejoin="round" points="178.1,699.34 178.4,698.02 178.7,695.31 179,690.54 179.3,683.34 179.6,674.22 179.9,664.86 180.2,657.76 180.5,655.2 180.8,658.08 181.1,665.39 181.4,674.8 181.7,683.83 182,690.86 182.3,695.4 182.6,697.71 182.9,698.33 183.2,697.81 183.5,696.64 183.8,694.9 184.1,691.83 184.4,686.14 184.7,677.01 185,665.06 185.3,652.63 185.6,643.19 185.9,639.87 186.2,643.9 186.5,653.91 186.8,666.66 187.1,678.75 187.4,688.09 187.7,694.16 188,697.54 188.3,699.16"/>
<polyline fill="none" stroke="#2a2ae4" stroke-width="0.7" stroke-linejoin="round" points="189.8,699.68 190.1,699.16 190.4,698.66 190.7,698.5 191,698.81 191.3,699.35"/>
<polyline fill="none" stroke="#2a2ae4" stroke-width="0.7" stroke-linejoin="round" points="192.8,699.44 193.1,699.25 193.4,699.32 193.7,699.59"/>
<polyline fill="none" stroke="#2a2ae4" stroke-width="0.7" stroke-linejoin="round" points="198.5,699.4 198.8,699.06 199.1,698.99 199.4,699.25 199.7,699.65"/>
<polyline fill="none" stroke="#2a2ae4" stroke-width="0.7" stroke-linejoin="round" points="206,699.53 206.3,699.12 206.6,698.9 206.9,698.94 207.2,699.02 207.5,698.8 207.8,698.24 208.1,697.79 208.4,697.9 208.7,698.51 209,699.18 209.3,699.49 209.6,699.32 209.9,698.74 210.2,697.83 210.5,696.78 210.8,695.83 211.1,695.27 211.4,695.29 211.7,695.88 212,696.85 212.3,697.9 212.6,698.81 212.9,699.45"/>
<polyline fill="none" stroke="#2a2ae4" stroke-width="0.7" stroke-linejoin="round" points="213.8,699.63 214.1,699.16 214.4,698.63 214.7,698.24 215,697.73 215.3,696.13 215.6,691.84 215.9,682.93 216.2,667.78 216.5,646.22 216.8,620.78 217.1,597.03 217.4,581.87 217.7,580.33 218,592.86 218.3,614.99 218.6,639.89 218.9,661.8 219.2,678.07 219.5,688.69 219.8,694.91 220.1,698.1 220.4,699.49"/>
<polyline fill="none" stroke="#2a2ae4" stroke-width="0.7" stroke-linejoin="round" points="221.6,699.35 221.9,698.12 222.2,695.67 222.5,691.47 222.8,685.29 223.1,677.59 223.4,669.85 223.7,664.29 224,662.97 224.3,666.47 224.6,673.47 224.9,681.57 225.2,688.72 225.5,693.92 225.8,697.16 226.1,698.89"/>
<polyline fill="none" stroke="#2a2ae4" stroke-width="0.7" stroke-linejoin="round" points="228.2,699.54 228.5,698.53 228.8,696.49 229.1,692.91 229.4,687.54 229.7,680.78 230,673.85 230.3,668.51 230.6,666.37 230.9,668.17 231.2,673.41 231.5,680.54 231.8,687.6 232.1,693.15 232.4,696.74 232.7,698.7 233,699.62"/>
<polyline fill="none" stroke="#2a2ae4" stroke-width="0.7" stroke-linejoin="round" points="236,699.22 236.3,698.48 236.6,697.96 236.9,698.04 237.2,698.64 237.5,699.37"/>
<polyline fill="none" stroke="#2a2ae4" stroke-width="0.7" stroke-linejoin="round" points="243.8,699.25 244.1,698.69 244.4,698.41 244.7,698.63 245,699.18"/>
<polyline fill="none" stroke="#2a2ae4" stroke-width="0.7" stroke-linejoin="round" points="249.2,699.64 249.5,699.59"/>
<polyline fill="none" stroke="#2a2ae4" stroke-width="0.7" stroke-linejoin="round" points="253.1,699.39 253.4,698.9 253.7,698.51 254,698.16 254.3,697.34 254.6,695.34 254.9,691.64 255.2,686.23 255.5,679.83 255.8,673.8 256.1,669.79 256.4,669.09 256.7,672.08 257,677.91 257.3,684.81 257.6,690.94 257.9,695.32 258.2,697.91 258.5,699.17 258.8,699.51 259.1,699.01 259.4,697.25 259.7,693.22 260,685.53 260.3,672.93 260.6,655.45 260.9,635.37 261.2,617.26 261.5,606.53 261.8,606.79 262.1,617.91 262.4,636.03 262.7,655.63 263,672.24 263.3,683.96 263.6,691.31 263.9,695.66 264.2,698.14 264.5,699.41"/>
<polyline fill="none" stroke="#2a2ae4" stroke-width="0.7" stroke-linejoin="round" points="266,699.58 266.3,698.69 266.6,696.95 266.9,694.02 267.2,689.81 267.5,684.79 267.8,680.01 268.1,676.86 268.4,676.37 268.7,678.72 269,683.1 269.3,688.19 269.6,692.75 269.9,696.12 270.2,698.23 270.5,699.36"/>
<polyline fill="none" stroke="#2a2ae4" stroke-width="0.7" stroke-linejoin="round" points="272,699.68 272.3,699.26 272.6,698.95 272.9,698.96 273.2,699.28 273.5,699.7"/>
<polyline fill="none" stroke="#2a2ae4" stroke-width="0.7" stroke-linejoin="round" points="275.3,699.45 275.6,699.31 275.9,699.42 276.2,699.69"/>
<polyline fill="none" stroke="#2a2ae4" stroke-width="0.7" stroke-linejoin="round" points="279.2,699.35 279.5,699.01 279.8,698.96 280.1,699.25 280.4,699.66"/>
<polyline fill="none" stroke="#2a2ae4" stroke-width="0.7" stroke-linejoin="round" points="287.3,699.25 287.6,698.68 287.9,698.39 288.2,698.6 288.5,699.15 288.8,699.69"/>
<polyline fill="none" stroke="#2a2ae4" stroke-width="0.7" stroke-linejoin="round" points="293.3,699.55 293.6,699.3 293.9,699.28 294.2,699.5"/>
<polyline fill="none" stroke="#2a2ae4" stroke-width="0.7" stroke-linejoin="round" points="298.1,699.5 298.4,698.55 298.7,696.76 299,693.88 299.3,689.93 299.6,685.49 299.9,681.58 300.2,679.4 300.5,679.68 300.8,682.33 301.1,686.46 301.4,690.87 301.7,694.61 302,697.24 302.3,698.82 302.6,699.63"/>
<polyline fill="none" stroke="#2a2ae4" stroke-width="0.7" stroke-linejoin="round" points="303.8,699.55 304.1,698.53 304.4,696.56 304.7,693.13 305,687.33 305.3,678.04 305.6,664.86 305.9,649.28 306.2,634.89 306.5,626.05 306.8,625.79 307.1,634.18 307.4,648.31 307.7,663.98 308,677.7 308.3,687.78 308.6,694.12 308.9,697.48 309.2,698.8 309.5,698.87 309.8,698.38 310.1,697.92 310.4,697.76 310.7,697.58 311,696.71 311.3,694.6 311.6,691.21 311.9,687.06 312.2,683.15 312.5,680.64 312.8,680.4 313.1,682.5 313.4,686.23 313.7,690.46 314,694.21 314.3,696.95 314.6,698.64 314.9,699.54"/>
<polyline fill="none" stroke="#2a2ae4" stroke-width="0.7" stroke-linejoin="round" points="317,699.39 317.3,698.95 317.6,698.73 317.9,698.8 318.2,698.89 318.5,698.55 318.8,697.49 319.1,695.65 319.4,693.24 319.7,690.75 320,688.87 320.3,688.2 320.6,688.98 320.9,690.94 321.2,693.45 321.5,695.86 321.8,697.73 322.1,698.95 322.4,699.59"/>
<polyline fill="none" stroke="#2a2ae4" stroke-width="0.7" stroke-linejoin="round" points="323.3,699.46 323.6,699.29 323.9,699.36 324.2,699.62"/>
<polyline fill="none" stroke="#2a2ae4" stroke-width="0.7" stroke-linejoin="round" points="344,699.64 344.3,699.11 344.6,698.62 344.9,698.5 345.2,698.84 345.5,699.39"/>
<polyline fill="none" stroke="#2a2ae4" stroke-width="0.7" stroke-linejoin="round" points="349.4,699.37 349.7,698.19 350,695.92 350.3,692.11 350.6,686.68 350.9,680.16 351.2,673.93 351.5,669.88 351.8,669.52 352.1,673.01 352.4,679.05 352.7,685.7 353,691.4 353.3,695.47 353.6,697.92 353.9,699.14 354.2,699.48 354.5,699.2 354.8,698.59 355.1,698.1 355.4,698.14 355.7,698.69 356,699.38"/>
<polyline fill="none" stroke="#2a2ae4" stroke-width="0.7" stroke-linejoin="round" points="357.8,699.54 358.1,698.8 358.4,697.99 358.7,697.63 359,697.97 359.3,698.76 359.6,699.51"/>
<polyline fill="none" stroke="#2a2ae4" stroke-width="0.7" stroke-linejoin="round" points="363.5,699.56 363.8,699.36 364.1,699.39 364.4,699.61"/>
<polyline fill="none" stroke="#2a2ae4" stroke-width="0.7" stroke-linejoin="round" points="368,699.7 368.3,699.51 368.6,699.5 368.9,699.67"/>
<polyline fill="none" stroke="#2a2ae4" stroke-width="0.7" stroke-linejoin="round" points="380,699.37 380.3,698.89 380.6,698.41 380.9,697.83 381.2,696.92 381.5,695.57 381.8,694.01 382.1,692.73 382.4,692.2 382.7,692.62 383,693.86 383.3,695.52 383.6,697.15 383.9,698.44 384.2,699.31"/>
<polyline fill="none" stroke="#2a2ae4" stroke-width="0.7" stroke-linejoin="round" points="386.9,699.29 387.2,698.34 387.5,696.87 387.8,694.92 388.1,692.8 388.4,691.06 388.7,690.22 389,690.59 389.3,692.03 389.6,694.06 389.9,696.13 390.2,697.82 390.5,698.97 390.8,699.64"/>
<polyline fill="none" stroke="#2a2ae4" stroke-width="0.7" stroke-linejoin="round" points="397.7,699.53 398,698.83 398.3,698.13 398.6,697.87 398.9,698.26 399.2,698.99 399.5,699.64"/>
<polyline fill="none" stroke="#2a2ae4" stroke-width="0.7" stroke-linejoin="round" points="401.6,699.46 401.9,699 402.2,698.76 402.5,698.92 402.8,699.35"/>
<polyline fill="none" stroke="#2a2ae4" stroke-width="0.7" stroke-linejoin="round" points="408.2,699.42 408.5,698.91 408.8,698.61 409.1,698.74 409.4,699.21 409.7,699.7"/>
<polyline fill="none" stroke="#1010f0" stroke-width="1.5" stroke-linejoin="round" points="139.1,698.84 139.4,697.07 139.7,693.76 140,688.33 140.3,680.63 140.6,671.33 140.9,662.08 141.2,655.17 141.5,652.6 141.8,655.17 142.1,662.08 142.4,671.33 142.7,680.63 143,688.33 143.3,693.76 143.6,697.07 143.9,698.84"/>
<text x="265.5" y="516" font-size="9.8" text-anchor="middle" fill="#111" >80.9</text>
<text x="309" y="520" font-size="9.8" text-anchor="middle" fill="#111" >95.1</text>
<text x="220" y="562" font-size="9.8" text-anchor="middle" fill="#111" >67.0</text>
<text x="231.5" y="576.5" font-size="9.8" text-anchor="middle" fill="#111" >68.9</text>
<text x="183.8" y="569.5" font-size="9.8" text-anchor="middle" fill="#111" >55.3</text>
<text x="192.7" y="613.3" font-size="9.8" text-anchor="middle" fill="#111" >57.0</text>
<text x="143.7" y="650" font-size="9.8" text-anchor="middle" fill="#111" >43.0</text>
<text x="129.2" y="686" font-size="9.8" text-anchor="middle" fill="#111" >41.0</text>
<text x="237.7" y="652" font-size="9.8" text-anchor="middle" fill="#111" >71.1</text>
<text x="250.7" y="616" font-size="9.8" text-anchor="middle" fill="#111" >79.2</text>
<text x="276.7" y="619.7" font-size="9.8" text-anchor="middle" fill="#111" >83.0</text>
<text x="280.7" y="648" font-size="9.8" text-anchor="middle" fill="#111" >85.0</text>
<text x="291" y="656" font-size="9.8" text-anchor="middle" fill="#111" >91.0</text>
<text x="295.3" y="607" font-size="9.8" text-anchor="middle" fill="#111" >93.1</text>
<text x="320.3" y="625.5" font-size="9.8" text-anchor="middle" fill="#111" >97.0</text>
<text x="326" y="686.5" font-size="9.8" text-anchor="middle" fill="#111" >99.4</text>
<text x="332.7" y="636" font-size="9.8" text-anchor="middle" fill="#111" >105.2</text>
<text x="345.6" y="617" font-size="9.8" text-anchor="middle" fill="#111" >107.0</text>
<text x="360" y="634.6" font-size="9.8" text-anchor="middle" fill="#111" >109.3</text>
<text x="366.2" y="675" font-size="9.8" text-anchor="middle" fill="#111" >111.3</text>
<text x="376.3" y="647" font-size="9.8" text-anchor="middle" fill="#111" >119.1</text>
<text x="394" y="636.4" font-size="9.8" text-anchor="middle" fill="#111" >121.2</text>
<text x="404.4" y="670.3" font-size="9.8" text-anchor="middle" fill="#111" >123.0</text>
<line x1="344.7" y1="619.5" x2="344.7" y2="637" stroke="#333" stroke-width="0.7" />
<path d="M86.37 930.6L86.8 929.42h0.4L87.63 930.6zM87.41 930.6L87.84 928.22h0.4L88.67 930.6zM88.37 930.6L88.8 928.7h0.4L89.63 930.6zM89.6 930.6L90.03 929.96h0.4L90.86 930.6zM90.96 930.6L91.39 929.98h0.4L92.22 930.6zM92.25 930.6L92.68 929.95h0.4L93.51 930.6zM93.23 930.6L93.66 929.11h0.4L94.49 930.6zM94.87 930.6L95.3 929.88h0.4L96.13 930.6zM95.97 930.6L96.41 928.33h0.4L97.23 930.6zM97.73 930.6L98.16 928.55h0.4L98.99 930.6zM98.98 930.6L99.42 926.63h0.4L100.24 930.6zM99.93 930.6L100.36 927.26h0.4L101.19 930.6zM101.09 930.6L101.52 929.84h0.4L102.35 930.6zM102.09 930.6L102.52 929.47h0.4L103.35 930.6zM103.73 930.6L104.16 929.77h0.4L104.99 930.6zM105.15 930.6L105.58 928.3h0.4L106.41 930.6zM106.39 930.6L106.82 928.67h0.4L107.65 930.6zM107.34 930.6L107.77 929.96h0.4L108.6 930.6zM108.43 930.6L108.86 928.13h0.4L109.69 930.6zM109.71 930.6L110.14 929.46h0.4L110.97 930.6zM111.14 930.6L111.57 929.03h0.4L112.4 930.6zM112.31 930.6L112.74 927.61h0.4L113.57 930.6zM113.84 930.6L114.27 929.64h0.4L115.1 930.6zM115.26 930.6L115.69 928.77h0.4L116.52 930.6zM116.94 930.6L117.37 927.93h0.4L118.2 930.6zM118.1 930.6L118.53 926.68h0.4L119.36 930.6zM119.11 930.6L119.54 929.15h0.4L120.37 930.6zM120.69 930.6L121.12 929.83h0.4L121.95 930.6zM122.03 930.6L122.46 929.98h0.4L123.29 930.6zM123.53 930.6L123.96 927.78h0.4L124.79 930.6zM124.95 930.6L125.38 927.25h0.4L126.21 930.6zM126.13 930.6L126.56 928.1h0.4L127.39 930.6zM127.56 930.6L128 928.58h0.4L128.82 930.6zM128.87 930.6L129.31 927.44h0.4L130.13 930.6zM130.62 930.6L131.06 928.98h0.4L131.88 930.6zM132.12 930.6L132.55 929.96h0.4L133.38 930.6zM133.65 930.6L134.09 928.32h0.4L134.91 930.6zM135.45 930.6L135.88 927.54h0.4L136.71 930.6zM136.6 930.6L137.04 929.27h0.4L137.86 930.6zM138.11 930.6L138.54 929.99h0.4L139.37 930.6zM139.42 930.6L139.85 929.81h0.4L140.68 930.6zM140.43 930.6L140.86 929.96h0.4L141.69 930.6zM142.02 930.6L142.45 929.87h0.4L143.28 930.6zM143.14 930.6L143.57 929.26h0.4L144.4 930.6zM144.82 930.6L145.26 929.94h0.4L146.08 930.6zM146.13 930.6L146.56 928.73h0.4L147.39 930.6zM147.82 930.6L148.26 927.59h0.4L149.08 930.6zM149.5 930.6L149.93 929.57h0.4L150.76 930.6zM150.78 930.6L151.21 929.36h0.4L152.04 930.6zM152.47 930.6L152.9 926.92h0.4L153.73 930.6zM153.51 930.6L153.94 929.8h0.4L154.77 930.6zM154.62 930.6L155.05 929.68h0.4L155.88 930.6zM155.95 930.6L156.38 928.59h0.4L157.21 930.6zM157.09 930.6L157.52 930h0.4L158.35 930.6zM158.37 930.6L158.8 929.33h0.4L159.63 930.6zM159.78 930.6L160.21 926.97h0.4L161.04 930.6zM161.3 930.6L161.73 928.87h0.4L162.56 930.6zM162.75 930.6L163.18 928.26h0.4L164.01 930.6zM163.7 930.6L164.13 927.25h0.4L164.96 930.6zM165.3 930.6L165.74 927.38h0.4L166.56 930.6zM166.92 930.6L167.35 929.27h0.4L168.18 930.6zM168.18 930.6L168.61 929.91h0.4L169.44 930.6zM169.65 930.6L170.08 929.96h0.4L170.91 930.6zM170.61 930.6L171.04 929.74h0.4L171.87 930.6zM171.66 930.6L172.09 929.43h0.4L172.92 930.6zM172.61 930.6L173.04 930h0.4L173.87 930.6zM173.64 930.6L174.07 929.92h0.4L174.9 930.6zM174.87 930.6L175.3 929.99h0.4L176.13 930.6zM176.56 930.6L176.99 928.53h0.4L177.82 930.6zM177.59 930.6L178.02 929.65h0.4L178.85 930.6zM178.8 930.6L179.23 929.36h0.4L180.06 930.6zM179.81 930.6L180.24 927.54h0.4L181.07 930.6zM181.61 930.6L182.04 929.06h0.4L182.87 930.6zM182.94 930.6L183.37 929.94h0.4L184.2 930.6zM183.93 930.6L184.37 929.43h0.4L185.19 930.6zM185.07 930.6L185.5 927.65h0.4L186.33 930.6zM186.12 930.6L186.55 929.99h0.4L187.38 930.6zM187.87 930.6L188.31 928.86h0.4L189.13 930.6zM188.91 930.6L189.34 928.81h0.4L190.17 930.6zM189.83 930.6L190.26 928.86h0.4L191.09 930.6zM191.61 930.6L192.04 927.51h0.4L192.87 930.6zM193.14 930.6L193.57 929.63h0.4L194.4 930.6zM194.37 930.6L194.8 929.82h0.4L195.63 930.6zM195.96 930.6L196.39 928.86h0.4L197.22 930.6zM197.56 930.6L197.99 929.47h0.4L198.82 930.6zM198.66 930.6L199.1 927.76h0.4L199.92 930.6zM200.45 930.6L200.88 927.59h0.4L201.71 930.6zM202.08 930.6L202.51 927.74h0.4L203.34 930.6zM203.64 930.6L204.07 929.71h0.4L204.9 930.6zM205.01 930.6L205.44 929.41h0.4L206.27 930.6zM205.93 930.6L206.37 929.99h0.4L207.19 930.6zM207.08 930.6L207.52 929.64h0.4L208.34 930.6zM208.61 930.6L209.04 927.13h0.4L209.87 930.6zM209.91 930.6L210.34 927.22h0.4L211.17 930.6zM211.7 930.6L212.13 927.15h0.4L212.96 930.6zM212.93 930.6L213.36 929.73h0.4L214.19 930.6zM214.03 930.6L214.46 929.77h0.4L215.29 930.6zM215.12 930.6L215.55 928.56h0.4L216.38 930.6zM216.83 930.6L217.26 927.69h0.4L218.09 930.6zM218.16 930.6L218.59 928.46h0.4L219.42 930.6zM219.78 930.6L220.21 929.94h0.4L221.04 930.6zM221.27 930.6L221.7 927.39h0.4L222.53 930.6zM222.88 930.6L223.31 928.09h0.4L224.14 930.6zM224.21 930.6L224.64 929.81h0.4L225.47 930.6zM225.82 930.6L226.25 929.48h0.4L227.08 930.6zM227.44 930.6L227.87 927.12h0.4L228.7 930.6zM228.69 930.6L229.13 929.3h0.4L229.95 930.6zM230.45 930.6L230.88 928.21h0.4L231.71 930.6zM231.5 930.6L231.93 929.89h0.4L232.76 930.6zM232.53 930.6L232.97 927.45h0.4L233.79 930.6zM234.16 930.6L234.59 929.86h0.4L235.42 930.6zM235.8 930.6L236.24 927.11h0.4L237.06 930.6zM237.3 930.6L237.73 929.44h0.4L238.56 930.6zM238.69 930.6L239.12 929.89h0.4L239.95 930.6zM239.6 930.6L240.03 927.17h0.4L240.86 930.6zM241.09 930.6L241.52 928.94h0.4L242.35 930.6zM242.83 930.6L243.26 929.22h0.4L244.09 930.6zM244.51 930.6L244.94 927.83h0.4L245.77 930.6zM245.6 930.6L246.03 929.68h0.4L246.86 930.6zM246.77 930.6L247.2 929.7h0.4L248.03 930.6zM248.19 930.6L248.63 929.66h0.4L249.45 930.6zM249.47 930.6L249.9 929.89h0.4L250.73 930.6zM251.19 930.6L251.62 929.45h0.4L252.45 930.6zM252.5 930.6L252.93 928.77h0.4L253.76 930.6zM254.22 930.6L254.65 929.27h0.4L255.48 930.6zM255.94 930.6L256.37 929.04h0.4L257.2 930.6zM257.32 930.6L257.75 928.97h0.4L258.58 930.6zM258.24 930.6L258.67 929.22h0.4L259.5 930.6zM259.3 930.6L259.73 930h0.4L260.56 930.6zM260.92 930.6L261.35 929.83h0.4L262.18 930.6zM262.25 930.6L262.68 928.28h0.4L263.51 930.6zM263.65 930.6L264.08 929.52h0.4L264.91 930.6zM265.01 930.6L265.45 928.88h0.4L266.27 930.6zM266.62 930.6L267.05 929.92h0.4L267.88 930.6zM268.03 930.6L268.46 929.69h0.4L269.29 930.6zM269.17 930.6L269.61 928.11h0.4L270.43 930.6zM270.53 930.6L270.96 928.87h0.4L271.79 930.6zM272.12 930.6L272.55 927.54h0.4L273.38 930.6zM273.41 930.6L273.85 928.7h0.4L274.67 930.6zM274.77 930.6L275.2 929.03h0.4L276.03 930.6zM276.29 930.6L276.72 929.21h0.4L277.55 930.6zM277.67 930.6L278.1 929.13h0.4L278.93 930.6zM279.42 930.6L279.85 928.41h0.4L280.68 930.6zM281.11 930.6L281.54 927.45h0.4L282.37 930.6zM282.24 930.6L282.67 928.89h0.4L283.5 930.6zM283.99 930.6L284.42 927.88h0.4L285.25 930.6zM285.01 930.6L285.45 929.9h0.4L286.27 930.6zM286.31 930.6L286.74 929.96h0.4L287.57 930.6zM287.43 930.6L287.86 929.96h0.4L288.69 930.6zM288.93 930.6L289.36 928.12h0.4L290.19 930.6zM290.64 930.6L291.07 929.86h0.4L291.9 930.6zM292.18 930.6L292.62 928.58h0.4L293.44 930.6zM293.21 930.6L293.64 927.74h0.4L294.47 930.6zM294.98 930.6L295.42 929.76h0.4L296.24 930.6zM296.74 930.6L297.17 929.37h0.4L298 930.6zM298.08 930.6L298.51 927.3h0.4L299.34 930.6zM299.73 930.6L300.16 929.85h0.4L300.99 930.6zM301.02 930.6L301.45 929.05h0.4L302.28 930.6zM302.22 930.6L302.65 929.8h0.4L303.48 930.6zM303.41 930.6L303.84 928.38h0.4L304.67 930.6zM304.33 930.6L304.76 928.94h0.4L305.59 930.6zM305.62 930.6L306.05 930h0.4L306.88 930.6zM306.82 930.6L307.25 928.72h0.4L308.08 930.6zM308.18 930.6L308.61 929.97h0.4L309.44 930.6zM309.97 930.6L310.4 928.15h0.4L311.23 930.6zM311.74 930.6L312.17 929.93h0.4L313 930.6zM312.88 930.6L313.31 929.98h0.4L314.14 930.6zM314.48 930.6L314.91 929.67h0.4L315.74 930.6zM315.5 930.6L315.93 929.33h0.4L316.76 930.6zM317.22 930.6L317.65 928.06h0.4L318.48 930.6zM318.35 930.6L318.78 929.87h0.4L319.61 930.6zM320.08 930.6L320.51 928.91h0.4L321.34 930.6zM321.61 930.6L322.04 929.94h0.4L322.87 930.6zM322.56 930.6L322.99 928.54h0.4L323.82 930.6zM323.84 930.6L324.28 929.96h0.4L325.1 930.6zM325.59 930.6L326.02 928.72h0.4L326.85 930.6zM327.21 930.6L327.64 929.95h0.4L328.47 930.6zM328.88 930.6L329.31 929.97h0.4L330.14 930.6zM330.56 930.6L330.99 929.26h0.4L331.82 930.6zM331.76 930.6L332.19 928.98h0.4L333.02 930.6zM333.5 930.6L333.93 929.68h0.4L334.76 930.6zM334.51 930.6L334.95 929.06h0.4L335.77 930.6zM335.63 930.6L336.06 929.92h0.4L336.89 930.6zM336.67 930.6L337.11 929.98h0.4L337.93 930.6zM337.75 930.6L338.19 929.6h0.4L339.01 930.6zM338.93 930.6L339.36 928.33h0.4L340.19 930.6zM340.09 930.6L340.52 929.15h0.4L341.35 930.6zM341.15 930.6L341.58 929.53h0.4L342.41 930.6zM342.07 930.6L342.5 929.72h0.4L343.33 930.6zM342.98 930.6L343.41 928.43h0.4L344.24 930.6zM344.38 930.6L344.81 929.82h0.4L345.64 930.6zM345.7 930.6L346.14 927.7h0.4L346.96 930.6zM346.7 930.6L347.13 928.14h0.4L347.96 930.6zM347.99 930.6L348.42 929.17h0.4L349.25 930.6zM349.64 930.6L350.07 929.43h0.4L350.9 930.6zM351 930.6L351.43 928.6h0.4L352.26 930.6zM352.78 930.6L353.21 929.54h0.4L354.04 930.6zM354.43 930.6L354.86 928.55h0.4L355.69 930.6zM355.9 930.6L356.33 929.41h0.4L357.16 930.6zM357.11 930.6L357.55 929.98h0.4L358.37 930.6zM358.13 930.6L358.56 929.96h0.4L359.39 930.6zM359.7 930.6L360.13 929.72h0.4L360.96 930.6zM360.74 930.6L361.18 929.95h0.4L362 930.6zM362.4 930.6L362.83 928h0.4L363.66 930.6zM363.91 930.6L364.34 929.67h0.4L365.17 930.6zM365.02 930.6L365.46 929.65h0.4L366.28 930.6zM366.34 930.6L366.77 929.87h0.4L367.6 930.6zM367.64 930.6L368.07 929.71h0.4L368.9 930.6zM369.4 930.6L369.84 927.63h0.4L370.66 930.6zM370.8 930.6L371.23 929.74h0.4L372.06 930.6zM372.56 930.6L373 929.62h0.4L373.82 930.6zM373.79 930.6L374.22 930h0.4L375.05 930.6zM375.03 930.6L375.46 929.25h0.4L376.29 930.6zM376.38 930.6L376.81 929.81h0.4L377.64 930.6zM377.74 930.6L378.17 930h0.4L379 930.6zM378.87 930.6L379.31 929.95h0.4L380.13 930.6zM380.13 930.6L380.57 929.98h0.4L381.39 930.6zM381.05 930.6L381.49 929.64h0.4L382.31 930.6zM382.16 930.6L382.6 928.97h0.4L383.42 930.6zM383.54 930.6L383.97 928.47h0.4L384.8 930.6zM385.03 930.6L385.46 928.58h0.4L386.29 930.6zM386.72 930.6L387.15 929.47h0.4L387.98 930.6zM387.92 930.6L388.35 927.65h0.4L389.18 930.6zM388.95 930.6L389.38 928.57h0.4L390.21 930.6zM390.43 930.6L390.86 929.98h0.4L391.69 930.6zM392.08 930.6L392.51 928.01h0.4L393.34 930.6zM393.55 930.6L393.98 928.55h0.4L394.81 930.6zM395.18 930.6L395.61 929.9h0.4L396.44 930.6zM396.55 930.6L396.98 929.21h0.4L397.81 930.6zM398.2 930.6L398.63 928.33h0.4L399.46 930.6zM399.84 930.6L400.28 929h0.4L401.1 930.6zM401.55 930.6L401.98 928.72h0.4L402.81 930.6zM403.07 930.6L403.5 929.78h0.4L404.33 930.6zM404 930.6L404.43 929.91h0.4L405.26 930.6zM405.22 930.6L405.66 929.94h0.4L406.48 930.6zM406.88 930.6L407.31 929.08h0.4L408.14 930.6zM408.34 930.6L408.77 928.9h0.4L409.6 930.6zM409.85 930.6L410.29 929.26h0.4L411.11 930.6zM410.76 930.6L411.19 928.38h0.4L412.02 930.6zM412.33 930.6L412.76 929.23h0.4L413.59 930.6zM413.71 930.6L414.14 928.81h0.4L414.97 930.6zM414.67 930.6L415.1 928.59h0.4L415.93 930.6zM415.8 930.6L416.23 929.96h0.4L417.06 930.6zM416.94 930.6L417.37 928.61h0.4L418.2 930.6zM418.02 930.6L418.45 928.58h0.4L419.28 930.6zM419.8 930.6L420.23 929.26h0.4L421.06 930.6zM421.04 930.6L421.48 929.3h0.4L422.3 930.6zM422.56 930.6L422.99 928.51h0.4L423.82 930.6zM424.01 930.6L424.45 928.88h0.4L425.27 930.6zM424.98 930.6L425.42 929.89h0.4L426.24 930.6zM426.11 930.6L426.54 928.59h0.4L427.37 930.6zM427.29 930.6L427.72 929.09h0.4L428.55 930.6zM428.2 930.6L428.63 929.97h0.4L429.46 930.6zM429.34 930.6L429.77 928.81h0.4L430.6 930.6zM430.86 930.6L431.29 928.8h0.4L432.12 930.6zM432.02 930.6L432.46 929.22h0.4L433.28 930.6zM433.34 930.6L433.77 929.34h0.4L434.6 930.6zM434.35 930.6L434.78 928.14h0.4L435.61 930.6zM435.43 930.6L435.86 927.85h0.4L436.69 930.6zM437.17 930.6L437.6 930h0.4L438.43 930.6zM438.48 930.6L438.92 928.39h0.4L439.74 930.6zM440.26 930.6L440.69 929.39h0.4L441.52 930.6zM441.4 930.6L441.83 929.82h0.4L442.66 930.6zM443.15 930.6L443.58 929.82h0.4L444.41 930.6zM444.57 930.6L445 929.9h0.4L445.83 930.6zM445.94 930.6L446.38 927.98h0.4L447.2 930.6zM446.96 930.6L447.4 928.41h0.4L448.22 930.6zM448.32 930.6L448.75 928.2h0.4L449.58 930.6zM449.85 930.6L450.29 929.79h0.4L451.11 930.6zM451.56 930.6L451.99 929.32h0.4L452.82 930.6zM452.48 930.6L452.92 930h0.4L453.74 930.6zM453.83 930.6L454.26 929.4h0.4L455.09 930.6zM455 930.6L455.43 929.91h0.4L456.26 930.6zM456.21 930.6L456.64 929.66h0.4L457.47 930.6zM457.86 930.6L458.3 930h0.4L459.12 930.6zM459.44 930.6L459.87 928.39h0.4L460.7 930.6zM460.45 930.6L460.88 928.11h0.4L461.71 930.6zM461.99 930.6L462.42 928.2h0.4L463.25 930.6zM463.15 930.6L463.58 929.56h0.4L464.41 930.6zM464.4 930.6L464.84 927.89h0.4L465.66 930.6zM465.83 930.6L466.27 929.59h0.4L467.09 930.6zM467.12 930.6L467.55 929.73h0.4L468.38 930.6zM468.06 930.6L468.5 929.95h0.4L469.32 930.6zM469.71 930.6L470.15 929.72h0.4L470.97 930.6zM471.46 930.6L471.89 929.77h0.4L472.72 930.6zM472.6 930.6L473.03 929.29h0.4L473.86 930.6zM473.67 930.6L474.1 929.57h0.4L474.93 930.6zM475.43 930.6L475.86 928.3h0.4L476.69 930.6zM477.06 930.6L477.49 929.01h0.4L478.32 930.6zM478.78 930.6L479.21 928.13h0.4L480.04 930.6zM480.17 930.6L480.61 928.78h0.4L481.43 930.6zM481.12 930.6L481.55 928.75h0.4L482.38 930.6zM482.42 930.6L482.86 928.7h0.4L483.68 930.6zM483.9 930.6L484.34 929.72h0.4L485.16 930.6zM484.85 930.6L485.28 928.19h0.4L486.11 930.6zM485.86 930.6L486.3 929.39h0.4L487.12 930.6zM487.07 930.6L487.5 929.71h0.4L488.33 930.6zM488.64 930.6L489.07 928.05h0.4L489.9 930.6zM489.77 930.6L490.2 928.97h0.4L491.03 930.6zM490.94 930.6L491.37 929.21h0.4L492.2 930.6zM492.2 930.6L492.63 929.88h0.4L493.46 930.6zM493.24 930.6L493.67 929.84h0.4L494.5 930.6zM494.96 930.6L495.39 929.35h0.4L496.22 930.6zM496.06 930.6L496.49 928.29h0.4L497.32 930.6zM497.85 930.6L498.29 929.45h0.4L499.11 930.6zM498.88 930.6L499.31 929.86h0.4L500.14 930.6zM499.86 930.6L500.29 929.64h0.4L501.12 930.6zM500.84 930.6L501.27 929.8h0.4L502.1 930.6zM501.97 930.6L502.41 929.2h0.4L503.23 930.6zM503.67 930.6L504.11 928.76h0.4L504.93 930.6zM504.94 930.6L505.38 929.52h0.4L506.2 930.6zM506.32 930.6L506.75 929.59h0.4L507.58 930.6zM507.52 930.6L507.95 929.98h0.4L508.78 930.6zM508.67 930.6L509.1 928.15h0.4L509.93 930.6zM509.68 930.6L510.12 929.35h0.4L510.94 930.6zM511.15 930.6L511.58 928.47h0.4L512.41 930.6zM512.25 930.6L512.68 929.76h0.4L513.51 930.6zM513.37 930.6L513.8 929.55h0.4L514.63 930.6zM514.67 930.6L515.1 928.21h0.4L515.93 930.6zM516.33 930.6L516.77 928.45h0.4L517.59 930.6zM517.25 930.6L517.69 929.99h0.4L518.51 930.6zM518.79 930.6L519.22 928.4h0.4L520.05 930.6zM520.12 930.6L520.55 929.19h0.4L521.38 930.6zM521.02 930.6L521.45 929.58h0.4L522.28 930.6zM522.75 930.6L523.18 928.6h0.4L524.01 930.6zM524.42 930.6L524.85 928.19h0.4L525.68 930.6zM525.55 930.6L525.98 929.95h0.4L526.81 930.6zM526.58 930.6L527.02 929.33h0.4L527.84 930.6zM528.1 930.6L528.53 928.3h0.4L529.36 930.6zM529.65 930.6L530.08 929.07h0.4L530.91 930.6zM531.24 930.6L531.67 929.47h0.4L532.5 930.6zM532.63 930.6L533.06 929.99h0.4L533.89 930.6zM534.24 930.6L534.67 929.82h0.4L535.5 930.6zM535.96 930.6L536.4 929.08h0.4L537.22 930.6zM537.14 930.6L537.57 929.93h0.4L538.4 930.6zM538.26 930.6L538.7 929.11h0.4L539.52 930.6zM539.79 930.6L540.23 929.94h0.4L541.05 930.6zM540.76 930.6L541.19 929.35h0.4L542.02 930.6zM542.18 930.6L542.61 929.6h0.4L543.44 930.6zM543.28 930.6L543.71 929.19h0.4L544.54 930.6zM544.19 930.6L544.62 929.73h0.4L545.45 930.6zM545.51 930.6L545.94 928.31h0.4L546.77 930.6zM546.99 930.6L547.42 928.52h0.4L548.25 930.6zM548.31 930.6L548.75 929.82h0.4L549.57 930.6zM549.44 930.6L549.87 928.32h0.4L550.7 930.6zM550.97 930.6L551.4 929.73h0.4L552.23 930.6zM551.89 930.6L552.32 929.41h0.4L553.15 930.6zM553.4 930.6L553.83 929.56h0.4L554.66 930.6zM554.53 930.6L554.96 929.07h0.4L555.79 930.6zM556.26 930.6L556.69 929.84h0.4L557.52 930.6zM557.19 930.6L557.62 929.69h0.4L558.45 930.6zM558.47 930.6L558.9 929.04h0.4L559.73 930.6zM559.55 930.6L559.98 928.78h0.4L560.81 930.6zM561.11 930.6L561.55 929.41h0.4L562.37 930.6zM562.2 930.6L562.63 928.34h0.4L563.46 930.6zM563.38 930.6L563.81 928.73h0.4L564.64 930.6zM564.49 930.6L564.92 929.84h0.4L565.75 930.6zM566.07 930.6L566.5 929.75h0.4L567.33 930.6zM567.83 930.6L568.26 929.44h0.4L569.09 930.6zM568.9 930.6L569.33 929.84h0.4L570.16 930.6zM570.17 930.6L570.6 929.11h0.4L571.43 930.6zM571.93 930.6L572.36 929.92h0.4L573.19 930.6zM573.18 930.6L573.61 929.86h0.4L574.44 930.6zM574.96 930.6L575.39 929.93h0.4L576.22 930.6zM575.9 930.6L576.34 929.98h0.4L577.16 930.6zM577.16 930.6L577.59 928.58h0.4L578.42 930.6zM578.85 930.6L579.29 928.98h0.4L580.11 930.6zM580.65 930.6L581.08 928.5h0.4L581.91 930.6zM581.85 930.6L582.28 929.89h0.4L583.11 930.6zM583.59 930.6L584.02 928.96h0.4L584.85 930.6zM584.52 930.6L584.95 929.14h0.4L585.78 930.6zM585.76 930.6L586.19 929.66h0.4L587.02 930.6zM586.96 930.6L587.39 929.9h0.4L588.22 930.6zM587.86 930.6L588.29 929.79h0.4L589.12 930.6zM589.08 930.6L589.51 928.47h0.4L590.34 930.6zM590.09 930.6L590.52 928.45h0.4L591.35 930.6zM591.17 930.6L591.61 929.69h0.4L592.43 930.6zM592.81 930.6L593.25 928.81h0.4L594.07 930.6zM594.1 930.6L594.54 929.99h0.4L595.36 930.6zM595.43 930.6L595.86 929.67h0.4L596.69 930.6zM597.16 930.6L597.59 929.88h0.4L598.42 930.6zM598.38 930.6L598.82 928.65h0.4L599.64 930.6zM599.31 930.6L599.74 929.61h0.4L600.57 930.6zM600.94 930.6L601.37 928.95h0.4L602.2 930.6zM601.88 930.6L602.31 929.99h0.4L603.14 930.6zM602.84 930.6L603.27 928.61h0.4L604.1 930.6zM603.97 930.6L604.4 929h0.4L605.23 930.6zM605.68 930.6L606.11 929.72h0.4L606.94 930.6zM606.82 930.6L607.25 928.53h0.4L608.08 930.6zM608.28 930.6L608.71 929.82h0.4L609.54 930.6zM609.82 930.6L610.25 929.75h0.4L611.08 930.6zM610.97 930.6L611.4 930h0.4L612.23 930.6zM612.55 930.6L612.98 928.65h0.4L613.81 930.6zM614.02 930.6L614.45 928.59h0.4L615.28 930.6zM614.94 930.6L615.37 929.85h0.4L616.2 930.6zM616.27 930.6L616.7 928.56h0.4L617.53 930.6zM618.03 930.6L618.46 929.66h0.4L619.29 930.6zM619.15 930.6L619.59 929.6h0.4L620.41 930.6zM620.5 930.6L620.93 928.65h0.4L621.76 930.6zM621.56 930.6L621.99 928.93h0.4L622.82 930.6zM623.13 930.6L623.56 928.89h0.4L624.39 930.6zM624.72 930.6L625.15 929.32h0.4L625.98 930.6zM625.92 930.6L626.35 929.76h0.4L627.18 930.6zM627.14 930.6L627.58 928.99h0.4L628.4 930.6zM628.11 930.6L628.55 929.89h0.4L629.37 930.6zM629.69 930.6L630.12 929.84h0.4L630.95 930.6zM630.65 930.6L631.08 929.99h0.4L631.91 930.6zM632.05 930.6L632.48 929.75h0.4L633.31 930.6zM633.83 930.6L634.26 928.79h0.4L635.09 930.6zM635.62 930.6L636.05 929.82h0.4L636.88 930.6zM636.59 930.6L637.03 929.97h0.4L637.85 930.6zM637.94 930.6L638.37 929.16h0.4L639.2 930.6zM639.25 930.6L639.68 929.86h0.4L640.51 930.6zM640.52 930.6L640.95 929.32h0.4L641.78 930.6zM642.03 930.6L642.46 929.09h0.4L643.29 930.6zM643.69 930.6L644.12 929.25h0.4L644.95 930.6zM644.7 930.6L645.13 928.91h0.4L645.96 930.6zM645.86 930.6L646.29 929.42h0.4L647.12 930.6zM647.1 930.6L647.53 929.12h0.4L648.36 930.6zM648.18 930.6L648.61 929.85h0.4L649.44 930.6zM649.3 930.6L649.73 929.93h0.4L650.56 930.6zM650.99 930.6L651.43 929.41h0.4L652.25 930.6zM652.19 930.6L652.62 929.68h0.4L653.45 930.6zM653.98 930.6L654.41 929.53h0.4L655.24 930.6zM655.09 930.6L655.52 929.01h0.4L656.35 930.6zM656.58 930.6L657.01 928.63h0.4L657.84 930.6zM657.57 930.6L658 929.58h0.4L658.83 930.6z" fill="#9cc2ea" stroke="#9cc2ea" stroke-width="0.3" stroke-linejoin="round"/>
<path d="M566.16 930.6L566.4 929.72h0.22L566.86 930.6zM348.91 930.6L349.15 928.25h0.22L349.61 930.6zM120.44 930.6L120.68 929.52h0.22L121.14 930.6zM212.86 930.6L213.1 929.72h0.22L213.56 930.6zM202.41 930.6L202.65 929.64h0.22L203.11 930.6zM250.15 930.6L250.39 928.46h0.22L250.85 930.6zM414.07 930.6L414.31 928.97h0.22L414.77 930.6zM109.76 930.6L110 928.51h0.22L110.46 930.6z" fill="#3a9a60" stroke="#3a9a60" stroke-width="0.3" stroke-linejoin="round"/>
<path d="M262.64 930.6L262.88 929.7h0.22L263.34 930.6zM468.59 930.6L468.83 929.59h0.22L469.29 930.6zM506.04 930.6L506.28 928.17h0.22L506.74 930.6zM134.77 930.6L135.01 928.21h0.22L135.47 930.6zM468.18 930.6L468.42 928.52h0.22L468.88 930.6zM150.24 930.6L150.48 929h0.22L150.94 930.6zM331.55 930.6L331.79 929.18h0.22L332.25 930.6zM102.91 930.6L103.15 928.95h0.22L103.61 930.6zM302.07 930.6L302.31 929.54h0.22L302.77 930.6zM128.34 930.6L128.58 928.52h0.22L129.04 930.6zM604.59 930.6L604.83 928.65h0.22L605.29 930.6zM292.76 930.6L293 928.76h0.22L293.46 930.6zM613.3 930.6L613.54 929.03h0.22L614 930.6zM517.87 930.6L518.11 929.2h0.22L518.57 930.6zM564.35 930.6L564.59 927.85h0.22L565.05 930.6zM367.57 930.6L367.81 928.58h0.22L368.27 930.6zM452.83 930.6L453.07 927.99h0.22L453.53 930.6zM443.94 930.6L444.18 928.52h0.22L444.64 930.6z" fill="#f04050" stroke="#f04050" stroke-width="0.3" stroke-linejoin="round"/>
<path d="M432.92 930.6L433.16 929.41h0.22L433.62 930.6zM141.34 930.6L141.58 928.07h0.22L142.04 930.6zM430.51 930.6L430.75 929.1h0.22L431.21 930.6zM614.26 930.6L614.5 929.46h0.22L614.96 930.6z" fill="#666" stroke="#666" stroke-width="0.3" stroke-linejoin="round"/>
<path d="M554.1 930.6L554.34 928.44h0.22L554.8 930.6zM117.11 930.6L117.35 928.7h0.22L117.81 930.6zM316.51 930.6L316.75 929.39h0.22L317.21 930.6zM554.95 930.6L555.19 928.64h0.22L555.65 930.6z" fill="#3030d0" stroke="#3030d0" stroke-width="0.3" stroke-linejoin="round"/>
<path d="M89.15 930.6L90.06 924.92h0.84L91.81 930.6zM90.2 930.6L90.87 928.04h0.62L92.16 930.6zM90.48 930.6L91.4 914.7h0.84L93.14 930.6zM91.53 930.6L92.21 923.44h0.62L93.49 930.6zM98.72 930.6L99.63 859.37h0.84L101.38 930.6zM99.77 930.6L100.44 898.55h0.62L101.73 930.6zM99.32 930.6L100.23 918.1h0.84L101.98 930.6zM100.37 930.6L101.04 924.98h0.62L102.33 930.6zM99.86 930.6L100.77 885.16h0.84L102.52 930.6zM100.91 930.6L101.58 910.15h0.62L102.87 930.6zM106.01 930.6L106.92 922.65h0.84L108.67 930.6zM107.06 930.6L107.73 927.02h0.62L109.02 930.6zM106.55 930.6L107.46 854.15h0.84L109.21 930.6zM107.6 930.6L108.27 896.2h0.62L109.56 930.6zM107.82 930.6L108.73 861.87h0.84L110.48 930.6zM108.87 930.6L109.54 899.67h0.62L110.83 930.6zM109.29 930.6L110.2 915.83h0.84L111.95 930.6zM110.34 930.6L111.01 923.95h0.62L112.3 930.6zM113.24 930.6L114.15 927.19h0.84L115.9 930.6zM114.29 930.6L114.96 929.07h0.62L116.25 930.6zM114.11 930.6L115.02 924.92h0.84L116.77 930.6zM115.16 930.6L115.83 928.04h0.62L117.12 930.6zM114.71 930.6L115.63 884.76h0.84L117.37 930.6zM115.76 930.6L116.44 909.97h0.62L117.72 930.6zM115.88 930.6L116.8 826.66h0.84L118.54 930.6zM116.93 930.6L117.61 883.83h0.62L118.89 930.6zM117.26 930.6L118.17 887.77h0.84L119.92 930.6zM118.31 930.6L118.98 911.33h0.62L120.27 930.6zM117.79 930.6L118.7 919.24h0.84L120.45 930.6zM118.84 930.6L119.51 925.49h0.62L120.8 930.6zM118.6 930.6L119.51 909.02h0.84L121.26 930.6zM119.65 930.6L120.32 920.89h0.62L121.61 930.6zM122.61 930.6L123.52 907.31h0.84L125.27 930.6zM123.66 930.6L124.33 920.12h0.62L125.62 930.6zM123.41 930.6L124.33 923.78h0.84L126.07 930.6zM124.46 930.6L125.14 927.53h0.62L126.42 930.6zM124.02 930.6L124.93 878.91h0.84L126.68 930.6zM125.07 930.6L125.74 907.34h0.62L127.03 930.6zM125.36 930.6L126.27 830.75h0.84L128.02 930.6zM126.41 930.6L127.08 885.67h0.62L128.37 930.6zM126.69 930.6L127.61 892.66h0.84L129.35 930.6zM127.74 930.6L128.42 913.53h0.62L129.7 930.6zM128.23 930.6L129.15 927.76h0.84L130.89 930.6zM129.28 930.6L129.96 929.32h0.62L131.24 930.6zM130.64 930.6L131.55 928.33h0.84L133.3 930.6zM131.69 930.6L132.36 929.58h0.62L133.65 930.6zM132.12 930.6L133.03 895.1h0.84L134.78 930.6zM133.17 930.6L133.84 914.62h0.62L135.13 930.6zM133.32 930.6L134.23 895.1h0.84L135.98 930.6zM134.37 930.6L135.04 914.62h0.62L136.33 930.6zM134.86 930.6L135.77 895.1h0.84L137.52 930.6zM135.91 930.6L136.58 914.62h0.62L137.87 930.6zM136.2 930.6L137.11 918.27h0.84L138.86 930.6zM137.25 930.6L137.92 925.05h0.62L139.21 930.6zM137.34 930.6L138.25 928.9h0.84L140 930.6zM138.39 930.6L139.06 929.83h0.62L140.35 930.6zM138.67 930.6L139.59 928.33h0.84L141.33 930.6zM139.72 930.6L140.4 929.58h0.62L141.68 930.6zM140.01 930.6L140.93 927.76h0.84L142.67 930.6zM141.06 930.6L141.74 929.32h0.62L143.02 930.6zM141.42 930.6L142.33 901.29h0.84L144.08 930.6zM142.47 930.6L143.14 917.41h0.62L144.43 930.6zM142.82 930.6L143.74 896.24h0.84L145.48 930.6zM143.87 930.6L144.55 915.14h0.62L145.83 930.6zM144.03 930.6L144.94 916h0.84L146.69 930.6zM145.08 930.6L145.75 924.03h0.62L147.04 930.6zM145.37 930.6L146.28 928.9h0.84L148.03 930.6zM146.42 930.6L147.09 929.83h0.62L148.38 930.6zM150.33 930.6L150.86 911.7h0.48L151.87 930.6zM152.03 930.6L152.56 914.2h0.48L153.57 930.6zM153.73 930.6L154.26 915.4h0.48L155.27 930.6zM155.43 930.6L155.96 924.6h0.48L156.97 930.6zM160.23 930.6L160.76 916.1h0.48L161.77 930.6zM162.23 930.6L162.76 915.4h0.48L163.77 930.6zM164.13 930.6L164.66 925h0.48L165.67 930.6zM168.73 930.6L169.26 920.2h0.48L170.27 930.6zM170.43 930.6L170.96 921.4h0.48L171.97 930.6zM177.43 930.6L177.96 923.8h0.48L178.97 930.6zM179.33 930.6L179.86 919h0.48L180.87 930.6zM180.83 930.6L181.36 922.6h0.48L182.37 930.6zM182.43 930.6L182.96 926.1h0.48L183.97 930.6zM187.53 930.6L188.06 922.6h0.48L189.07 930.6zM189.23 930.6L189.76 924.3h0.48L190.77 930.6zM197.23 930.6L197.76 925.8h0.48L198.77 930.6zM198.83 930.6L199.36 926.4h0.48L200.37 930.6zM202.53 930.6L203.06 926.2h0.48L204.07 930.6zM207.23 930.6L207.76 926.6h0.48L208.77 930.6zM217.73 930.6L218.26 925.8h0.48L219.27 930.6zM224.23 930.6L224.76 923.8h0.48L225.77 930.6zM230.33 930.6L230.86 926.1h0.48L231.87 930.6zM237.63 930.6L238.16 919h0.48L239.17 930.6zM245.53 930.6L246.06 925h0.48L247.07 930.6zM255.93 930.6L256.46 923.3h0.48L257.47 930.6zM257.63 930.6L258.16 926.2h0.48L259.17 930.6zM273.83 930.6L274.36 925.6h0.48L275.37 930.6zM278.23 930.6L278.76 926.2h0.48L279.77 930.6zM283.53 930.6L284.06 926.2h0.48L285.07 930.6zM289.53 930.6L290.06 916.8h0.48L291.07 930.6zM293.93 930.6L294.46 926.2h0.48L295.47 930.6zM302.23 930.6L302.76 926.4h0.48L303.77 930.6zM310.23 930.6L310.76 926h0.48L311.77 930.6zM321.23 930.6L321.76 926.4h0.48L322.77 930.6zM332.23 930.6L332.76 926.2h0.48L333.77 930.6zM344.23 930.6L344.76 926.6h0.48L345.77 930.6zM355.23 930.6L355.76 926.4h0.48L356.77 930.6zM367.23 930.6L367.76 926.6h0.48L368.77 930.6zM379.23 930.6L379.76 926.4h0.48L380.77 930.6zM390.23 930.6L390.76 926.8h0.48L391.77 930.6zM398.43 930.6L398.96 923h0.48L399.97 930.6zM414.23 930.6L414.76 920.4h0.48L415.77 930.6zM426.53 930.6L427.06 914.4h0.48L428.07 930.6zM435.23 930.6L435.76 926.6h0.48L436.77 930.6zM641.23 930.6L641.76 920.2h0.48L642.77 930.6zM619.23 930.6L619.76 927.1h0.48L620.77 930.6zM603.23 930.6L603.76 927.4h0.48L604.77 930.6zM587.23 930.6L587.76 927.4h0.48L588.77 930.6z" fill="#9cc2ea" stroke="#9cc2ea" stroke-width="0.3" stroke-linejoin="round"/>
<path d="M101.03 930.6L101.41 882.55h0.35L102.15 930.6zM110.46 930.6L110.85 904.64h0.35L111.58 930.6zM119.77 930.6L120.15 905.38h0.35L120.89 930.6z" fill="#808080" stroke="#808080" stroke-width="0.3" stroke-linejoin="round"/>
<path d="M109.2 930.6L109.48 913.28h0.26L110.04 930.6zM125.33 930.6L125.61 912.42h0.26L126.17 930.6zM134.63 930.6L134.92 918.1h0.26L135.47 930.6z" fill="#8f9aaa" stroke="#8f9aaa" stroke-width="0.3" stroke-linejoin="round"/>
<path d="M99.83 930.6L100.12 926.85h0.26L100.67 930.6zM107.66 930.6L107.95 926.61h0.26L108.5 930.6zM109 930.6L109.28 927.02h0.26L109.84 930.6zM115.82 930.6L116.11 927.02h0.26L116.66 930.6zM116.96 930.6L117.25 922.93h0.26L117.8 930.6zM117.43 930.6L117.72 925.49h0.26L118.27 930.6zM126.47 930.6L126.75 926.56h0.26L127.31 930.6zM134.43 930.6L134.72 927.02h0.26L135.27 930.6z" fill="#5aa57c" stroke="#5aa57c" stroke-width="0.3" stroke-linejoin="round"/>
<path d="M100 930.6L100.24 926.4h0.22L100.7 930.6zM107.83 930.6L108.07 924.35h0.22L108.53 930.6zM109.17 930.6L109.41 927.48h0.22L109.87 930.6zM115.99 930.6L116.23 928.04h0.22L116.69 930.6zM117.13 930.6L117.37 925.37h0.22L117.83 930.6zM125.3 930.6L125.54 927.95h0.22L126 930.6zM126.64 930.6L126.88 924.44h0.22L127.34 930.6z" fill="#ec8a94" stroke="#ec8a94" stroke-width="0.3" stroke-linejoin="round"/>
<path d="M91.25 930.6L91.97 903.2h0.66L93.35 930.6z" fill="#0000ff" stroke="#0000ff" stroke-width="0.3" stroke-linejoin="round"/>
<path d="M90.31 930.6L90.65 924.1h0.31L91.29 930.6z" fill="#e59aa2" stroke="#e59aa2" stroke-width="0.3" stroke-linejoin="round"/>
<path d="M173.38 930.6L173.67 925h0.26L174.22 930.6zM211.38 930.6L211.67 926.2h0.26L212.22 930.6zM239.48 930.6L239.77 923.8h0.26L240.32 930.6zM266.48 930.6L266.77 925h0.26L267.32 930.6zM428.78 930.6L429.07 925.1h0.26L429.62 930.6z" fill="#f04050" stroke="#f04050" stroke-width="0.3" stroke-linejoin="round"/>
<path d="M222.98 930.6L223.27 922.6h0.26L223.82 930.6zM227.08 930.6L227.37 925h0.26L227.92 930.6zM238.68 930.6L238.97 921.4h0.26L239.52 930.6zM271.28 930.6L271.57 925h0.26L272.12 930.6z" fill="#2020e0" stroke="#2020e0" stroke-width="0.3" stroke-linejoin="round"/>
<path d="M272.48 930.6L272.77 921.4h0.26L273.32 930.6z" fill="#333" stroke="#333" stroke-width="0.3" stroke-linejoin="round"/>
<path d="M624.08 930.6L624.37 922.4h0.26L624.92 930.6z" fill="#666" stroke="#666" stroke-width="0.3" stroke-linejoin="round"/>
<path d="M449.78 930.6L450.07 917.6h0.26L450.62 930.6z" fill="#444" stroke="#444" stroke-width="0.3" stroke-linejoin="round"/>
<path d="M463.82 930.6 L464.03 856.8 L465.37 856.8 L465.66 908.46 L466.7 910.67 L467.1 930.6 Z" fill="#9cc2ea"/>
<path d="M447.56 930.6 L447.79 730.4 L449.21 730.4 L449.52 916.59 L450.62 917.99 L451.05 930.6 Z" fill="#0000ff"/>
<path d="M465.68 930.6 L465.87 809.3 L467.13 809.3 L467.4 916.04 L468.38 917.5 L468.75 930.6 Z" fill="#ff0000"/>
<rect x="477.6" y="888" width="2.4" height="42" fill="#f6f7dc"/>
<path d="M475.96 930.6 L476.19 885.4 L477.61 885.4 L477.92 919.3 L479.02 920.43 L479.45 930.6 Z" fill="#3f9a68"/>
<path d="M635.17 930.6 L635.37 708.5 L636.63 708.5 L636.9 850.64 L637.88 858.64 L638.25 930.6 Z" fill="#6e6e6e"/>
<path d="M652.25 930.6 L652.52 509.6 L654.28 509.6 L654.66 846.4 L656.02 854.82 L656.55 930.6 Z" fill="#9cc2ea"/>
<text x="114.6" y="823" font-size="11.55" text-anchor="middle" fill="#111" >80.9</text>
<text x="142.3" y="825.4" font-size="11.55" text-anchor="middle" fill="#111" >95.1</text>
<text x="107.5" y="847.9" font-size="11.55" text-anchor="middle" fill="#111" >67.0</text>
<text x="85.2" y="855.1" font-size="11.55" text-anchor="middle" fill="#111" >55.3</text>
<text x="151.9" y="890.6" font-size="11.55" text-anchor="middle" fill="#111" >107.0</text>
<text x="90.5" y="901" font-size="11.55" text-anchor="middle" fill="#111" >43.0</text>
<text x="189" y="906.3" font-size="11.55" text-anchor="middle" fill="#111" >145.4</text>
<text x="293.5" y="915.3" font-size="11.55" text-anchor="middle" fill="#111" >339.3</text>
<text x="392.1" y="918.5" font-size="11.55" text-anchor="middle" fill="#111" >525.5</text>
<text x="427.5" y="911.5" font-size="11.55" text-anchor="middle" fill="#111" >543.6</text>
<text x="432.7" y="830.7" font-size="11.55" text-anchor="middle" fill="#111" >599.8</text>
<text x="637.5" y="917" font-size="11.55" text-anchor="middle" fill="#111" >864.3</text>
<text x="432.6" y="714" font-size="11.55" text-anchor="start" fill="#111" >575.9</text>
<text x="432.6" y="727.4" font-size="10.9" text-anchor="start" fill="#000" style="stroke:none">(precursor)</text>
<text x="455.6" y="792.2" font-size="11.55" text-anchor="start" fill="#111" >601.9</text>
<text x="455.6" y="805.6" font-size="10.9" text-anchor="start" fill="#000" style="stroke:none">(precursor)</text>
<text x="471.7" y="865.1" font-size="11.55" text-anchor="start" fill="#111" >617.9</text>
<text x="471.7" y="878.5" font-size="10.9" text-anchor="start" fill="#000" style="stroke:none">(precursor)</text>
<text x="598.2" y="686.8" font-size="11.55" text-anchor="start" fill="#111" >856.2</text>
<text x="598.2" y="701.6" font-size="10.9" text-anchor="start" fill="#000" style="stroke:none">(precursor)</text>
<text x="647.5" y="508.8" font-size="11.55" text-anchor="end" fill="#111" >881.9</text>
<text x="651.7" y="523.8" font-size="10.9" text-anchor="end" fill="#000" style="stroke:none">(precursor)</text>
<line x1="648.5" y1="507" x2="652.6" y2="511" stroke="#333" stroke-width="0.7" />
<line x1="130" y1="826" x2="127" y2="829.5" stroke="#333" stroke-width="0.7" />
<line x1="96.7" y1="855" x2="100" y2="857.5" stroke="#333" stroke-width="0.7" />
<line x1="137.8" y1="890" x2="135" y2="893" stroke="#333" stroke-width="0.7" />
<line x1="175" y1="906.3" x2="161" y2="914" stroke="#333" stroke-width="0.7" />
<line x1="410.7" y1="918" x2="415.2" y2="920.6" stroke="#333" stroke-width="0.7" />
<line x1="432.1" y1="833.8" x2="458.57" y2="852.48" stroke="#222" stroke-width="1.1" />
<path d="M464.7 856.8 L456.96 854.76 L460.19 850.19 Z" fill="#111"/>
<text x="583.8" y="549.5" font-size="19" text-anchor="middle" fill="#000" >(b)</text>
<path d="M66.3 927.2 L70.4 930.7 L66.3 934.4 Z" fill="#0000ff" stroke="#001060" stroke-width="0.5"/>
</svg>
</body></html>
